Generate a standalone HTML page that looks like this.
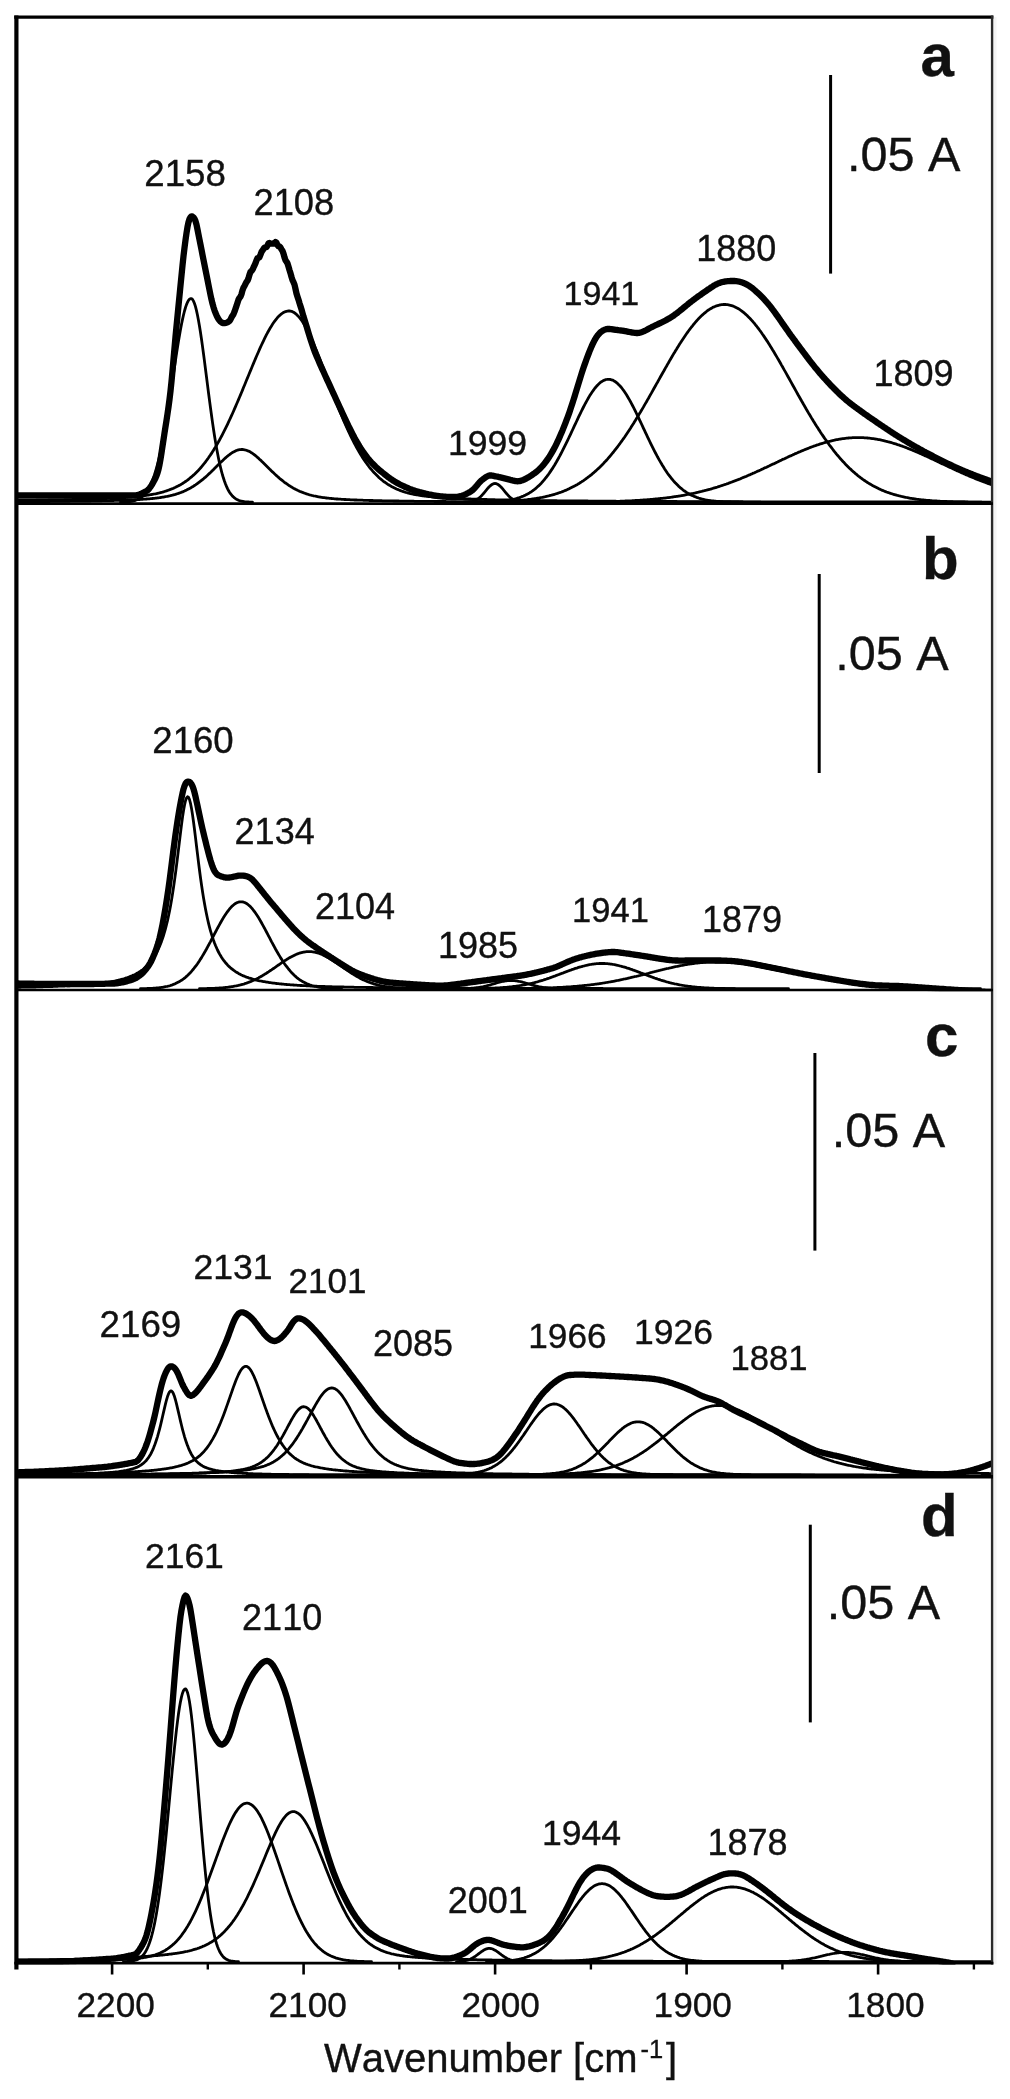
<!DOCTYPE html>
<html lang="en"><head><meta charset="utf-8"><title>IR spectra</title>
<style>html,body{margin:0;padding:0;background:#fff}svg{display:block;filter:blur(0.45px)}</style></head>
<body>
<svg width="1010" height="2099" viewBox="0 0 1010 2099" style="display:block">
<rect x="0" y="0" width="1010" height="2099" fill="#fff"/>
<defs><clipPath id="cpa"><rect x="16.5" y="17" width="976" height="487.9"/></clipPath><clipPath id="cpb"><rect x="16.5" y="503.6" width="976" height="487.7"/></clipPath><clipPath id="cpc"><rect x="16.5" y="990.0" width="976" height="488.5"/></clipPath><clipPath id="cpd"><rect x="16.5" y="1476.8" width="976" height="487.7"/></clipPath></defs>
<g clip-path="url(#cpa)" fill="none" stroke="#000" stroke-linejoin="round" stroke-linecap="round">
<path d="M120.5,502.2 L121.5,502.2 L122.5,502.1 L123.5,502.1 L124.5,502.0 L125.5,502.0 L126.5,501.9 L127.5,501.8 L128.5,501.7 L129.5,501.6 L130.5,501.5 L131.5,501.3 L132.5,501.1 L133.5,500.9 L134.5,500.6 L135.5,500.3 L136.5,499.9 L137.5,499.5 L138.5,499.0 L139.5,498.5 L140.5,497.8 L141.5,497.1 L142.5,496.3 L143.5,495.4 L144.5,494.3 L145.5,493.2 L146.5,491.8 L147.5,490.4 L148.5,488.7 L149.5,486.9 L150.5,484.9 L151.5,482.7 L152.5,480.2 L153.5,477.6 L154.5,474.7 L155.5,471.5 L156.5,468.1 L157.5,464.4 L158.5,460.5 L159.5,456.3 L160.5,451.8 L161.5,447.0 L162.5,442.0 L163.5,436.7 L164.5,431.2 L165.5,425.4 L166.5,419.4 L167.5,413.3 L168.5,406.9 L169.5,400.4 L170.5,393.8 L171.5,387.1 L172.5,380.3 L173.5,373.5 L174.5,366.8 L175.5,360.2 L176.5,353.6 L177.5,347.2 L178.5,341.1 L179.5,335.2 L180.5,329.6 L181.5,324.3 L182.5,319.4 L183.5,315.0 L184.5,311.0 L185.5,307.5 L186.5,304.6 L187.5,302.2 L188.5,300.4 L189.5,299.2 L190.5,298.6 L191.5,298.6 L192.5,299.4 L193.5,301.1 L194.5,303.5 L195.5,306.7 L196.5,310.6 L197.5,315.2 L198.5,320.4 L199.5,326.2 L200.5,332.5 L201.5,339.3 L202.5,346.4 L203.5,353.8 L204.5,361.4 L205.5,369.2 L206.5,377.0 L207.5,384.9 L208.5,392.7 L209.5,400.4 L210.5,407.9 L211.5,415.3 L212.5,422.4 L213.5,429.2 L214.5,435.7 L215.5,441.9 L216.5,447.7 L217.5,453.1 L218.5,458.2 L219.5,463.0 L220.5,467.3 L221.5,471.3 L222.5,475.0 L223.5,478.3 L224.5,481.3 L225.5,484.0 L226.5,486.4 L227.5,488.6 L228.5,490.5 L229.5,492.2 L230.5,493.7 L231.5,494.9 L232.5,496.1 L233.5,497.0 L234.5,497.9 L235.5,498.6 L236.5,499.2 L237.5,499.7 L238.5,500.2 L239.5,500.6 L240.5,500.9 L241.5,501.1 L242.5,501.4 L243.5,501.5 L244.5,501.7 L245.5,501.8 L246.5,501.9 L247.5,502.0 L248.5,502.0 L249.5,502.1 L250.5,502.1 L251.5,502.2 L252.5,502.2" stroke-width="2.8"/>
<path d="M16.5,501.7 L17.5,501.7 L18.5,501.7 L19.5,501.7 L20.5,501.7 L21.5,501.7 L22.5,501.6 L23.5,501.6 L24.5,501.6 L25.5,501.6 L26.5,501.6 L27.5,501.6 L28.5,501.6 L29.5,501.6 L30.5,501.6 L31.5,501.6 L32.5,501.6 L33.5,501.6 L34.5,501.6 L35.5,501.6 L36.5,501.6 L37.5,501.5 L38.5,501.5 L39.5,501.5 L40.5,501.5 L41.5,501.5 L42.5,501.5 L43.5,501.5 L44.5,501.5 L45.5,501.5 L46.5,501.5 L47.5,501.5 L48.5,501.5 L49.5,501.5 L50.5,501.4 L51.5,501.4 L52.5,501.4 L53.5,501.4 L54.5,501.4 L55.5,501.4 L56.5,501.4 L57.5,501.4 L58.5,501.4 L59.5,501.4 L60.5,501.4 L61.5,501.3 L62.5,501.3 L63.5,501.3 L64.5,501.3 L65.5,501.3 L66.5,501.3 L67.5,501.3 L68.5,501.3 L69.5,501.3 L70.5,501.2 L71.5,501.2 L72.5,501.2 L73.5,501.2 L74.5,501.2 L75.5,501.2 L76.5,501.2 L77.5,501.2 L78.5,501.1 L79.5,501.1 L80.5,501.1 L81.5,501.1 L82.5,501.1 L83.5,501.1 L84.5,501.1 L85.5,501.0 L86.5,501.0 L87.5,501.0 L88.5,501.0 L89.5,501.0 L90.5,501.0 L91.5,500.9 L92.5,500.9 L93.5,500.9 L94.5,500.9 L95.5,500.9 L96.5,500.9 L97.5,500.8 L98.5,500.8 L99.5,500.8 L100.5,500.8 L101.5,500.8 L102.5,500.7 L103.5,500.7 L104.5,500.7 L105.5,500.7 L106.5,500.6 L107.5,500.6 L108.5,500.6 L109.5,500.6 L110.5,500.5 L111.5,500.5 L112.5,500.5 L113.5,500.5 L114.5,500.4 L115.5,500.4 L116.5,500.4 L117.5,500.4 L118.5,500.3 L119.5,500.3 L120.5,500.3 L121.5,500.2 L122.5,500.2 L123.5,500.2 L124.5,500.1 L125.5,500.1 L126.5,500.1 L127.5,500.0 L128.5,500.0 L129.5,499.9 L130.5,499.9 L131.5,499.9 L132.5,499.8 L133.5,499.8 L134.5,499.7 L135.5,499.7 L136.5,499.6 L137.5,499.6 L138.5,499.5 L139.5,499.5 L140.5,499.4 L141.5,499.3 L142.5,499.3 L143.5,499.2 L144.5,499.2 L145.5,499.1 L146.5,499.0 L147.5,498.9 L148.5,498.9 L149.5,498.8 L150.5,498.7 L151.5,498.6 L152.5,498.5 L153.5,498.4 L154.5,498.3 L155.5,498.2 L156.5,498.1 L157.5,497.9 L158.5,497.8 L159.5,497.7 L160.5,497.5 L161.5,497.4 L162.5,497.2 L163.5,497.1 L164.5,496.9 L165.5,496.7 L166.5,496.5 L167.5,496.3 L168.5,496.1 L169.5,495.9 L170.5,495.7 L171.5,495.4 L172.5,495.2 L173.5,494.9 L174.5,494.6 L175.5,494.4 L176.5,494.0 L177.5,493.7 L178.5,493.4 L179.5,493.0 L180.5,492.7 L181.5,492.3 L182.5,491.9 L183.5,491.4 L184.5,491.0 L185.5,490.5 L186.5,490.1 L187.5,489.6 L188.5,489.1 L189.5,488.5 L190.5,488.0 L191.5,487.4 L192.5,486.8 L193.5,486.2 L194.5,485.5 L195.5,484.9 L196.5,484.2 L197.5,483.5 L198.5,482.7 L199.5,482.0 L200.5,481.2 L201.5,480.4 L202.5,479.6 L203.5,478.8 L204.5,477.9 L205.5,477.1 L206.5,476.2 L207.5,475.3 L208.5,474.3 L209.5,473.4 L210.5,472.5 L211.5,471.5 L212.5,470.5 L213.5,469.6 L214.5,468.6 L215.5,467.6 L216.5,466.6 L217.5,465.6 L218.5,464.6 L219.5,463.6 L220.5,462.6 L221.5,461.6 L222.5,460.7 L223.5,459.7 L224.5,458.8 L225.5,457.9 L226.5,457.0 L227.5,456.2 L228.5,455.3 L229.5,454.6 L230.5,453.8 L231.5,453.1 L232.5,452.5 L233.5,451.9 L234.5,451.4 L235.5,450.9 L236.5,450.5 L237.5,450.2 L238.5,449.9 L239.5,449.7 L240.5,449.6 L241.5,449.5 L242.5,449.5 L243.5,449.6 L244.5,449.8 L245.5,450.0 L246.5,450.3 L247.5,450.7 L248.5,451.1 L249.5,451.6 L250.5,452.1 L251.5,452.8 L252.5,453.4 L253.5,454.1 L254.5,454.9 L255.5,455.7 L256.5,456.5 L257.5,457.4 L258.5,458.2 L259.5,459.2 L260.5,460.1 L261.5,461.1 L262.5,462.0 L263.5,463.0 L264.5,464.0 L265.5,465.0 L266.5,466.0 L267.5,467.0 L268.5,468.0 L269.5,469.0 L270.5,469.9 L271.5,470.9 L272.5,471.9 L273.5,472.8 L274.5,473.8 L275.5,474.7 L276.5,475.6 L277.5,476.5 L278.5,477.4 L279.5,478.3 L280.5,479.1 L281.5,479.9 L282.5,480.7 L283.5,481.5 L284.5,482.3 L285.5,483.0 L286.5,483.7 L287.5,484.4 L288.5,485.1 L289.5,485.8 L290.5,486.4 L291.5,487.0 L292.5,487.6 L293.5,488.2 L294.5,488.7 L295.5,489.3 L296.5,489.8 L297.5,490.3 L298.5,490.7 L299.5,491.2 L300.5,491.6 L301.5,492.0 L302.5,492.4 L303.5,492.8 L304.5,493.2 L305.5,493.5 L306.5,493.9 L307.5,494.2 L308.5,494.5 L309.5,494.8 L310.5,495.0 L311.5,495.3 L312.5,495.5 L313.5,495.8 L314.5,496.0 L315.5,496.2 L316.5,496.4 L317.5,496.6 L318.5,496.8 L319.5,497.0 L320.5,497.1 L321.5,497.3 L322.5,497.5 L323.5,497.6 L324.5,497.7 L325.5,497.9 L326.5,498.0 L327.5,498.1 L328.5,498.2 L329.5,498.3 L330.5,498.4 L331.5,498.5 L332.5,498.6 L333.5,498.7 L334.5,498.8 L335.5,498.9 L336.5,499.0 L337.5,499.0 L338.5,499.1 L339.5,499.2 L340.5,499.2 L341.5,499.3 L342.5,499.4 L343.5,499.4 L344.5,499.5 L345.5,499.5 L346.5,499.6 L347.5,499.6 L348.5,499.7 L349.5,499.7 L350.5,499.8 L351.5,499.8 L352.5,499.9 L353.5,499.9 L354.5,500.0 L355.5,500.0 L356.5,500.0 L357.5,500.1 L358.5,500.1 L359.5,500.1 L360.5,500.2 L361.5,500.2 L362.5,500.2 L363.5,500.3 L364.5,500.3 L365.5,500.3 L366.5,500.4 L367.5,500.4 L368.5,500.4 L369.5,500.5 L370.5,500.5 L371.5,500.5 L372.5,500.5 L373.5,500.6 L374.5,500.6 L375.5,500.6 L376.5,500.6 L377.5,500.7 L378.5,500.7 L379.5,500.7 L380.5,500.7 L381.5,500.7 L382.5,500.8 L383.5,500.8 L384.5,500.8 L385.5,500.8 L386.5,500.8 L387.5,500.9 L388.5,500.9 L389.5,500.9 L390.5,500.9 L391.5,500.9 L392.5,500.9 L393.5,501.0 L394.5,501.0 L395.5,501.0 L396.5,501.0 L397.5,501.0 L398.5,501.0 L399.5,501.1 L400.5,501.1 L401.5,501.1 L402.5,501.1 L403.5,501.1 L404.5,501.1 L405.5,501.1 L406.5,501.2 L407.5,501.2 L408.5,501.2 L409.5,501.2 L410.5,501.2 L411.5,501.2 L412.5,501.2 L413.5,501.2 L414.5,501.3 L415.5,501.3 L416.5,501.3 L417.5,501.3 L418.5,501.3 L419.5,501.3 L420.5,501.3 L421.5,501.3 L422.5,501.3 L423.5,501.4 L424.5,501.4 L425.5,501.4 L426.5,501.4 L427.5,501.4 L428.5,501.4 L429.5,501.4 L430.5,501.4 L431.5,501.4 L432.5,501.4 L433.5,501.4 L434.5,501.5 L435.5,501.5 L436.5,501.5 L437.5,501.5 L438.5,501.5 L439.5,501.5 L440.5,501.5 L441.5,501.5 L442.5,501.5 L443.5,501.5 L444.5,501.5 L445.5,501.5 L446.5,501.6 L447.5,501.6 L448.5,501.6 L449.5,501.6 L450.5,501.6 L451.5,501.6 L452.5,501.6 L453.5,501.6 L454.5,501.6 L455.5,501.6 L456.5,501.6 L457.5,501.6 L458.5,501.6 L459.5,501.6 L460.5,501.6 L461.5,501.6 L462.5,501.7 L463.5,501.7 L464.5,501.7 L465.5,501.7 L466.5,501.7 L467.5,501.7 L468.5,501.7 L469.5,501.7 L470.5,501.7 L471.5,501.7 L472.5,501.7 L473.5,501.7 L474.5,501.7 L475.5,501.7 L476.5,501.7 L477.5,501.7 L478.5,501.7 L479.5,501.7 L480.5,501.7 L481.5,501.7 L482.5,501.8 L483.5,501.8 L484.5,501.8 L485.5,501.8 L486.5,501.8 L487.5,501.8 L488.5,501.8 L489.5,501.8 L490.5,501.8 L491.5,501.8 L492.5,501.8 L493.5,501.8 L494.5,501.8 L495.5,501.8 L496.5,501.8 L497.5,501.8 L498.5,501.8 L499.5,501.8 L500.5,501.8 L501.5,501.8 L502.5,501.8 L503.5,501.8 L504.5,501.8 L505.5,501.8 L506.5,501.8 L507.5,501.8 L508.5,501.9 L509.5,501.9 L510.5,501.9 L511.5,501.9 L512.5,501.9 L513.5,501.9 L514.5,501.9 L515.5,501.9 L516.5,501.9 L517.5,501.9 L518.5,501.9 L519.5,501.9 L520.5,501.9 L521.5,501.9 L522.5,501.9 L523.5,501.9 L524.5,501.9 L525.5,501.9 L526.5,501.9 L527.5,501.9 L528.5,501.9 L529.5,501.9 L530.5,501.9 L531.5,501.9 L532.5,501.9 L533.5,501.9 L534.5,501.9 L535.5,501.9 L536.5,501.9 L537.5,501.9 L538.5,501.9 L539.5,501.9 L540.5,501.9 L541.5,501.9 L542.5,501.9 L543.5,501.9 L544.5,502.0 L545.5,502.0 L546.5,502.0 L547.5,502.0 L548.5,502.0 L549.5,502.0 L550.5,502.0 L551.5,502.0 L552.5,502.0 L553.5,502.0 L554.5,502.0 L555.5,502.0 L556.5,502.0 L557.5,502.0 L558.5,502.0 L559.5,502.0 L560.5,502.0 L561.5,502.0 L562.5,502.0 L563.5,502.0 L564.5,502.0 L565.5,502.0 L566.5,502.0 L567.5,502.0 L568.5,502.0 L569.5,502.0 L570.5,502.0 L571.5,502.0 L572.5,502.0 L573.5,502.0 L574.5,502.0 L575.5,502.0 L576.5,502.0 L577.5,502.0 L578.5,502.0 L579.5,502.0 L580.5,502.0 L581.5,502.0 L582.5,502.0 L583.5,502.0 L584.5,502.0 L585.5,502.0 L586.5,502.0 L587.5,502.0 L588.5,502.0 L589.5,502.0 L590.5,502.0 L591.5,502.0 L592.5,502.0 L593.5,502.0 L594.5,502.0 L595.5,502.0 L596.5,502.0 L597.5,502.0 L598.5,502.0 L599.5,502.0 L600.5,502.1 L601.5,502.1 L602.5,502.1 L603.5,502.1 L604.5,502.1 L605.5,502.1 L606.5,502.1 L607.5,502.1 L608.5,502.1 L609.5,502.1 L610.5,502.1 L611.5,502.1 L612.5,502.1 L613.5,502.1 L614.5,502.1 L615.5,502.1 L616.5,502.1 L617.5,502.1 L618.5,502.1 L619.5,502.1 L620.5,502.1 L621.5,502.1 L622.5,502.1 L623.5,502.1 L624.5,502.1 L625.5,502.1 L626.5,502.1 L627.5,502.1 L628.5,502.1 L629.5,502.1 L630.5,502.1 L631.5,502.1 L632.5,502.1 L633.5,502.1 L634.5,502.1 L635.5,502.1 L636.5,502.1 L637.5,502.1 L638.5,502.1 L639.5,502.1 L640.5,502.1 L641.5,502.1 L642.5,502.1 L643.5,502.1 L644.5,502.1 L645.5,502.1 L646.5,502.1 L647.5,502.1 L648.5,502.1 L649.5,502.1 L650.5,502.1 L651.5,502.1 L652.5,502.1 L653.5,502.1 L654.5,502.1 L655.5,502.1 L656.5,502.1 L657.5,502.1 L658.5,502.1 L659.5,502.1 L660.5,502.1 L661.5,502.1 L662.5,502.1 L663.5,502.1 L664.5,502.1 L665.5,502.1 L666.5,502.1 L667.5,502.1 L668.5,502.1 L669.5,502.1 L670.5,502.1 L671.5,502.1 L672.5,502.1 L673.5,502.1 L674.5,502.1 L675.5,502.1 L676.5,502.1 L677.5,502.1 L678.5,502.1 L679.5,502.1 L680.5,502.1 L681.5,502.1 L682.5,502.1 L683.5,502.1 L684.5,502.1 L685.5,502.1 L686.5,502.1 L687.5,502.1 L688.5,502.1 L689.5,502.1 L690.5,502.1 L691.5,502.1 L692.5,502.1 L693.5,502.1 L694.5,502.1 L695.5,502.1 L696.5,502.1 L697.5,502.1 L698.5,502.1 L699.5,502.1 L700.5,502.1 L701.5,502.1 L702.5,502.1 L703.5,502.1 L704.5,502.1 L705.5,502.2 L706.5,502.2 L707.5,502.2 L708.5,502.2 L709.5,502.2 L710.5,502.2 L711.5,502.2 L712.5,502.2 L713.5,502.2 L714.5,502.2 L715.5,502.2 L716.5,502.2 L717.5,502.2 L718.5,502.2 L719.5,502.2 L720.5,502.2 L721.5,502.2 L722.5,502.2 L723.5,502.2 L724.5,502.2 L725.5,502.2 L726.5,502.2 L727.5,502.2 L728.5,502.2 L729.5,502.2 L730.5,502.2 L731.5,502.2 L732.5,502.2 L733.5,502.2 L734.5,502.2 L735.5,502.2 L736.5,502.2 L737.5,502.2 L738.5,502.2 L739.5,502.2 L740.5,502.2 L741.5,502.2 L742.5,502.2 L743.5,502.2 L744.5,502.2 L745.5,502.2 L746.5,502.2 L747.5,502.2 L748.5,502.2 L749.5,502.2 L750.5,502.2 L751.5,502.2 L752.5,502.2 L753.5,502.2 L754.5,502.2 L755.5,502.2 L756.5,502.2 L757.5,502.2 L758.5,502.2 L759.5,502.2 L760.5,502.2" stroke-width="2.8"/>
<path d="M16.5,500.5 L17.5,500.5 L18.5,500.5 L19.5,500.5 L20.5,500.5 L21.5,500.5 L22.5,500.4 L23.5,500.4 L24.5,500.4 L25.5,500.4 L26.5,500.4 L27.5,500.4 L28.5,500.4 L29.5,500.4 L30.5,500.3 L31.5,500.3 L32.5,500.3 L33.5,500.3 L34.5,500.3 L35.5,500.3 L36.5,500.2 L37.5,500.2 L38.5,500.2 L39.5,500.2 L40.5,500.2 L41.5,500.2 L42.5,500.1 L43.5,500.1 L44.5,500.1 L45.5,500.1 L46.5,500.1 L47.5,500.1 L48.5,500.0 L49.5,500.0 L50.5,500.0 L51.5,500.0 L52.5,500.0 L53.5,500.0 L54.5,499.9 L55.5,499.9 L56.5,499.9 L57.5,499.9 L58.5,499.9 L59.5,499.8 L60.5,499.8 L61.5,499.8 L62.5,499.8 L63.5,499.8 L64.5,499.7 L65.5,499.7 L66.5,499.7 L67.5,499.7 L68.5,499.6 L69.5,499.6 L70.5,499.6 L71.5,499.6 L72.5,499.5 L73.5,499.5 L74.5,499.5 L75.5,499.5 L76.5,499.4 L77.5,499.4 L78.5,499.4 L79.5,499.4 L80.5,499.3 L81.5,499.3 L82.5,499.3 L83.5,499.3 L84.5,499.2 L85.5,499.2 L86.5,499.2 L87.5,499.1 L88.5,499.1 L89.5,499.1 L90.5,499.1 L91.5,499.0 L92.5,499.0 L93.5,499.0 L94.5,498.9 L95.5,498.9 L96.5,498.9 L97.5,498.8 L98.5,498.8 L99.5,498.7 L100.5,498.7 L101.5,498.7 L102.5,498.6 L103.5,498.6 L104.5,498.6 L105.5,498.5 L106.5,498.5 L107.5,498.4 L108.5,498.4 L109.5,498.3 L110.5,498.3 L111.5,498.2 L112.5,498.2 L113.5,498.2 L114.5,498.1 L115.5,498.0 L116.5,498.0 L117.5,497.9 L118.5,497.9 L119.5,497.8 L120.5,497.8 L121.5,497.7 L122.5,497.7 L123.5,497.6 L124.5,497.5 L125.5,497.5 L126.5,497.4 L127.5,497.3 L128.5,497.2 L129.5,497.2 L130.5,497.1 L131.5,497.0 L132.5,496.9 L133.5,496.8 L134.5,496.7 L135.5,496.6 L136.5,496.5 L137.5,496.4 L138.5,496.3 L139.5,496.2 L140.5,496.1 L141.5,496.0 L142.5,495.9 L143.5,495.8 L144.5,495.6 L145.5,495.5 L146.5,495.3 L147.5,495.2 L148.5,495.0 L149.5,494.9 L150.5,494.7 L151.5,494.5 L152.5,494.4 L153.5,494.2 L154.5,494.0 L155.5,493.8 L156.5,493.6 L157.5,493.3 L158.5,493.1 L159.5,492.9 L160.5,492.6 L161.5,492.3 L162.5,492.1 L163.5,491.8 L164.5,491.5 L165.5,491.2 L166.5,490.9 L167.5,490.5 L168.5,490.2 L169.5,489.8 L170.5,489.4 L171.5,489.0 L172.5,488.6 L173.5,488.2 L174.5,487.7 L175.5,487.3 L176.5,486.8 L177.5,486.3 L178.5,485.8 L179.5,485.2 L180.5,484.7 L181.5,484.1 L182.5,483.5 L183.5,482.8 L184.5,482.2 L185.5,481.5 L186.5,480.8 L187.5,480.1 L188.5,479.3 L189.5,478.5 L190.5,477.7 L191.5,476.9 L192.5,476.0 L193.5,475.1 L194.5,474.2 L195.5,473.2 L196.5,472.2 L197.5,471.2 L198.5,470.2 L199.5,469.1 L200.5,468.0 L201.5,466.8 L202.5,465.6 L203.5,464.4 L204.5,463.2 L205.5,461.9 L206.5,460.5 L207.5,459.2 L208.5,457.8 L209.5,456.3 L210.5,454.9 L211.5,453.4 L212.5,451.8 L213.5,450.2 L214.5,448.6 L215.5,447.0 L216.5,445.3 L217.5,443.5 L218.5,441.8 L219.5,440.0 L220.5,438.1 L221.5,436.3 L222.5,434.3 L223.5,432.4 L224.5,430.4 L225.5,428.4 L226.5,426.4 L227.5,424.3 L228.5,422.2 L229.5,420.0 L230.5,417.9 L231.5,415.7 L232.5,413.5 L233.5,411.2 L234.5,408.9 L235.5,406.6 L236.5,404.3 L237.5,402.0 L238.5,399.6 L239.5,397.3 L240.5,394.9 L241.5,392.5 L242.5,390.1 L243.5,387.6 L244.5,385.2 L245.5,382.8 L246.5,380.3 L247.5,377.9 L248.5,375.5 L249.5,373.0 L250.5,370.6 L251.5,368.2 L252.5,365.8 L253.5,363.4 L254.5,361.0 L255.5,358.6 L256.5,356.3 L257.5,354.0 L258.5,351.7 L259.5,349.4 L260.5,347.2 L261.5,345.0 L262.5,342.9 L263.5,340.8 L264.5,338.7 L265.5,336.7 L266.5,334.7 L267.5,332.8 L268.5,331.0 L269.5,329.2 L270.5,327.5 L271.5,325.9 L272.5,324.3 L273.5,322.8 L274.5,321.4 L275.5,320.1 L276.5,318.8 L277.5,317.6 L278.5,316.6 L279.5,315.6 L280.5,314.7 L281.5,313.9 L282.5,313.2 L283.5,312.5 L284.5,312.0 L285.5,311.6 L286.5,311.3 L287.5,311.1 L288.5,311.0 L289.5,311.0 L290.5,311.1 L291.5,311.4 L292.5,311.7 L293.5,312.2 L294.5,312.8 L295.5,313.6 L296.5,314.4 L297.5,315.4 L298.5,316.4 L299.5,317.6 L300.5,318.9 L301.5,320.3 L302.5,321.7 L303.5,323.3 L304.5,325.0 L305.5,326.7 L306.5,328.6 L307.5,330.5 L308.5,332.5 L309.5,334.5 L310.5,336.6 L311.5,338.8 L312.5,341.1 L313.5,343.4 L314.5,345.7 L315.5,348.2 L316.5,350.6 L317.5,353.1 L318.5,355.6 L319.5,358.1 L320.5,360.7 L321.5,363.3 L322.5,365.9 L323.5,368.6 L324.5,371.2 L325.5,373.9 L326.5,376.5 L327.5,379.2 L328.5,381.9 L329.5,384.5 L330.5,387.2 L331.5,389.8 L332.5,392.5 L333.5,395.1 L334.5,397.7 L335.5,400.3 L336.5,402.8 L337.5,405.4 L338.5,407.9 L339.5,410.4 L340.5,412.9 L341.5,415.3 L342.5,417.7 L343.5,420.1 L344.5,422.4 L345.5,424.7 L346.5,426.9 L347.5,429.2 L348.5,431.3 L349.5,433.5 L350.5,435.6 L351.5,437.6 L352.5,439.7 L353.5,441.6 L354.5,443.6 L355.5,445.4 L356.5,447.3 L357.5,449.1 L358.5,450.8 L359.5,452.6 L360.5,454.2 L361.5,455.8 L362.5,457.4 L363.5,459.0 L364.5,460.5 L365.5,461.9 L366.5,463.3 L367.5,464.7 L368.5,466.0 L369.5,467.3 L370.5,468.5 L371.5,469.7 L372.5,470.9 L373.5,472.0 L374.5,473.1 L375.5,474.1 L376.5,475.1 L377.5,476.1 L378.5,477.1 L379.5,478.0 L380.5,478.8 L381.5,479.7 L382.5,480.5 L383.5,481.3 L384.5,482.0 L385.5,482.7 L386.5,483.4 L387.5,484.1 L388.5,484.7 L389.5,485.3 L390.5,485.9 L391.5,486.5 L392.5,487.0 L393.5,487.5 L394.5,488.0 L395.5,488.5 L396.5,489.0 L397.5,489.4 L398.5,489.8 L399.5,490.2 L400.5,490.6 L401.5,491.0 L402.5,491.3 L403.5,491.6 L404.5,492.0 L405.5,492.3 L406.5,492.5 L407.5,492.8 L408.5,493.1 L409.5,493.3 L410.5,493.6 L411.5,493.8 L412.5,494.0 L413.5,494.3 L414.5,494.5 L415.5,494.6 L416.5,494.8 L417.5,495.0 L418.5,495.2 L419.5,495.3 L420.5,495.5 L421.5,495.6 L422.5,495.8 L423.5,495.9 L424.5,496.1 L425.5,496.2 L426.5,496.3 L427.5,496.4 L428.5,496.5 L429.5,496.6 L430.5,496.7 L431.5,496.8 L432.5,496.9 L433.5,497.0 L434.5,497.1 L435.5,497.2 L436.5,497.3 L437.5,497.4 L438.5,497.4 L439.5,497.5 L440.5,497.6 L441.5,497.7 L442.5,497.7 L443.5,497.8 L444.5,497.8 L445.5,497.9 L446.5,498.0 L447.5,498.0 L448.5,498.1 L449.5,498.1 L450.5,498.2 L451.5,498.2 L452.5,498.3 L453.5,498.3 L454.5,498.4 L455.5,498.4 L456.5,498.5 L457.5,498.5 L458.5,498.6 L459.5,498.6 L460.5,498.7 L461.5,498.7 L462.5,498.7 L463.5,498.8 L464.5,498.8 L465.5,498.9 L466.5,498.9 L467.5,498.9 L468.5,499.0 L469.5,499.0 L470.5,499.0 L471.5,499.1 L472.5,499.1 L473.5,499.1 L474.5,499.2 L475.5,499.2 L476.5,499.2 L477.5,499.3 L478.5,499.3 L479.5,499.3 L480.5,499.4 L481.5,499.4 L482.5,499.4 L483.5,499.4 L484.5,499.5 L485.5,499.5 L486.5,499.5 L487.5,499.6 L488.5,499.6 L489.5,499.6 L490.5,499.6 L491.5,499.7 L492.5,499.7 L493.5,499.7 L494.5,499.7 L495.5,499.8 L496.5,499.8 L497.5,499.8 L498.5,499.8 L499.5,499.8 L500.5,499.9 L501.5,499.9 L502.5,499.9 L503.5,499.9 L504.5,499.9 L505.5,500.0 L506.5,500.0 L507.5,500.0 L508.5,500.0 L509.5,500.0 L510.5,500.1 L511.5,500.1 L512.5,500.1 L513.5,500.1 L514.5,500.1 L515.5,500.2 L516.5,500.2 L517.5,500.2 L518.5,500.2 L519.5,500.2 L520.5,500.2 L521.5,500.3 L522.5,500.3 L523.5,500.3 L524.5,500.3 L525.5,500.3 L526.5,500.3 L527.5,500.4 L528.5,500.4 L529.5,500.4 L530.5,500.4 L531.5,500.4 L532.5,500.4 L533.5,500.5 L534.5,500.5 L535.5,500.5 L536.5,500.5 L537.5,500.5 L538.5,500.5 L539.5,500.5 L540.5,500.6 L541.5,500.6 L542.5,500.6 L543.5,500.6 L544.5,500.6 L545.5,500.6 L546.5,500.6 L547.5,500.6 L548.5,500.7 L549.5,500.7 L550.5,500.7 L551.5,500.7 L552.5,500.7 L553.5,500.7 L554.5,500.7 L555.5,500.7 L556.5,500.7 L557.5,500.8 L558.5,500.8 L559.5,500.8 L560.5,500.8 L561.5,500.8 L562.5,500.8 L563.5,500.8 L564.5,500.8 L565.5,500.8 L566.5,500.9 L567.5,500.9 L568.5,500.9 L569.5,500.9 L570.5,500.9 L571.5,500.9 L572.5,500.9 L573.5,500.9 L574.5,500.9 L575.5,500.9 L576.5,500.9 L577.5,501.0 L578.5,501.0 L579.5,501.0 L580.5,501.0 L581.5,501.0 L582.5,501.0 L583.5,501.0 L584.5,501.0 L585.5,501.0 L586.5,501.0 L587.5,501.0 L588.5,501.1 L589.5,501.1 L590.5,501.1 L591.5,501.1 L592.5,501.1 L593.5,501.1 L594.5,501.1 L595.5,501.1 L596.5,501.1 L597.5,501.1 L598.5,501.1 L599.5,501.1 L600.5,501.1 L601.5,501.2 L602.5,501.2 L603.5,501.2 L604.5,501.2 L605.5,501.2 L606.5,501.2 L607.5,501.2 L608.5,501.2 L609.5,501.2 L610.5,501.2 L611.5,501.2 L612.5,501.2 L613.5,501.2 L614.5,501.2 L615.5,501.2 L616.5,501.3 L617.5,501.3 L618.5,501.3 L619.5,501.3 L620.5,501.3 L621.5,501.3 L622.5,501.3 L623.5,501.3 L624.5,501.3 L625.5,501.3 L626.5,501.3 L627.5,501.3 L628.5,501.3 L629.5,501.3 L630.5,501.3 L631.5,501.3 L632.5,501.3 L633.5,501.4 L634.5,501.4 L635.5,501.4 L636.5,501.4 L637.5,501.4 L638.5,501.4 L639.5,501.4 L640.5,501.4 L641.5,501.4 L642.5,501.4 L643.5,501.4 L644.5,501.4 L645.5,501.4 L646.5,501.4 L647.5,501.4 L648.5,501.4 L649.5,501.4 L650.5,501.4 L651.5,501.4 L652.5,501.4 L653.5,501.5 L654.5,501.5 L655.5,501.5 L656.5,501.5 L657.5,501.5 L658.5,501.5 L659.5,501.5 L660.5,501.5 L661.5,501.5 L662.5,501.5 L663.5,501.5 L664.5,501.5 L665.5,501.5 L666.5,501.5 L667.5,501.5 L668.5,501.5 L669.5,501.5 L670.5,501.5 L671.5,501.5 L672.5,501.5 L673.5,501.5 L674.5,501.5 L675.5,501.5 L676.5,501.5 L677.5,501.6 L678.5,501.6 L679.5,501.6 L680.5,501.6 L681.5,501.6 L682.5,501.6 L683.5,501.6 L684.5,501.6 L685.5,501.6 L686.5,501.6 L687.5,501.6 L688.5,501.6 L689.5,501.6 L690.5,501.6 L691.5,501.6 L692.5,501.6 L693.5,501.6 L694.5,501.6 L695.5,501.6 L696.5,501.6 L697.5,501.6 L698.5,501.6 L699.5,501.6 L700.5,501.6 L701.5,501.6 L702.5,501.6 L703.5,501.6 L704.5,501.6 L705.5,501.6 L706.5,501.7 L707.5,501.7 L708.5,501.7 L709.5,501.7 L710.5,501.7 L711.5,501.7 L712.5,501.7 L713.5,501.7 L714.5,501.7 L715.5,501.7 L716.5,501.7 L717.5,501.7 L718.5,501.7 L719.5,501.7 L720.5,501.7 L721.5,501.7 L722.5,501.7 L723.5,501.7 L724.5,501.7 L725.5,501.7 L726.5,501.7 L727.5,501.7 L728.5,501.7 L729.5,501.7 L730.5,501.7 L731.5,501.7 L732.5,501.7 L733.5,501.7 L734.5,501.7 L735.5,501.7 L736.5,501.7 L737.5,501.7 L738.5,501.7 L739.5,501.7 L740.5,501.7 L741.5,501.7 L742.5,501.7 L743.5,501.8 L744.5,501.8 L745.5,501.8 L746.5,501.8 L747.5,501.8 L748.5,501.8 L749.5,501.8 L750.5,501.8 L751.5,501.8 L752.5,501.8 L753.5,501.8 L754.5,501.8 L755.5,501.8 L756.5,501.8 L757.5,501.8 L758.5,501.8 L759.5,501.8 L760.5,501.8 L761.5,501.8 L762.5,501.8 L763.5,501.8 L764.5,501.8 L765.5,501.8 L766.5,501.8 L767.5,501.8 L768.5,501.8 L769.5,501.8 L770.5,501.8 L771.5,501.8 L772.5,501.8 L773.5,501.8 L774.5,501.8 L775.5,501.8 L776.5,501.8 L777.5,501.8 L778.5,501.8 L779.5,501.8 L780.5,501.8 L781.5,501.8 L782.5,501.8 L783.5,501.8 L784.5,501.8 L785.5,501.8 L786.5,501.8 L787.5,501.8 L788.5,501.8 L789.5,501.8 L790.5,501.8 L791.5,501.8 L792.5,501.9 L793.5,501.9 L794.5,501.9 L795.5,501.9 L796.5,501.9 L797.5,501.9 L798.5,501.9 L799.5,501.9 L800.5,501.9 L801.5,501.9 L802.5,501.9 L803.5,501.9 L804.5,501.9 L805.5,501.9 L806.5,501.9 L807.5,501.9 L808.5,501.9 L809.5,501.9 L810.5,501.9 L811.5,501.9 L812.5,501.9 L813.5,501.9 L814.5,501.9 L815.5,501.9 L816.5,501.9 L817.5,501.9 L818.5,501.9 L819.5,501.9 L820.5,501.9 L821.5,501.9 L822.5,501.9 L823.5,501.9 L824.5,501.9 L825.5,501.9 L826.5,501.9 L827.5,501.9 L828.5,501.9 L829.5,501.9 L830.5,501.9 L831.5,501.9 L832.5,501.9 L833.5,501.9 L834.5,501.9 L835.5,501.9 L836.5,501.9 L837.5,501.9 L838.5,501.9 L839.5,501.9 L840.5,501.9 L841.5,501.9 L842.5,501.9 L843.5,501.9 L844.5,501.9 L845.5,501.9 L846.5,501.9 L847.5,501.9 L848.5,501.9 L849.5,501.9 L850.5,501.9 L851.5,501.9 L852.5,501.9 L853.5,501.9 L854.5,501.9 L855.5,501.9 L856.5,501.9 L857.5,501.9 L858.5,501.9 L859.5,501.9 L860.5,502.0 L861.5,502.0 L862.5,502.0 L863.5,502.0 L864.5,502.0 L865.5,502.0 L866.5,502.0 L867.5,502.0 L868.5,502.0 L869.5,502.0 L870.5,502.0 L871.5,502.0 L872.5,502.0 L873.5,502.0 L874.5,502.0 L875.5,502.0 L876.5,502.0 L877.5,502.0 L878.5,502.0 L879.5,502.0 L880.5,502.0 L881.5,502.0 L882.5,502.0 L883.5,502.0 L884.5,502.0 L885.5,502.0 L886.5,502.0 L887.5,502.0 L888.5,502.0 L889.5,502.0 L890.5,502.0 L891.5,502.0 L892.5,502.0 L893.5,502.0 L894.5,502.0 L895.5,502.0 L896.5,502.0 L897.5,502.0 L898.5,502.0 L899.5,502.0 L900.5,502.0 L901.5,502.0 L902.5,502.0 L903.5,502.0 L904.5,502.0 L905.5,502.0 L906.5,502.0 L907.5,502.0 L908.5,502.0 L909.5,502.0 L910.5,502.0 L911.5,502.0 L912.5,502.0 L913.5,502.0 L914.5,502.0 L915.5,502.0 L916.5,502.0 L917.5,502.0 L918.5,502.0 L919.5,502.0 L920.5,502.0 L921.5,502.0 L922.5,502.0 L923.5,502.0 L924.5,502.0 L925.5,502.0 L926.5,502.0 L927.5,502.0 L928.5,502.0 L929.5,502.0 L930.5,502.0 L931.5,502.0 L932.5,502.0 L933.5,502.0 L934.5,502.0 L935.5,502.0 L936.5,502.0 L937.5,502.0 L938.5,502.0 L939.5,502.0 L940.5,502.0 L941.5,502.0 L942.5,502.0 L943.5,502.0 L944.5,502.0 L945.5,502.0 L946.5,502.0 L947.5,502.0 L948.5,502.0 L949.5,502.0 L950.5,502.0 L951.5,502.0 L952.5,502.0 L953.5,502.0 L954.5,502.0 L955.5,502.0 L956.5,502.0 L957.5,502.0 L958.5,502.0 L959.5,502.0 L960.5,502.0 L961.5,502.0 L962.5,502.0 L963.5,502.0 L964.5,502.0 L965.5,502.1 L966.5,502.1 L967.5,502.1 L968.5,502.1 L969.5,502.1 L970.5,502.1 L971.5,502.1 L972.5,502.1 L973.5,502.1 L974.5,502.1 L975.5,502.1 L976.5,502.1 L977.5,502.1 L978.5,502.1 L979.5,502.1 L980.5,502.1 L981.5,502.1 L982.5,502.1 L983.5,502.1 L984.5,502.1 L985.5,502.1 L986.5,502.1 L987.5,502.1 L988.5,502.1 L989.5,502.1 L990.5,502.1 L991.5,502.1 L992.5,502.1" stroke-width="2.8"/>
<path d="M464.5,502.2 L465.5,502.2 L466.5,502.1 L467.5,502.1 L468.5,502.0 L469.5,501.8 L470.5,501.7 L471.5,501.5 L472.5,501.3 L473.5,501.0 L474.5,500.6 L475.5,500.2 L476.5,499.7 L477.5,499.0 L478.5,498.3 L479.5,497.6 L480.5,496.7 L481.5,495.7 L482.5,494.6 L483.5,493.5 L484.5,492.3 L485.5,491.1 L486.5,489.9 L487.5,488.7 L488.5,487.5 L489.5,486.5 L490.5,485.6 L491.5,484.8 L492.5,484.2 L493.5,483.7 L494.5,483.5 L495.5,483.5 L496.5,483.7 L497.5,484.2 L498.5,484.8 L499.5,485.6 L500.5,486.5 L501.5,487.5 L502.5,488.7 L503.5,489.9 L504.5,491.1 L505.5,492.3 L506.5,493.5 L507.5,494.6 L508.5,495.7 L509.5,496.7 L510.5,497.6 L511.5,498.3 L512.5,499.0 L513.5,499.7 L514.5,500.2 L515.5,500.6 L516.5,501.0 L517.5,501.3 L518.5,501.5 L519.5,501.7 L520.5,501.8 L521.5,502.0 L522.5,502.1 L523.5,502.1 L524.5,502.2 L525.5,502.2" stroke-width="2.8"/>
<path d="M478.5,502.2 L479.5,502.2 L480.5,502.2 L481.5,502.1 L482.5,502.1 L483.5,502.1 L484.5,502.1 L485.5,502.1 L486.5,502.0 L487.5,502.0 L488.5,502.0 L489.5,501.9 L490.5,501.9 L491.5,501.9 L492.5,501.8 L493.5,501.8 L494.5,501.7 L495.5,501.7 L496.5,501.6 L497.5,501.5 L498.5,501.5 L499.5,501.4 L500.5,501.3 L501.5,501.2 L502.5,501.1 L503.5,501.0 L504.5,500.9 L505.5,500.7 L506.5,500.6 L507.5,500.5 L508.5,500.3 L509.5,500.1 L510.5,499.9 L511.5,499.7 L512.5,499.5 L513.5,499.3 L514.5,499.1 L515.5,498.8 L516.5,498.5 L517.5,498.2 L518.5,497.9 L519.5,497.6 L520.5,497.2 L521.5,496.8 L522.5,496.4 L523.5,496.0 L524.5,495.5 L525.5,495.1 L526.5,494.6 L527.5,494.0 L528.5,493.5 L529.5,492.9 L530.5,492.2 L531.5,491.6 L532.5,490.9 L533.5,490.1 L534.5,489.4 L535.5,488.6 L536.5,487.7 L537.5,486.8 L538.5,485.9 L539.5,484.9 L540.5,483.9 L541.5,482.9 L542.5,481.8 L543.5,480.6 L544.5,479.5 L545.5,478.2 L546.5,477.0 L547.5,475.6 L548.5,474.3 L549.5,472.9 L550.5,471.4 L551.5,469.9 L552.5,468.4 L553.5,466.8 L554.5,465.2 L555.5,463.5 L556.5,461.8 L557.5,460.0 L558.5,458.2 L559.5,456.4 L560.5,454.5 L561.5,452.6 L562.5,450.7 L563.5,448.7 L564.5,446.7 L565.5,444.7 L566.5,442.7 L567.5,440.6 L568.5,438.5 L569.5,436.4 L570.5,434.3 L571.5,432.1 L572.5,430.0 L573.5,427.9 L574.5,425.7 L575.5,423.6 L576.5,421.5 L577.5,419.3 L578.5,417.2 L579.5,415.1 L580.5,413.1 L581.5,411.0 L582.5,409.0 L583.5,407.0 L584.5,405.1 L585.5,403.2 L586.5,401.4 L587.5,399.6 L588.5,397.8 L589.5,396.1 L590.5,394.5 L591.5,393.0 L592.5,391.5 L593.5,390.1 L594.5,388.7 L595.5,387.5 L596.5,386.3 L597.5,385.2 L598.5,384.2 L599.5,383.3 L600.5,382.4 L601.5,381.7 L602.5,381.1 L603.5,380.5 L604.5,380.1 L605.5,379.7 L606.5,379.5 L607.5,379.3 L608.5,379.3 L609.5,379.4 L610.5,379.5 L611.5,379.8 L612.5,380.1 L613.5,380.6 L614.5,381.2 L615.5,381.8 L616.5,382.6 L617.5,383.4 L618.5,384.4 L619.5,385.4 L620.5,386.5 L621.5,387.7 L622.5,389.0 L623.5,390.3 L624.5,391.8 L625.5,393.3 L626.5,394.8 L627.5,396.5 L628.5,398.2 L629.5,399.9 L630.5,401.7 L631.5,403.6 L632.5,405.5 L633.5,407.4 L634.5,409.4 L635.5,411.4 L636.5,413.5 L637.5,415.6 L638.5,417.6 L639.5,419.8 L640.5,421.9 L641.5,424.0 L642.5,426.1 L643.5,428.3 L644.5,430.4 L645.5,432.6 L646.5,434.7 L647.5,436.8 L648.5,438.9 L649.5,441.0 L650.5,443.1 L651.5,445.1 L652.5,447.1 L653.5,449.1 L654.5,451.1 L655.5,453.0 L656.5,454.9 L657.5,456.8 L658.5,458.6 L659.5,460.4 L660.5,462.1 L661.5,463.8 L662.5,465.5 L663.5,467.1 L664.5,468.7 L665.5,470.2 L666.5,471.7 L667.5,473.2 L668.5,474.6 L669.5,475.9 L670.5,477.2 L671.5,478.5 L672.5,479.7 L673.5,480.9 L674.5,482.0 L675.5,483.1 L676.5,484.1 L677.5,485.1 L678.5,486.1 L679.5,487.0 L680.5,487.9 L681.5,488.7 L682.5,489.5 L683.5,490.3 L684.5,491.0 L685.5,491.7 L686.5,492.4 L687.5,493.0 L688.5,493.6 L689.5,494.1 L690.5,494.7 L691.5,495.2 L692.5,495.6 L693.5,496.1 L694.5,496.5 L695.5,496.9 L696.5,497.3 L697.5,497.6 L698.5,498.0 L699.5,498.3 L700.5,498.6 L701.5,498.9 L702.5,499.1 L703.5,499.3 L704.5,499.6 L705.5,499.8 L706.5,500.0 L707.5,500.2 L708.5,500.3 L709.5,500.5 L710.5,500.6 L711.5,500.8 L712.5,500.9 L713.5,501.0 L714.5,501.1 L715.5,501.2 L716.5,501.3 L717.5,501.4 L718.5,501.5 L719.5,501.5 L720.5,501.6 L721.5,501.7 L722.5,501.7 L723.5,501.8 L724.5,501.8 L725.5,501.9 L726.5,501.9 L727.5,501.9 L728.5,502.0 L729.5,502.0 L730.5,502.0 L731.5,502.1 L732.5,502.1 L733.5,502.1 L734.5,502.1 L735.5,502.1 L736.5,502.2 L737.5,502.2 L738.5,502.2" stroke-width="2.8"/>
<path d="M465.5,502.2 L466.5,502.2 L467.5,502.2 L468.5,502.2 L469.5,502.2 L470.5,502.1 L471.5,502.1 L472.5,502.1 L473.5,502.1 L474.5,502.1 L475.5,502.1 L476.5,502.1 L477.5,502.1 L478.5,502.1 L479.5,502.0 L480.5,502.0 L481.5,502.0 L482.5,502.0 L483.5,502.0 L484.5,502.0 L485.5,502.0 L486.5,501.9 L487.5,501.9 L488.5,501.9 L489.5,501.9 L490.5,501.8 L491.5,501.8 L492.5,501.8 L493.5,501.8 L494.5,501.7 L495.5,501.7 L496.5,501.7 L497.5,501.7 L498.5,501.6 L499.5,501.6 L500.5,501.5 L501.5,501.5 L502.5,501.5 L503.5,501.4 L504.5,501.4 L505.5,501.3 L506.5,501.3 L507.5,501.2 L508.5,501.2 L509.5,501.1 L510.5,501.1 L511.5,501.0 L512.5,501.0 L513.5,500.9 L514.5,500.8 L515.5,500.8 L516.5,500.7 L517.5,500.6 L518.5,500.5 L519.5,500.4 L520.5,500.4 L521.5,500.3 L522.5,500.2 L523.5,500.1 L524.5,500.0 L525.5,499.9 L526.5,499.8 L527.5,499.6 L528.5,499.5 L529.5,499.4 L530.5,499.3 L531.5,499.1 L532.5,499.0 L533.5,498.9 L534.5,498.7 L535.5,498.6 L536.5,498.4 L537.5,498.2 L538.5,498.1 L539.5,497.9 L540.5,497.7 L541.5,497.5 L542.5,497.3 L543.5,497.1 L544.5,496.9 L545.5,496.7 L546.5,496.4 L547.5,496.2 L548.5,496.0 L549.5,495.7 L550.5,495.4 L551.5,495.2 L552.5,494.9 L553.5,494.6 L554.5,494.3 L555.5,494.0 L556.5,493.7 L557.5,493.4 L558.5,493.0 L559.5,492.7 L560.5,492.3 L561.5,492.0 L562.5,491.6 L563.5,491.2 L564.5,490.8 L565.5,490.4 L566.5,489.9 L567.5,489.5 L568.5,489.0 L569.5,488.6 L570.5,488.1 L571.5,487.6 L572.5,487.1 L573.5,486.6 L574.5,486.0 L575.5,485.5 L576.5,484.9 L577.5,484.4 L578.5,483.8 L579.5,483.2 L580.5,482.5 L581.5,481.9 L582.5,481.2 L583.5,480.6 L584.5,479.9 L585.5,479.2 L586.5,478.4 L587.5,477.7 L588.5,476.9 L589.5,476.2 L590.5,475.4 L591.5,474.6 L592.5,473.7 L593.5,472.9 L594.5,472.0 L595.5,471.1 L596.5,470.2 L597.5,469.3 L598.5,468.4 L599.5,467.4 L600.5,466.4 L601.5,465.4 L602.5,464.4 L603.5,463.4 L604.5,462.3 L605.5,461.3 L606.5,460.2 L607.5,459.1 L608.5,457.9 L609.5,456.8 L610.5,455.6 L611.5,454.4 L612.5,453.2 L613.5,452.0 L614.5,450.7 L615.5,449.4 L616.5,448.1 L617.5,446.8 L618.5,445.5 L619.5,444.2 L620.5,442.8 L621.5,441.4 L622.5,440.0 L623.5,438.6 L624.5,437.2 L625.5,435.7 L626.5,434.2 L627.5,432.7 L628.5,431.2 L629.5,429.7 L630.5,428.2 L631.5,426.6 L632.5,425.0 L633.5,423.5 L634.5,421.8 L635.5,420.2 L636.5,418.6 L637.5,417.0 L638.5,415.3 L639.5,413.6 L640.5,412.0 L641.5,410.3 L642.5,408.6 L643.5,406.9 L644.5,405.1 L645.5,403.4 L646.5,401.7 L647.5,399.9 L648.5,398.2 L649.5,396.4 L650.5,394.6 L651.5,392.9 L652.5,391.1 L653.5,389.3 L654.5,387.5 L655.5,385.7 L656.5,383.9 L657.5,382.2 L658.5,380.4 L659.5,378.6 L660.5,376.8 L661.5,375.0 L662.5,373.2 L663.5,371.5 L664.5,369.7 L665.5,367.9 L666.5,366.2 L667.5,364.4 L668.5,362.7 L669.5,360.9 L670.5,359.2 L671.5,357.5 L672.5,355.8 L673.5,354.1 L674.5,352.5 L675.5,350.8 L676.5,349.2 L677.5,347.5 L678.5,345.9 L679.5,344.3 L680.5,342.8 L681.5,341.2 L682.5,339.7 L683.5,338.2 L684.5,336.7 L685.5,335.2 L686.5,333.8 L687.5,332.4 L688.5,331.0 L689.5,329.7 L690.5,328.3 L691.5,327.0 L692.5,325.8 L693.5,324.5 L694.5,323.3 L695.5,322.1 L696.5,321.0 L697.5,319.9 L698.5,318.8 L699.5,317.8 L700.5,316.8 L701.5,315.8 L702.5,314.9 L703.5,314.0 L704.5,313.1 L705.5,312.3 L706.5,311.5 L707.5,310.7 L708.5,310.0 L709.5,309.4 L710.5,308.8 L711.5,308.2 L712.5,307.6 L713.5,307.1 L714.5,306.7 L715.5,306.3 L716.5,305.9 L717.5,305.6 L718.5,305.3 L719.5,305.0 L720.5,304.9 L721.5,304.7 L722.5,304.6 L723.5,304.5 L724.5,304.5 L725.5,304.5 L726.5,304.6 L727.5,304.7 L728.5,304.9 L729.5,305.1 L730.5,305.3 L731.5,305.6 L732.5,305.9 L733.5,306.3 L734.5,306.7 L735.5,307.2 L736.5,307.7 L737.5,308.2 L738.5,308.8 L739.5,309.4 L740.5,310.1 L741.5,310.8 L742.5,311.6 L743.5,312.4 L744.5,313.2 L745.5,314.1 L746.5,315.0 L747.5,315.9 L748.5,316.9 L749.5,317.9 L750.5,319.0 L751.5,320.1 L752.5,321.2 L753.5,322.4 L754.5,323.5 L755.5,324.8 L756.5,326.0 L757.5,327.3 L758.5,328.6 L759.5,330.0 L760.5,331.3 L761.5,332.7 L762.5,334.2 L763.5,335.6 L764.5,337.1 L765.5,338.6 L766.5,340.1 L767.5,341.6 L768.5,343.2 L769.5,344.8 L770.5,346.4 L771.5,348.0 L772.5,349.7 L773.5,351.3 L774.5,353.0 L775.5,354.7 L776.5,356.4 L777.5,358.1 L778.5,359.8 L779.5,361.5 L780.5,363.3 L781.5,365.1 L782.5,366.8 L783.5,368.6 L784.5,370.4 L785.5,372.1 L786.5,373.9 L787.5,375.7 L788.5,377.5 L789.5,379.3 L790.5,381.1 L791.5,382.9 L792.5,384.7 L793.5,386.5 L794.5,388.3 L795.5,390.1 L796.5,391.9 L797.5,393.7 L798.5,395.5 L799.5,397.2 L800.5,399.0 L801.5,400.8 L802.5,402.5 L803.5,404.3 L804.5,406.0 L805.5,407.7 L806.5,409.5 L807.5,411.2 L808.5,412.9 L809.5,414.5 L810.5,416.2 L811.5,417.9 L812.5,419.5 L813.5,421.2 L814.5,422.8 L815.5,424.4 L816.5,426.0 L817.5,427.5 L818.5,429.1 L819.5,430.6 L820.5,432.2 L821.5,433.7 L822.5,435.1 L823.5,436.6 L824.5,438.1 L825.5,439.5 L826.5,440.9 L827.5,442.3 L828.5,443.7 L829.5,445.1 L830.5,446.4 L831.5,447.7 L832.5,449.0 L833.5,450.3 L834.5,451.6 L835.5,452.8 L836.5,454.1 L837.5,455.3 L838.5,456.4 L839.5,457.6 L840.5,458.8 L841.5,459.9 L842.5,461.0 L843.5,462.1 L844.5,463.1 L845.5,464.2 L846.5,465.2 L847.5,466.2 L848.5,467.2 L849.5,468.2 L850.5,469.1 L851.5,470.1 L852.5,471.0 L853.5,471.9 L854.5,472.7 L855.5,473.6 L856.5,474.4 L857.5,475.3 L858.5,476.1 L859.5,476.8 L860.5,477.6 L861.5,478.3 L862.5,479.1 L863.5,479.8 L864.5,480.5 L865.5,481.2 L866.5,481.8 L867.5,482.5 L868.5,483.1 L869.5,483.7 L870.5,484.3 L871.5,484.9 L872.5,485.5 L873.5,486.0 L874.5,486.6 L875.5,487.1 L876.5,487.6 L877.5,488.1 L878.5,488.6 L879.5,489.0 L880.5,489.5 L881.5,489.9 L882.5,490.4 L883.5,490.8 L884.5,491.2 L885.5,491.6 L886.5,492.0 L887.5,492.3 L888.5,492.7 L889.5,493.0 L890.5,493.4 L891.5,493.7 L892.5,494.0 L893.5,494.3 L894.5,494.6 L895.5,494.9 L896.5,495.2 L897.5,495.5 L898.5,495.7 L899.5,496.0 L900.5,496.2 L901.5,496.5 L902.5,496.7 L903.5,496.9 L904.5,497.1 L905.5,497.3 L906.5,497.5 L907.5,497.7 L908.5,497.9 L909.5,498.1 L910.5,498.3 L911.5,498.4 L912.5,498.6 L913.5,498.7 L914.5,498.9 L915.5,499.0 L916.5,499.2 L917.5,499.3 L918.5,499.4 L919.5,499.6 L920.5,499.7 L921.5,499.8 L922.5,499.9 L923.5,500.0 L924.5,500.1 L925.5,500.2 L926.5,500.3 L927.5,500.4 L928.5,500.5 L929.5,500.5 L930.5,500.6 L931.5,500.7 L932.5,500.8 L933.5,500.8 L934.5,500.9 L935.5,501.0 L936.5,501.0 L937.5,501.1 L938.5,501.2 L939.5,501.2 L940.5,501.3 L941.5,501.3 L942.5,501.4 L943.5,501.4 L944.5,501.4 L945.5,501.5 L946.5,501.5 L947.5,501.6 L948.5,501.6 L949.5,501.6 L950.5,501.7 L951.5,501.7 L952.5,501.7 L953.5,501.8 L954.5,501.8 L955.5,501.8 L956.5,501.8 L957.5,501.9 L958.5,501.9 L959.5,501.9 L960.5,501.9 L961.5,501.9 L962.5,502.0 L963.5,502.0 L964.5,502.0 L965.5,502.0 L966.5,502.0 L967.5,502.0 L968.5,502.1 L969.5,502.1 L970.5,502.1 L971.5,502.1 L972.5,502.1 L973.5,502.1 L974.5,502.1 L975.5,502.1 L976.5,502.1 L977.5,502.2 L978.5,502.2 L979.5,502.2 L980.5,502.2 L981.5,502.2" stroke-width="2.8"/>
<path d="M563.5,502.2 L564.5,502.2 L565.5,502.2 L566.5,502.2 L567.5,502.2 L568.5,502.2 L569.5,502.2 L570.5,502.1 L571.5,502.1 L572.5,502.1 L573.5,502.1 L574.5,502.1 L575.5,502.1 L576.5,502.1 L577.5,502.1 L578.5,502.1 L579.5,502.1 L580.5,502.1 L581.5,502.1 L582.5,502.0 L583.5,502.0 L584.5,502.0 L585.5,502.0 L586.5,502.0 L587.5,502.0 L588.5,502.0 L589.5,502.0 L590.5,501.9 L591.5,501.9 L592.5,501.9 L593.5,501.9 L594.5,501.9 L595.5,501.9 L596.5,501.9 L597.5,501.8 L598.5,501.8 L599.5,501.8 L600.5,501.8 L601.5,501.8 L602.5,501.7 L603.5,501.7 L604.5,501.7 L605.5,501.7 L606.5,501.7 L607.5,501.6 L608.5,501.6 L609.5,501.6 L610.5,501.6 L611.5,501.5 L612.5,501.5 L613.5,501.5 L614.5,501.4 L615.5,501.4 L616.5,501.4 L617.5,501.3 L618.5,501.3 L619.5,501.3 L620.5,501.2 L621.5,501.2 L622.5,501.2 L623.5,501.1 L624.5,501.1 L625.5,501.0 L626.5,501.0 L627.5,501.0 L628.5,500.9 L629.5,500.9 L630.5,500.8 L631.5,500.8 L632.5,500.7 L633.5,500.7 L634.5,500.6 L635.5,500.5 L636.5,500.5 L637.5,500.4 L638.5,500.4 L639.5,500.3 L640.5,500.2 L641.5,500.2 L642.5,500.1 L643.5,500.0 L644.5,500.0 L645.5,499.9 L646.5,499.8 L647.5,499.7 L648.5,499.7 L649.5,499.6 L650.5,499.5 L651.5,499.4 L652.5,499.3 L653.5,499.2 L654.5,499.1 L655.5,499.0 L656.5,498.9 L657.5,498.8 L658.5,498.7 L659.5,498.6 L660.5,498.5 L661.5,498.4 L662.5,498.3 L663.5,498.2 L664.5,498.1 L665.5,498.0 L666.5,497.8 L667.5,497.7 L668.5,497.6 L669.5,497.5 L670.5,497.3 L671.5,497.2 L672.5,497.0 L673.5,496.9 L674.5,496.7 L675.5,496.6 L676.5,496.4 L677.5,496.3 L678.5,496.1 L679.5,496.0 L680.5,495.8 L681.5,495.6 L682.5,495.5 L683.5,495.3 L684.5,495.1 L685.5,494.9 L686.5,494.7 L687.5,494.5 L688.5,494.3 L689.5,494.1 L690.5,493.9 L691.5,493.7 L692.5,493.5 L693.5,493.3 L694.5,493.1 L695.5,492.9 L696.5,492.6 L697.5,492.4 L698.5,492.2 L699.5,491.9 L700.5,491.7 L701.5,491.5 L702.5,491.2 L703.5,490.9 L704.5,490.7 L705.5,490.4 L706.5,490.2 L707.5,489.9 L708.5,489.6 L709.5,489.3 L710.5,489.1 L711.5,488.8 L712.5,488.5 L713.5,488.2 L714.5,487.9 L715.5,487.6 L716.5,487.3 L717.5,487.0 L718.5,486.6 L719.5,486.3 L720.5,486.0 L721.5,485.7 L722.5,485.3 L723.5,485.0 L724.5,484.7 L725.5,484.3 L726.5,484.0 L727.5,483.6 L728.5,483.3 L729.5,482.9 L730.5,482.5 L731.5,482.2 L732.5,481.8 L733.5,481.4 L734.5,481.0 L735.5,480.6 L736.5,480.2 L737.5,479.9 L738.5,479.5 L739.5,479.1 L740.5,478.7 L741.5,478.2 L742.5,477.8 L743.5,477.4 L744.5,477.0 L745.5,476.6 L746.5,476.2 L747.5,475.7 L748.5,475.3 L749.5,474.9 L750.5,474.4 L751.5,474.0 L752.5,473.6 L753.5,473.1 L754.5,472.7 L755.5,472.2 L756.5,471.8 L757.5,471.3 L758.5,470.9 L759.5,470.4 L760.5,470.0 L761.5,469.5 L762.5,469.0 L763.5,468.6 L764.5,468.1 L765.5,467.6 L766.5,467.2 L767.5,466.7 L768.5,466.2 L769.5,465.8 L770.5,465.3 L771.5,464.8 L772.5,464.3 L773.5,463.9 L774.5,463.4 L775.5,462.9 L776.5,462.4 L777.5,462.0 L778.5,461.5 L779.5,461.0 L780.5,460.5 L781.5,460.1 L782.5,459.6 L783.5,459.1 L784.5,458.7 L785.5,458.2 L786.5,457.7 L787.5,457.3 L788.5,456.8 L789.5,456.3 L790.5,455.9 L791.5,455.4 L792.5,455.0 L793.5,454.5 L794.5,454.1 L795.5,453.6 L796.5,453.2 L797.5,452.8 L798.5,452.3 L799.5,451.9 L800.5,451.5 L801.5,451.0 L802.5,450.6 L803.5,450.2 L804.5,449.8 L805.5,449.4 L806.5,449.0 L807.5,448.6 L808.5,448.2 L809.5,447.8 L810.5,447.4 L811.5,447.0 L812.5,446.7 L813.5,446.3 L814.5,445.9 L815.5,445.6 L816.5,445.2 L817.5,444.9 L818.5,444.6 L819.5,444.2 L820.5,443.9 L821.5,443.6 L822.5,443.3 L823.5,443.0 L824.5,442.7 L825.5,442.4 L826.5,442.1 L827.5,441.8 L828.5,441.6 L829.5,441.3 L830.5,441.1 L831.5,440.8 L832.5,440.6 L833.5,440.4 L834.5,440.2 L835.5,439.9 L836.5,439.7 L837.5,439.6 L838.5,439.4 L839.5,439.2 L840.5,439.0 L841.5,438.9 L842.5,438.7 L843.5,438.6 L844.5,438.5 L845.5,438.3 L846.5,438.2 L847.5,438.1 L848.5,438.0 L849.5,437.9 L850.5,437.9 L851.5,437.8 L852.5,437.7 L853.5,437.7 L854.5,437.7 L855.5,437.6 L856.5,437.6 L857.5,437.6 L858.5,437.6 L859.5,437.6 L860.5,437.6 L861.5,437.7 L862.5,437.7 L863.5,437.7 L864.5,437.8 L865.5,437.9 L866.5,437.9 L867.5,438.0 L868.5,438.1 L869.5,438.2 L870.5,438.3 L871.5,438.5 L872.5,438.6 L873.5,438.7 L874.5,438.9 L875.5,439.0 L876.5,439.2 L877.5,439.4 L878.5,439.6 L879.5,439.7 L880.5,439.9 L881.5,440.2 L882.5,440.4 L883.5,440.6 L884.5,440.8 L885.5,441.1 L886.5,441.3 L887.5,441.6 L888.5,441.8 L889.5,442.1 L890.5,442.4 L891.5,442.7 L892.5,443.0 L893.5,443.3 L894.5,443.6 L895.5,443.9 L896.5,444.2 L897.5,444.6 L898.5,444.9 L899.5,445.2 L900.5,445.6 L901.5,445.9 L902.5,446.3 L903.5,446.7 L904.5,447.0 L905.5,447.4 L906.5,447.8 L907.5,448.2 L908.5,448.6 L909.5,449.0 L910.5,449.4 L911.5,449.8 L912.5,450.2 L913.5,450.6 L914.5,451.0 L915.5,451.5 L916.5,451.9 L917.5,452.3 L918.5,452.8 L919.5,453.2 L920.5,453.6 L921.5,454.1 L922.5,454.5 L923.5,455.0 L924.5,455.4 L925.5,455.9 L926.5,456.3 L927.5,456.8 L928.5,457.3 L929.5,457.7 L930.5,458.2 L931.5,458.7 L932.5,459.1 L933.5,459.6 L934.5,460.1 L935.5,460.5 L936.5,461.0 L937.5,461.5 L938.5,462.0 L939.5,462.4 L940.5,462.9 L941.5,463.4 L942.5,463.9 L943.5,464.3 L944.5,464.8 L945.5,465.3 L946.5,465.8 L947.5,466.2 L948.5,466.7 L949.5,467.2 L950.5,467.6 L951.5,468.1 L952.5,468.6 L953.5,469.0 L954.5,469.5 L955.5,470.0 L956.5,470.4 L957.5,470.9 L958.5,471.3 L959.5,471.8 L960.5,472.2 L961.5,472.7 L962.5,473.1 L963.5,473.6 L964.5,474.0 L965.5,474.4 L966.5,474.9 L967.5,475.3 L968.5,475.7 L969.5,476.2 L970.5,476.6 L971.5,477.0 L972.5,477.4 L973.5,477.8 L974.5,478.2 L975.5,478.7 L976.5,479.1 L977.5,479.5 L978.5,479.9 L979.5,480.2 L980.5,480.6 L981.5,481.0 L982.5,481.4 L983.5,481.8 L984.5,482.2 L985.5,482.5 L986.5,482.9 L987.5,483.3 L988.5,483.6 L989.5,484.0 L990.5,484.3 L991.5,484.7 L992.5,485.0" stroke-width="2.8"/>
<path d="M16.5,495.5 L17.5,495.5 L18.5,495.5 L19.5,495.5 L20.5,495.5 L21.5,495.5 L22.5,495.5 L23.5,495.5 L24.5,495.5 L25.5,495.5 L26.5,495.5 L27.5,495.5 L28.5,495.5 L29.5,495.5 L30.5,495.5 L31.5,495.5 L32.5,495.5 L33.5,495.5 L34.5,495.5 L35.5,495.5 L36.5,495.5 L37.5,495.5 L38.5,495.5 L39.5,495.5 L40.5,495.5 L41.5,495.5 L42.5,495.5 L43.5,495.5 L44.5,495.5 L45.5,495.5 L46.5,495.5 L47.5,495.5 L48.5,495.5 L49.5,495.5 L50.5,495.5 L51.5,495.5 L52.5,495.5 L53.5,495.5 L54.5,495.5 L55.5,495.5 L56.5,495.5 L57.5,495.5 L58.5,495.5 L59.5,495.5 L60.5,495.5 L61.5,495.5 L62.5,495.5 L63.5,495.5 L64.5,495.5 L65.5,495.5 L66.5,495.5 L67.5,495.5 L68.5,495.5 L69.5,495.5 L70.5,495.5 L71.5,495.5 L72.5,495.5 L73.5,495.5 L74.5,495.5 L75.5,495.5 L76.5,495.5 L77.5,495.5 L78.5,495.5 L79.5,495.5 L80.5,495.5 L81.5,495.5 L82.5,495.5 L83.5,495.5 L84.5,495.5 L85.5,495.5 L86.5,495.5 L87.5,495.5 L88.5,495.5 L89.5,495.5 L90.5,495.5 L91.5,495.5 L92.5,495.5 L93.5,495.5 L94.5,495.5 L95.5,495.5 L96.5,495.5 L97.5,495.5 L98.5,495.5 L99.5,495.5 L100.5,495.5 L101.5,495.5 L102.5,495.5 L103.5,495.5 L104.5,495.5 L105.5,495.5 L106.5,495.5 L107.5,495.5 L108.5,495.5 L109.5,495.5 L110.5,495.5 L111.5,495.5 L112.5,495.5 L113.5,495.5 L114.5,495.5 L115.5,495.4 L116.5,495.4 L117.5,495.4 L118.5,495.4 L119.5,495.4 L120.5,495.4 L121.5,495.4 L122.5,495.4 L123.5,495.4 L124.5,495.4 L125.5,495.4 L126.5,495.4 L127.5,495.4 L128.5,495.4 L129.5,495.3 L130.5,495.3 L131.5,495.3 L132.5,495.3 L133.5,495.3 L134.5,495.3 L135.5,495.3 L136.5,495.2 L137.5,495.0 L138.5,494.7 L139.5,494.4 L140.5,494.0 L141.5,493.6 L142.5,493.1 L143.5,492.6 L144.5,492.1 L145.5,491.5 L146.5,491.0 L147.5,490.3 L148.5,489.4 L149.5,488.2 L150.5,486.9 L151.5,485.3 L152.5,483.6 L153.5,481.9 L154.5,480.0 L155.5,478.0 L156.5,475.7 L157.5,472.9 L158.5,469.3 L159.5,464.8 L160.5,459.2 L161.5,452.9 L162.5,446.3 L163.5,439.7 L164.5,433.1 L165.5,426.8 L166.5,420.5 L167.5,413.9 L168.5,407.0 L169.5,399.5 L170.5,391.2 L171.5,381.5 L172.5,370.7 L173.5,359.4 L174.5,347.9 L175.5,336.8 L176.5,326.3 L177.5,316.1 L178.5,305.8 L179.5,295.7 L180.5,285.5 L181.5,275.5 L182.5,265.5 L183.5,256.2 L184.5,247.8 L185.5,240.1 L186.5,233.1 L187.5,226.9 L188.5,222.2 L189.5,219.0 L190.5,217.1 L191.5,216.3 L192.5,216.6 L193.5,217.4 L194.5,218.8 L195.5,221.1 L196.5,224.7 L197.5,229.5 L198.5,234.6 L199.5,239.6 L200.5,244.7 L201.5,249.7 L202.5,254.8 L203.5,259.8 L204.5,264.8 L205.5,269.9 L206.5,274.9 L207.5,279.9 L208.5,285.0 L209.5,290.0 L210.5,295.0 L211.5,299.6 L212.5,303.7 L213.5,307.2 L214.5,310.3 L215.5,313.0 L216.5,315.3 L217.5,317.4 L218.5,319.1 L219.5,320.5 L220.5,321.6 L221.5,322.4 L222.5,322.9 L223.5,323.2 L224.5,323.2 L225.5,323.0 L226.5,322.7 L227.5,322.3 L228.5,321.7 L229.5,321.0 L230.5,319.5 L231.5,317.4 L232.5,315.7 L233.5,314.2 L234.5,311.7 L235.5,308.7 L236.5,305.9 L237.5,302.8 L238.5,299.6 L239.5,297.8 L240.5,296.7 L241.5,294.1 L242.5,290.3 L243.5,287.7 L244.5,286.0 L245.5,283.9 L246.5,282.0 L247.5,280.7 L248.5,278.3 L249.5,274.6 L250.5,271.9 L251.5,271.0 L252.5,269.7 L253.5,267.4 L254.5,265.3 L255.5,263.2 L256.5,260.3 L257.5,258.2 L258.5,257.8 L259.5,257.2 L260.5,254.7 L261.5,252.0 L262.5,250.4 L263.5,248.9 L264.5,247.5 L265.5,247.3 L266.5,247.2 L267.5,245.5 L268.5,243.3 L269.5,243.0 L270.5,243.7 L271.5,243.7 L272.5,243.5 L273.5,243.7 L274.5,243.1 L275.5,242.0 L276.5,242.8 L277.5,245.0 L278.5,246.3 L279.5,246.6 L280.5,247.6 L281.5,249.3 L282.5,250.9 L283.5,253.6 L284.5,257.4 L285.5,260.3 L286.5,261.6 L287.5,263.3 L288.5,266.7 L289.5,270.1 L290.5,273.2 L291.5,276.9 L292.5,280.2 L293.5,282.2 L294.5,284.6 L295.5,289.0 L296.5,293.5 L297.5,296.7 L298.5,299.7 L299.5,303.1 L300.5,306.2 L301.5,309.4 L302.5,313.0 L303.5,316.5 L304.5,319.7 L305.5,322.9 L306.5,326.2 L307.5,329.5 L308.5,332.8 L309.5,336.1 L310.5,339.2 L311.5,342.3 L312.5,345.3 L313.5,348.2 L314.5,351.0 L315.5,353.6 L316.5,356.0 L317.5,358.3 L318.5,360.6 L319.5,362.9 L320.5,365.2 L321.5,367.4 L322.5,369.6 L323.5,371.8 L324.5,374.0 L325.5,376.2 L326.5,378.4 L327.5,380.6 L328.5,382.7 L329.5,384.9 L330.5,387.1 L331.5,389.3 L332.5,391.5 L333.5,393.6 L334.5,395.8 L335.5,398.0 L336.5,400.2 L337.5,402.3 L338.5,404.5 L339.5,406.7 L340.5,408.8 L341.5,411.0 L342.5,413.2 L343.5,415.3 L344.5,417.5 L345.5,419.6 L346.5,421.8 L347.5,423.9 L348.5,426.0 L349.5,428.0 L350.5,430.0 L351.5,432.0 L352.5,433.9 L353.5,435.8 L354.5,437.7 L355.5,439.5 L356.5,441.2 L357.5,443.0 L358.5,444.6 L359.5,446.3 L360.5,447.9 L361.5,449.4 L362.5,450.9 L363.5,452.4 L364.5,453.8 L365.5,455.2 L366.5,456.5 L367.5,457.8 L368.5,459.1 L369.5,460.2 L370.5,461.4 L371.5,462.5 L372.5,463.6 L373.5,464.6 L374.5,465.6 L375.5,466.6 L376.5,467.5 L377.5,468.4 L378.5,469.3 L379.5,470.2 L380.5,471.0 L381.5,471.8 L382.5,472.6 L383.5,473.4 L384.5,474.2 L385.5,475.0 L386.5,475.8 L387.5,476.6 L388.5,477.3 L389.5,478.0 L390.5,478.8 L391.5,479.4 L392.5,480.1 L393.5,480.8 L394.5,481.4 L395.5,482.0 L396.5,482.6 L397.5,483.1 L398.5,483.6 L399.5,484.2 L400.5,484.7 L401.5,485.2 L402.5,485.7 L403.5,486.1 L404.5,486.6 L405.5,487.1 L406.5,487.5 L407.5,487.9 L408.5,488.4 L409.5,488.8 L410.5,489.2 L411.5,489.5 L412.5,489.9 L413.5,490.2 L414.5,490.6 L415.5,490.9 L416.5,491.2 L417.5,491.5 L418.5,491.8 L419.5,492.1 L420.5,492.3 L421.5,492.6 L422.5,492.9 L423.5,493.1 L424.5,493.3 L425.5,493.6 L426.5,493.8 L427.5,494.0 L428.5,494.3 L429.5,494.5 L430.5,494.7 L431.5,494.9 L432.5,495.1 L433.5,495.3 L434.5,495.5 L435.5,495.6 L436.5,495.8 L437.5,495.9 L438.5,496.1 L439.5,496.2 L440.5,496.3 L441.5,496.4 L442.5,496.5 L443.5,496.6 L444.5,496.6 L445.5,496.7 L446.5,496.8 L447.5,496.8 L448.5,496.9 L449.5,496.9 L450.5,496.9 L451.5,497.0 L452.5,497.0 L453.5,497.0 L454.5,497.0 L455.5,497.0 L456.5,496.9 L457.5,496.8 L458.5,496.6 L459.5,496.4 L460.5,496.2 L461.5,495.9 L462.5,495.6 L463.5,495.2 L464.5,494.8 L465.5,494.3 L466.5,493.9 L467.5,493.3 L468.5,492.8 L469.5,492.2 L470.5,491.6 L471.5,490.9 L472.5,490.2 L473.5,489.2 L474.5,488.2 L475.5,487.1 L476.5,485.9 L477.5,484.7 L478.5,483.5 L479.5,482.4 L480.5,481.3 L481.5,480.4 L482.5,479.6 L483.5,478.9 L484.5,478.1 L485.5,477.4 L486.5,476.8 L487.5,476.3 L488.5,475.8 L489.5,475.5 L490.5,475.4 L491.5,475.5 L492.5,475.7 L493.5,475.9 L494.5,476.1 L495.5,476.3 L496.5,476.5 L497.5,476.7 L498.5,476.9 L499.5,477.2 L500.5,477.4 L501.5,477.6 L502.5,477.9 L503.5,478.1 L504.5,478.4 L505.5,478.6 L506.5,478.9 L507.5,479.1 L508.5,479.4 L509.5,479.6 L510.5,479.9 L511.5,480.2 L512.5,480.4 L513.5,480.7 L514.5,480.9 L515.5,481.1 L516.5,481.2 L517.5,481.3 L518.5,481.2 L519.5,481.1 L520.5,480.9 L521.5,480.6 L522.5,480.3 L523.5,479.9 L524.5,479.4 L525.5,478.9 L526.5,478.4 L527.5,477.8 L528.5,477.2 L529.5,476.6 L530.5,476.0 L531.5,475.3 L532.5,474.6 L533.5,473.9 L534.5,473.3 L535.5,472.5 L536.5,471.7 L537.5,470.9 L538.5,470.0 L539.5,469.1 L540.5,468.1 L541.5,467.0 L542.5,465.9 L543.5,464.7 L544.5,463.5 L545.5,462.2 L546.5,460.8 L547.5,459.4 L548.5,457.9 L549.5,456.4 L550.5,454.8 L551.5,453.2 L552.5,451.4 L553.5,449.6 L554.5,447.8 L555.5,445.8 L556.5,443.8 L557.5,441.7 L558.5,439.6 L559.5,437.4 L560.5,435.1 L561.5,432.7 L562.5,430.4 L563.5,427.9 L564.5,425.4 L565.5,422.8 L566.5,420.2 L567.5,417.6 L568.5,414.9 L569.5,412.1 L570.5,409.1 L571.5,406.1 L572.5,403.0 L573.5,399.9 L574.5,396.7 L575.5,393.4 L576.5,390.1 L577.5,386.8 L578.5,383.6 L579.5,380.3 L580.5,377.1 L581.5,373.9 L582.5,370.8 L583.5,367.8 L584.5,364.9 L585.5,362.1 L586.5,359.3 L587.5,356.6 L588.5,354.0 L589.5,351.4 L590.5,349.0 L591.5,346.6 L592.5,344.4 L593.5,342.3 L594.5,340.3 L595.5,338.6 L596.5,337.0 L597.5,335.6 L598.5,334.4 L599.5,333.3 L600.5,332.3 L601.5,331.5 L602.5,330.8 L603.5,330.2 L604.5,329.7 L605.5,329.4 L606.5,329.1 L607.5,329.0 L608.5,328.9 L609.5,329.0 L610.5,329.1 L611.5,329.2 L612.5,329.4 L613.5,329.5 L614.5,329.6 L615.5,329.8 L616.5,329.9 L617.5,330.0 L618.5,330.2 L619.5,330.3 L620.5,330.4 L621.5,330.6 L622.5,330.7 L623.5,330.9 L624.5,331.0 L625.5,331.2 L626.5,331.4 L627.5,331.6 L628.5,331.8 L629.5,332.0 L630.5,332.2 L631.5,332.4 L632.5,332.6 L633.5,332.7 L634.5,332.8 L635.5,332.9 L636.5,333.0 L637.5,333.0 L638.5,332.9 L639.5,332.8 L640.5,332.5 L641.5,332.2 L642.5,331.8 L643.5,331.4 L644.5,331.0 L645.5,330.5 L646.5,330.0 L647.5,329.4 L648.5,328.9 L649.5,328.3 L650.5,327.8 L651.5,327.3 L652.5,326.7 L653.5,326.3 L654.5,325.8 L655.5,325.3 L656.5,324.8 L657.5,324.4 L658.5,323.9 L659.5,323.4 L660.5,323.0 L661.5,322.5 L662.5,322.0 L663.5,321.5 L664.5,321.0 L665.5,320.5 L666.5,319.9 L667.5,319.4 L668.5,318.8 L669.5,318.2 L670.5,317.6 L671.5,317.0 L672.5,316.3 L673.5,315.7 L674.5,314.9 L675.5,314.2 L676.5,313.5 L677.5,312.7 L678.5,311.9 L679.5,311.1 L680.5,310.3 L681.5,309.5 L682.5,308.7 L683.5,307.8 L684.5,307.0 L685.5,306.2 L686.5,305.4 L687.5,304.6 L688.5,303.7 L689.5,302.9 L690.5,302.2 L691.5,301.4 L692.5,300.6 L693.5,299.9 L694.5,299.1 L695.5,298.4 L696.5,297.6 L697.5,296.9 L698.5,296.2 L699.5,295.5 L700.5,294.8 L701.5,294.1 L702.5,293.3 L703.5,292.6 L704.5,292.0 L705.5,291.3 L706.5,290.6 L707.5,289.9 L708.5,289.2 L709.5,288.6 L710.5,287.9 L711.5,287.2 L712.5,286.6 L713.5,285.9 L714.5,285.3 L715.5,284.8 L716.5,284.2 L717.5,283.8 L718.5,283.3 L719.5,283.0 L720.5,282.6 L721.5,282.3 L722.5,282.0 L723.5,281.8 L724.5,281.6 L725.5,281.4 L726.5,281.3 L727.5,281.2 L728.5,281.1 L729.5,281.1 L730.5,281.0 L731.5,281.0 L732.5,281.0 L733.5,281.0 L734.5,281.0 L735.5,281.1 L736.5,281.2 L737.5,281.3 L738.5,281.5 L739.5,281.7 L740.5,282.0 L741.5,282.3 L742.5,282.6 L743.5,283.0 L744.5,283.4 L745.5,283.9 L746.5,284.4 L747.5,284.9 L748.5,285.5 L749.5,286.1 L750.5,286.8 L751.5,287.5 L752.5,288.3 L753.5,289.1 L754.5,290.0 L755.5,290.9 L756.5,291.8 L757.5,292.7 L758.5,293.6 L759.5,294.6 L760.5,295.6 L761.5,296.6 L762.5,297.6 L763.5,298.6 L764.5,299.7 L765.5,300.8 L766.5,301.9 L767.5,303.1 L768.5,304.2 L769.5,305.4 L770.5,306.7 L771.5,308.0 L772.5,309.3 L773.5,310.6 L774.5,312.0 L775.5,313.4 L776.5,314.8 L777.5,316.2 L778.5,317.6 L779.5,319.0 L780.5,320.5 L781.5,321.9 L782.5,323.4 L783.5,324.8 L784.5,326.2 L785.5,327.7 L786.5,329.1 L787.5,330.5 L788.5,331.9 L789.5,333.4 L790.5,334.8 L791.5,336.1 L792.5,337.5 L793.5,338.9 L794.5,340.2 L795.5,341.6 L796.5,343.0 L797.5,344.3 L798.5,345.7 L799.5,347.0 L800.5,348.4 L801.5,349.7 L802.5,351.0 L803.5,352.4 L804.5,353.7 L805.5,355.0 L806.5,356.3 L807.5,357.7 L808.5,359.0 L809.5,360.3 L810.5,361.6 L811.5,362.9 L812.5,364.1 L813.5,365.4 L814.5,366.7 L815.5,367.9 L816.5,369.1 L817.5,370.3 L818.5,371.5 L819.5,372.7 L820.5,373.9 L821.5,375.0 L822.5,376.2 L823.5,377.3 L824.5,378.4 L825.5,379.5 L826.5,380.6 L827.5,381.7 L828.5,382.7 L829.5,383.8 L830.5,384.9 L831.5,385.9 L832.5,386.9 L833.5,388.0 L834.5,389.0 L835.5,390.0 L836.5,391.0 L837.5,392.0 L838.5,392.9 L839.5,393.9 L840.5,394.9 L841.5,395.8 L842.5,396.7 L843.5,397.6 L844.5,398.5 L845.5,399.4 L846.5,400.3 L847.5,401.1 L848.5,401.9 L849.5,402.7 L850.5,403.5 L851.5,404.3 L852.5,405.0 L853.5,405.8 L854.5,406.5 L855.5,407.3 L856.5,408.0 L857.5,408.7 L858.5,409.5 L859.5,410.2 L860.5,410.9 L861.5,411.6 L862.5,412.3 L863.5,413.1 L864.5,413.8 L865.5,414.5 L866.5,415.2 L867.5,415.9 L868.5,416.6 L869.5,417.3 L870.5,418.0 L871.5,418.7 L872.5,419.3 L873.5,420.0 L874.5,420.7 L875.5,421.4 L876.5,422.1 L877.5,422.8 L878.5,423.5 L879.5,424.1 L880.5,424.8 L881.5,425.5 L882.5,426.2 L883.5,426.9 L884.5,427.5 L885.5,428.2 L886.5,428.9 L887.5,429.5 L888.5,430.2 L889.5,430.9 L890.5,431.5 L891.5,432.2 L892.5,432.8 L893.5,433.5 L894.5,434.1 L895.5,434.8 L896.5,435.4 L897.5,436.0 L898.5,436.7 L899.5,437.3 L900.5,437.9 L901.5,438.5 L902.5,439.1 L903.5,439.7 L904.5,440.3 L905.5,440.9 L906.5,441.5 L907.5,442.1 L908.5,442.7 L909.5,443.3 L910.5,443.9 L911.5,444.5 L912.5,445.1 L913.5,445.6 L914.5,446.2 L915.5,446.8 L916.5,447.3 L917.5,447.9 L918.5,448.4 L919.5,449.0 L920.5,449.5 L921.5,450.1 L922.5,450.6 L923.5,451.2 L924.5,451.7 L925.5,452.3 L926.5,452.8 L927.5,453.3 L928.5,453.9 L929.5,454.4 L930.5,454.9 L931.5,455.4 L932.5,455.9 L933.5,456.5 L934.5,457.0 L935.5,457.5 L936.5,458.0 L937.5,458.5 L938.5,459.0 L939.5,459.5 L940.5,460.0 L941.5,460.5 L942.5,461.0 L943.5,461.5 L944.5,462.0 L945.5,462.5 L946.5,463.0 L947.5,463.5 L948.5,464.0 L949.5,464.4 L950.5,464.9 L951.5,465.4 L952.5,465.9 L953.5,466.3 L954.5,466.8 L955.5,467.2 L956.5,467.7 L957.5,468.1 L958.5,468.6 L959.5,469.0 L960.5,469.5 L961.5,469.9 L962.5,470.3 L963.5,470.7 L964.5,471.2 L965.5,471.6 L966.5,472.0 L967.5,472.4 L968.5,472.8 L969.5,473.2 L970.5,473.6 L971.5,474.0 L972.5,474.4 L973.5,474.8 L974.5,475.2 L975.5,475.6 L976.5,476.0 L977.5,476.3 L978.5,476.7 L979.5,477.1 L980.5,477.5 L981.5,477.8 L982.5,478.2 L983.5,478.6 L984.5,478.9 L985.5,479.3 L986.5,479.6 L987.5,480.0 L988.5,480.3 L989.5,480.7 L990.5,481.0 L991.5,481.3" stroke-width="6.3"/>
</g>
<g clip-path="url(#cpb)" fill="none" stroke="#000" stroke-linejoin="round" stroke-linecap="round">
<path d="M16.5,987.3 L17.5,987.3 L18.5,987.3 L19.5,987.3 L20.5,987.3 L21.5,987.2 L22.5,987.2 L23.5,987.2 L24.5,987.2 L25.5,987.2 L26.5,987.2 L27.5,987.1 L28.5,987.1 L29.5,987.1 L30.5,987.1 L31.5,987.0 L32.5,987.0 L33.5,987.0 L34.5,987.0 L35.5,987.0 L36.5,986.9 L37.5,986.9 L38.5,986.9 L39.5,986.9 L40.5,986.8 L41.5,986.8 L42.5,986.8 L43.5,986.7 L44.5,986.7 L45.5,986.7 L46.5,986.7 L47.5,986.6 L48.5,986.6 L49.5,986.6 L50.5,986.5 L51.5,986.5 L52.5,986.5 L53.5,986.4 L54.5,986.4 L55.5,986.4 L56.5,986.3 L57.5,986.3 L58.5,986.2 L59.5,986.2 L60.5,986.2 L61.5,986.1 L62.5,986.1 L63.5,986.0 L64.5,986.0 L65.5,985.9 L66.5,985.9 L67.5,985.9 L68.5,985.8 L69.5,985.8 L70.5,985.7 L71.5,985.7 L72.5,985.6 L73.5,985.5 L74.5,985.5 L75.5,985.4 L76.5,985.4 L77.5,985.3 L78.5,985.2 L79.5,985.2 L80.5,985.1 L81.5,985.0 L82.5,985.0 L83.5,984.9 L84.5,984.8 L85.5,984.8 L86.5,984.7 L87.5,984.6 L88.5,984.5 L89.5,984.4 L90.5,984.3 L91.5,984.2 L92.5,984.1 L93.5,984.1 L94.5,984.0 L95.5,983.8 L96.5,983.7 L97.5,983.6 L98.5,983.5 L99.5,983.4 L100.5,983.3 L101.5,983.2 L102.5,983.0 L103.5,982.9 L104.5,982.8 L105.5,982.6 L106.5,982.5 L107.5,982.3 L108.5,982.2 L109.5,982.0 L110.5,981.8 L111.5,981.6 L112.5,981.5 L113.5,981.3 L114.5,981.1 L115.5,980.9 L116.5,980.6 L117.5,980.4 L118.5,980.2 L119.5,979.9 L120.5,979.7 L121.5,979.4 L122.5,979.1 L123.5,978.9 L124.5,978.6 L125.5,978.2 L126.5,977.9 L127.5,977.6 L128.5,977.2 L129.5,976.8 L130.5,976.4 L131.5,976.0 L132.5,975.6 L133.5,975.1 L134.5,974.7 L135.5,974.2 L136.5,973.6 L137.5,973.1 L138.5,972.5 L139.5,971.8 L140.5,971.2 L141.5,970.5 L142.5,969.8 L143.5,969.0 L144.5,968.1 L145.5,967.3 L146.5,966.3 L147.5,965.3 L148.5,964.3 L149.5,963.2 L150.5,961.9 L151.5,960.7 L152.5,959.3 L153.5,957.8 L154.5,956.3 L155.5,954.6 L156.5,952.8 L157.5,950.8 L158.5,948.7 L159.5,946.5 L160.5,944.0 L161.5,941.4 L162.5,938.6 L163.5,935.5 L164.5,932.2 L165.5,928.6 L166.5,924.7 L167.5,920.6 L168.5,916.0 L169.5,911.1 L170.5,905.9 L171.5,900.2 L172.5,894.1 L173.5,887.5 L174.5,880.6 L175.5,873.2 L176.5,865.5 L177.5,857.5 L178.5,849.3 L179.5,841.0 L180.5,832.8 L181.5,824.8 L182.5,817.4 L183.5,810.8 L184.5,805.2 L185.5,800.8 L186.5,798.0 L187.5,796.8 L188.5,797.3 L189.5,799.5 L190.5,803.3 L191.5,808.4 L192.5,814.6 L193.5,821.8 L194.5,829.5 L195.5,837.7 L196.5,846.0 L197.5,854.2 L198.5,862.4 L199.5,870.2 L200.5,877.7 L201.5,884.8 L202.5,891.5 L203.5,897.8 L204.5,903.6 L205.5,909.1 L206.5,914.1 L207.5,918.8 L208.5,923.1 L209.5,927.1 L210.5,930.8 L211.5,934.2 L212.5,937.4 L213.5,940.3 L214.5,943.0 L215.5,945.5 L216.5,947.8 L217.5,950.0 L218.5,952.0 L219.5,953.9 L220.5,955.6 L221.5,957.2 L222.5,958.7 L223.5,960.1 L224.5,961.4 L225.5,962.7 L226.5,963.8 L227.5,964.9 L228.5,965.9 L229.5,966.9 L230.5,967.8 L231.5,968.6 L232.5,969.4 L233.5,970.2 L234.5,970.9 L235.5,971.6 L236.5,972.2 L237.5,972.8 L238.5,973.4 L239.5,973.9 L240.5,974.5 L241.5,975.0 L242.5,975.4 L243.5,975.9 L244.5,976.3 L245.5,976.7 L246.5,977.1 L247.5,977.4 L248.5,977.8 L249.5,978.1 L250.5,978.4 L251.5,978.7 L252.5,979.0 L253.5,979.3 L254.5,979.6 L255.5,979.8 L256.5,980.1 L257.5,980.3 L258.5,980.6 L259.5,980.8 L260.5,981.0 L261.5,981.2 L262.5,981.4 L263.5,981.6 L264.5,981.7 L265.5,981.9 L266.5,982.1 L267.5,982.2 L268.5,982.4 L269.5,982.6 L270.5,982.7 L271.5,982.8 L272.5,983.0 L273.5,983.1 L274.5,983.2 L275.5,983.4 L276.5,983.5 L277.5,983.6 L278.5,983.7 L279.5,983.8 L280.5,983.9 L281.5,984.0 L282.5,984.1 L283.5,984.2 L284.5,984.3 L285.5,984.4 L286.5,984.5 L287.5,984.6 L288.5,984.6 L289.5,984.7 L290.5,984.8 L291.5,984.9 L292.5,984.9 L293.5,985.0 L294.5,985.1 L295.5,985.2 L296.5,985.2 L297.5,985.3 L298.5,985.3 L299.5,985.4 L300.5,985.5 L301.5,985.5 L302.5,985.6 L303.5,985.6 L304.5,985.7 L305.5,985.7 L306.5,985.8 L307.5,985.8 L308.5,985.9 L309.5,985.9 L310.5,986.0 L311.5,986.0 L312.5,986.1 L313.5,986.1 L314.5,986.2 L315.5,986.2 L316.5,986.2 L317.5,986.3 L318.5,986.3 L319.5,986.3 L320.5,986.4 L321.5,986.4 L322.5,986.5 L323.5,986.5 L324.5,986.5 L325.5,986.6 L326.5,986.6 L327.5,986.6 L328.5,986.6 L329.5,986.7 L330.5,986.7 L331.5,986.7 L332.5,986.8 L333.5,986.8 L334.5,986.8 L335.5,986.8 L336.5,986.9 L337.5,986.9 L338.5,986.9 L339.5,986.9 L340.5,987.0 L341.5,987.0 L342.5,987.0 L343.5,987.0 L344.5,987.1 L345.5,987.1 L346.5,987.1 L347.5,987.1 L348.5,987.1 L349.5,987.2 L350.5,987.2 L351.5,987.2 L352.5,987.2 L353.5,987.2 L354.5,987.3 L355.5,987.3 L356.5,987.3 L357.5,987.3 L358.5,987.3 L359.5,987.3 L360.5,987.4 L361.5,987.4 L362.5,987.4 L363.5,987.4 L364.5,987.4 L365.5,987.4 L366.5,987.5 L367.5,987.5 L368.5,987.5 L369.5,987.5 L370.5,987.5 L371.5,987.5 L372.5,987.5 L373.5,987.6 L374.5,987.6 L375.5,987.6 L376.5,987.6 L377.5,987.6 L378.5,987.6 L379.5,987.6 L380.5,987.6 L381.5,987.7 L382.5,987.7 L383.5,987.7 L384.5,987.7 L385.5,987.7 L386.5,987.7 L387.5,987.7 L388.5,987.7 L389.5,987.7 L390.5,987.8 L391.5,987.8 L392.5,987.8 L393.5,987.8 L394.5,987.8 L395.5,987.8 L396.5,987.8 L397.5,987.8 L398.5,987.8 L399.5,987.8 L400.5,987.9 L401.5,987.9 L402.5,987.9 L403.5,987.9 L404.5,987.9 L405.5,987.9 L406.5,987.9 L407.5,987.9 L408.5,987.9 L409.5,987.9 L410.5,987.9 L411.5,987.9 L412.5,987.9 L413.5,988.0 L414.5,988.0 L415.5,988.0 L416.5,988.0 L417.5,988.0 L418.5,988.0 L419.5,988.0 L420.5,988.0 L421.5,988.0 L422.5,988.0 L423.5,988.0 L424.5,988.0 L425.5,988.0 L426.5,988.0 L427.5,988.1 L428.5,988.1 L429.5,988.1 L430.5,988.1 L431.5,988.1 L432.5,988.1 L433.5,988.1 L434.5,988.1 L435.5,988.1 L436.5,988.1 L437.5,988.1 L438.5,988.1 L439.5,988.1 L440.5,988.1 L441.5,988.1 L442.5,988.1 L443.5,988.1 L444.5,988.1 L445.5,988.2 L446.5,988.2 L447.5,988.2 L448.5,988.2 L449.5,988.2 L450.5,988.2 L451.5,988.2 L452.5,988.2 L453.5,988.2 L454.5,988.2 L455.5,988.2 L456.5,988.2 L457.5,988.2 L458.5,988.2 L459.5,988.2 L460.5,988.2 L461.5,988.2 L462.5,988.2 L463.5,988.2 L464.5,988.2 L465.5,988.2 L466.5,988.2 L467.5,988.2 L468.5,988.3 L469.5,988.3 L470.5,988.3 L471.5,988.3 L472.5,988.3 L473.5,988.3 L474.5,988.3 L475.5,988.3 L476.5,988.3 L477.5,988.3 L478.5,988.3 L479.5,988.3 L480.5,988.3 L481.5,988.3 L482.5,988.3 L483.5,988.3 L484.5,988.3 L485.5,988.3 L486.5,988.3 L487.5,988.3 L488.5,988.3 L489.5,988.3 L490.5,988.3 L491.5,988.3 L492.5,988.3 L493.5,988.3 L494.5,988.3 L495.5,988.3 L496.5,988.3 L497.5,988.4 L498.5,988.4 L499.5,988.4 L500.5,988.4 L501.5,988.4 L502.5,988.4 L503.5,988.4 L504.5,988.4 L505.5,988.4 L506.5,988.4 L507.5,988.4 L508.5,988.4 L509.5,988.4 L510.5,988.4 L511.5,988.4 L512.5,988.4 L513.5,988.4 L514.5,988.4 L515.5,988.4 L516.5,988.4 L517.5,988.4 L518.5,988.4 L519.5,988.4 L520.5,988.4 L521.5,988.4 L522.5,988.4 L523.5,988.4 L524.5,988.4 L525.5,988.4 L526.5,988.4 L527.5,988.4 L528.5,988.4 L529.5,988.4 L530.5,988.4 L531.5,988.4 L532.5,988.4 L533.5,988.4 L534.5,988.4 L535.5,988.4 L536.5,988.4 L537.5,988.4 L538.5,988.4 L539.5,988.5 L540.5,988.5 L541.5,988.5 L542.5,988.5 L543.5,988.5 L544.5,988.5 L545.5,988.5 L546.5,988.5 L547.5,988.5 L548.5,988.5 L549.5,988.5 L550.5,988.5 L551.5,988.5 L552.5,988.5 L553.5,988.5 L554.5,988.5 L555.5,988.5 L556.5,988.5 L557.5,988.5 L558.5,988.5 L559.5,988.5 L560.5,988.5 L561.5,988.5 L562.5,988.5 L563.5,988.5 L564.5,988.5 L565.5,988.5 L566.5,988.5 L567.5,988.5 L568.5,988.5 L569.5,988.5 L570.5,988.5 L571.5,988.5 L572.5,988.5 L573.5,988.5 L574.5,988.5 L575.5,988.5 L576.5,988.5 L577.5,988.5 L578.5,988.5 L579.5,988.5 L580.5,988.5 L581.5,988.5 L582.5,988.5 L583.5,988.5 L584.5,988.5 L585.5,988.5 L586.5,988.5 L587.5,988.5 L588.5,988.5 L589.5,988.5 L590.5,988.5 L591.5,988.5 L592.5,988.5 L593.5,988.5 L594.5,988.5 L595.5,988.5 L596.5,988.5 L597.5,988.5 L598.5,988.5 L599.5,988.5 L600.5,988.5 L601.5,988.5 L602.5,988.5 L603.5,988.6 L604.5,988.6 L605.5,988.6 L606.5,988.6 L607.5,988.6 L608.5,988.6 L609.5,988.6 L610.5,988.6 L611.5,988.6 L612.5,988.6 L613.5,988.6 L614.5,988.6 L615.5,988.6 L616.5,988.6 L617.5,988.6 L618.5,988.6 L619.5,988.6 L620.5,988.6 L621.5,988.6 L622.5,988.6 L623.5,988.6 L624.5,988.6 L625.5,988.6 L626.5,988.6 L627.5,988.6 L628.5,988.6 L629.5,988.6 L630.5,988.6 L631.5,988.6 L632.5,988.6 L633.5,988.6 L634.5,988.6 L635.5,988.6 L636.5,988.6 L637.5,988.6 L638.5,988.6 L639.5,988.6 L640.5,988.6 L641.5,988.6 L642.5,988.6 L643.5,988.6 L644.5,988.6 L645.5,988.6 L646.5,988.6 L647.5,988.6 L648.5,988.6 L649.5,988.6 L650.5,988.6 L651.5,988.6 L652.5,988.6 L653.5,988.6 L654.5,988.6 L655.5,988.6 L656.5,988.6 L657.5,988.6 L658.5,988.6 L659.5,988.6 L660.5,988.6 L661.5,988.6 L662.5,988.6 L663.5,988.6 L664.5,988.6 L665.5,988.6 L666.5,988.6 L667.5,988.6 L668.5,988.6 L669.5,988.6 L670.5,988.6 L671.5,988.6 L672.5,988.6 L673.5,988.6 L674.5,988.6 L675.5,988.6 L676.5,988.6 L677.5,988.6 L678.5,988.6 L679.5,988.6 L680.5,988.6 L681.5,988.6 L682.5,988.6 L683.5,988.6 L684.5,988.6 L685.5,988.6 L686.5,988.6 L687.5,988.6 L688.5,988.6 L689.5,988.6 L690.5,988.6 L691.5,988.6 L692.5,988.6 L693.5,988.6 L694.5,988.6 L695.5,988.6 L696.5,988.6 L697.5,988.6 L698.5,988.6 L699.5,988.6 L700.5,988.6 L701.5,988.6 L702.5,988.6 L703.5,988.6 L704.5,988.6 L705.5,988.6 L706.5,988.6 L707.5,988.6 L708.5,988.6 L709.5,988.6 L710.5,988.6 L711.5,988.6 L712.5,988.6 L713.5,988.6 L714.5,988.6 L715.5,988.6 L716.5,988.6 L717.5,988.6 L718.5,988.6 L719.5,988.6 L720.5,988.6 L721.5,988.6 L722.5,988.6 L723.5,988.6 L724.5,988.7 L725.5,988.7 L726.5,988.7 L727.5,988.7 L728.5,988.7 L729.5,988.7 L730.5,988.7 L731.5,988.7 L732.5,988.7 L733.5,988.7 L734.5,988.7 L735.5,988.7 L736.5,988.7 L737.5,988.7 L738.5,988.7 L739.5,988.7 L740.5,988.7 L741.5,988.7 L742.5,988.7 L743.5,988.7 L744.5,988.7 L745.5,988.7 L746.5,988.7 L747.5,988.7 L748.5,988.7 L749.5,988.7 L750.5,988.7 L751.5,988.7 L752.5,988.7 L753.5,988.7 L754.5,988.7 L755.5,988.7 L756.5,988.7 L757.5,988.7 L758.5,988.7 L759.5,988.7 L760.5,988.7 L761.5,988.7 L762.5,988.7 L763.5,988.7 L764.5,988.7 L765.5,988.7 L766.5,988.7 L767.5,988.7 L768.5,988.7 L769.5,988.7 L770.5,988.7 L771.5,988.7 L772.5,988.7 L773.5,988.7 L774.5,988.7 L775.5,988.7 L776.5,988.7 L777.5,988.7 L778.5,988.7 L779.5,988.7 L780.5,988.7 L781.5,988.7 L782.5,988.7 L783.5,988.7 L784.5,988.7 L785.5,988.7 L786.5,988.7 L787.5,988.7 L788.5,988.7" stroke-width="2.8"/>
<path d="M140.5,988.7 L141.5,988.7 L142.5,988.7 L143.5,988.6 L144.5,988.6 L145.5,988.6 L146.5,988.6 L147.5,988.5 L148.5,988.5 L149.5,988.4 L150.5,988.4 L151.5,988.3 L152.5,988.3 L153.5,988.2 L154.5,988.2 L155.5,988.1 L156.5,988.0 L157.5,987.9 L158.5,987.8 L159.5,987.7 L160.5,987.6 L161.5,987.4 L162.5,987.3 L163.5,987.1 L164.5,986.9 L165.5,986.7 L166.5,986.5 L167.5,986.3 L168.5,986.0 L169.5,985.8 L170.5,985.5 L171.5,985.1 L172.5,984.8 L173.5,984.4 L174.5,984.0 L175.5,983.6 L176.5,983.1 L177.5,982.6 L178.5,982.1 L179.5,981.5 L180.5,980.9 L181.5,980.3 L182.5,979.6 L183.5,978.9 L184.5,978.1 L185.5,977.3 L186.5,976.4 L187.5,975.5 L188.5,974.5 L189.5,973.5 L190.5,972.5 L191.5,971.4 L192.5,970.2 L193.5,969.0 L194.5,967.7 L195.5,966.4 L196.5,965.1 L197.5,963.7 L198.5,962.2 L199.5,960.7 L200.5,959.1 L201.5,957.6 L202.5,955.9 L203.5,954.2 L204.5,952.5 L205.5,950.8 L206.5,949.0 L207.5,947.1 L208.5,945.3 L209.5,943.4 L210.5,941.6 L211.5,939.7 L212.5,937.7 L213.5,935.8 L214.5,933.9 L215.5,932.0 L216.5,930.1 L217.5,928.2 L218.5,926.4 L219.5,924.6 L220.5,922.8 L221.5,921.0 L222.5,919.3 L223.5,917.6 L224.5,916.0 L225.5,914.5 L226.5,913.0 L227.5,911.6 L228.5,910.3 L229.5,909.0 L230.5,907.9 L231.5,906.8 L232.5,905.8 L233.5,905.0 L234.5,904.2 L235.5,903.5 L236.5,902.9 L237.5,902.5 L238.5,902.2 L239.5,901.9 L240.5,901.8 L241.5,901.8 L242.5,901.9 L243.5,902.2 L244.5,902.5 L245.5,902.9 L246.5,903.5 L247.5,904.2 L248.5,905.0 L249.5,905.8 L250.5,906.8 L251.5,907.9 L252.5,909.0 L253.5,910.3 L254.5,911.6 L255.5,913.0 L256.5,914.5 L257.5,916.0 L258.5,917.6 L259.5,919.3 L260.5,921.0 L261.5,922.8 L262.5,924.6 L263.5,926.4 L264.5,928.2 L265.5,930.1 L266.5,932.0 L267.5,933.9 L268.5,935.8 L269.5,937.7 L270.5,939.7 L271.5,941.6 L272.5,943.4 L273.5,945.3 L274.5,947.1 L275.5,949.0 L276.5,950.8 L277.5,952.5 L278.5,954.2 L279.5,955.9 L280.5,957.6 L281.5,959.1 L282.5,960.7 L283.5,962.2 L284.5,963.7 L285.5,965.1 L286.5,966.4 L287.5,967.7 L288.5,969.0 L289.5,970.2 L290.5,971.4 L291.5,972.5 L292.5,973.5 L293.5,974.5 L294.5,975.5 L295.5,976.4 L296.5,977.3 L297.5,978.1 L298.5,978.9 L299.5,979.6 L300.5,980.3 L301.5,980.9 L302.5,981.5 L303.5,982.1 L304.5,982.6 L305.5,983.1 L306.5,983.6 L307.5,984.0 L308.5,984.4 L309.5,984.8 L310.5,985.1 L311.5,985.5 L312.5,985.8 L313.5,986.0 L314.5,986.3 L315.5,986.5 L316.5,986.7 L317.5,986.9 L318.5,987.1 L319.5,987.3 L320.5,987.4 L321.5,987.6 L322.5,987.7 L323.5,987.8 L324.5,987.9 L325.5,988.0 L326.5,988.1 L327.5,988.2 L328.5,988.2 L329.5,988.3 L330.5,988.3 L331.5,988.4 L332.5,988.4 L333.5,988.5 L334.5,988.5 L335.5,988.6 L336.5,988.6 L337.5,988.6 L338.5,988.6 L339.5,988.7 L340.5,988.7 L341.5,988.7" stroke-width="2.8"/>
<path d="M199.5,988.7 L200.5,988.7 L201.5,988.7 L202.5,988.6 L203.5,988.6 L204.5,988.6 L205.5,988.6 L206.5,988.6 L207.5,988.5 L208.5,988.5 L209.5,988.5 L210.5,988.4 L211.5,988.4 L212.5,988.4 L213.5,988.3 L214.5,988.3 L215.5,988.2 L216.5,988.2 L217.5,988.1 L218.5,988.1 L219.5,988.0 L220.5,987.9 L221.5,987.9 L222.5,987.8 L223.5,987.7 L224.5,987.6 L225.5,987.5 L226.5,987.4 L227.5,987.3 L228.5,987.1 L229.5,987.0 L230.5,986.9 L231.5,986.7 L232.5,986.6 L233.5,986.4 L234.5,986.2 L235.5,986.0 L236.5,985.8 L237.5,985.6 L238.5,985.4 L239.5,985.1 L240.5,984.9 L241.5,984.6 L242.5,984.3 L243.5,984.1 L244.5,983.8 L245.5,983.4 L246.5,983.1 L247.5,982.7 L248.5,982.4 L249.5,982.0 L250.5,981.6 L251.5,981.2 L252.5,980.8 L253.5,980.3 L254.5,979.9 L255.5,979.4 L256.5,978.9 L257.5,978.4 L258.5,977.9 L259.5,977.3 L260.5,976.8 L261.5,976.2 L262.5,975.6 L263.5,975.0 L264.5,974.4 L265.5,973.8 L266.5,973.2 L267.5,972.5 L268.5,971.9 L269.5,971.2 L270.5,970.5 L271.5,969.9 L272.5,969.2 L273.5,968.5 L274.5,967.8 L275.5,967.1 L276.5,966.4 L277.5,965.7 L278.5,965.0 L279.5,964.3 L280.5,963.6 L281.5,962.9 L282.5,962.2 L283.5,961.6 L284.5,960.9 L285.5,960.3 L286.5,959.6 L287.5,959.0 L288.5,958.4 L289.5,957.8 L290.5,957.2 L291.5,956.7 L292.5,956.2 L293.5,955.7 L294.5,955.2 L295.5,954.7 L296.5,954.3 L297.5,953.9 L298.5,953.5 L299.5,953.2 L300.5,952.9 L301.5,952.6 L302.5,952.3 L303.5,952.1 L304.5,952.0 L305.5,951.8 L306.5,951.7 L307.5,951.6 L308.5,951.6 L309.5,951.6 L310.5,951.6 L311.5,951.7 L312.5,951.8 L313.5,952.0 L314.5,952.1 L315.5,952.3 L316.5,952.6 L317.5,952.9 L318.5,953.2 L319.5,953.5 L320.5,953.9 L321.5,954.3 L322.5,954.7 L323.5,955.2 L324.5,955.7 L325.5,956.2 L326.5,956.7 L327.5,957.2 L328.5,957.8 L329.5,958.4 L330.5,959.0 L331.5,959.6 L332.5,960.3 L333.5,960.9 L334.5,961.6 L335.5,962.2 L336.5,962.9 L337.5,963.6 L338.5,964.3 L339.5,965.0 L340.5,965.7 L341.5,966.4 L342.5,967.1 L343.5,967.8 L344.5,968.5 L345.5,969.2 L346.5,969.9 L347.5,970.5 L348.5,971.2 L349.5,971.9 L350.5,972.5 L351.5,973.2 L352.5,973.8 L353.5,974.4 L354.5,975.0 L355.5,975.6 L356.5,976.2 L357.5,976.8 L358.5,977.3 L359.5,977.9 L360.5,978.4 L361.5,978.9 L362.5,979.4 L363.5,979.9 L364.5,980.3 L365.5,980.8 L366.5,981.2 L367.5,981.6 L368.5,982.0 L369.5,982.4 L370.5,982.7 L371.5,983.1 L372.5,983.4 L373.5,983.8 L374.5,984.1 L375.5,984.3 L376.5,984.6 L377.5,984.9 L378.5,985.1 L379.5,985.4 L380.5,985.6 L381.5,985.8 L382.5,986.0 L383.5,986.2 L384.5,986.4 L385.5,986.6 L386.5,986.7 L387.5,986.9 L388.5,987.0 L389.5,987.1 L390.5,987.3 L391.5,987.4 L392.5,987.5 L393.5,987.6 L394.5,987.7 L395.5,987.8 L396.5,987.9 L397.5,987.9 L398.5,988.0 L399.5,988.1 L400.5,988.1 L401.5,988.2 L402.5,988.2 L403.5,988.3 L404.5,988.3 L405.5,988.4 L406.5,988.4 L407.5,988.4 L408.5,988.5 L409.5,988.5 L410.5,988.5 L411.5,988.6 L412.5,988.6 L413.5,988.6 L414.5,988.6 L415.5,988.6 L416.5,988.7 L417.5,988.7 L418.5,988.7" stroke-width="2.8"/>
<path d="M461.5,988.7 L462.5,988.7 L463.5,988.6 L464.5,988.6 L465.5,988.6 L466.5,988.5 L467.5,988.5 L468.5,988.4 L469.5,988.4 L470.5,988.3 L471.5,988.2 L472.5,988.2 L473.5,988.1 L474.5,988.0 L475.5,987.9 L476.5,987.7 L477.5,987.6 L478.5,987.5 L479.5,987.3 L480.5,987.1 L481.5,987.0 L482.5,986.8 L483.5,986.6 L484.5,986.3 L485.5,986.1 L486.5,985.9 L487.5,985.6 L488.5,985.3 L489.5,985.1 L490.5,984.8 L491.5,984.5 L492.5,984.2 L493.5,983.9 L494.5,983.6 L495.5,983.3 L496.5,983.0 L497.5,982.7 L498.5,982.5 L499.5,982.2 L500.5,981.9 L501.5,981.7 L502.5,981.5 L503.5,981.3 L504.5,981.1 L505.5,980.9 L506.5,980.8 L507.5,980.7 L508.5,980.6 L509.5,980.5 L510.5,980.5 L511.5,980.5 L512.5,980.5 L513.5,980.6 L514.5,980.7 L515.5,980.8 L516.5,980.9 L517.5,981.1 L518.5,981.3 L519.5,981.5 L520.5,981.7 L521.5,981.9 L522.5,982.2 L523.5,982.5 L524.5,982.7 L525.5,983.0 L526.5,983.3 L527.5,983.6 L528.5,983.9 L529.5,984.2 L530.5,984.5 L531.5,984.8 L532.5,985.1 L533.5,985.3 L534.5,985.6 L535.5,985.9 L536.5,986.1 L537.5,986.3 L538.5,986.6 L539.5,986.8 L540.5,987.0 L541.5,987.1 L542.5,987.3 L543.5,987.5 L544.5,987.6 L545.5,987.7 L546.5,987.9 L547.5,988.0 L548.5,988.1 L549.5,988.2 L550.5,988.2 L551.5,988.3 L552.5,988.4 L553.5,988.4 L554.5,988.5 L555.5,988.5 L556.5,988.6 L557.5,988.6 L558.5,988.6 L559.5,988.7 L560.5,988.7" stroke-width="2.8"/>
<path d="M469.5,988.7 L470.5,988.7 L471.5,988.7 L472.5,988.7 L473.5,988.6 L474.5,988.6 L475.5,988.6 L476.5,988.6 L477.5,988.6 L478.5,988.6 L479.5,988.5 L480.5,988.5 L481.5,988.5 L482.5,988.5 L483.5,988.5 L484.5,988.4 L485.5,988.4 L486.5,988.4 L487.5,988.3 L488.5,988.3 L489.5,988.3 L490.5,988.2 L491.5,988.2 L492.5,988.2 L493.5,988.1 L494.5,988.1 L495.5,988.0 L496.5,988.0 L497.5,987.9 L498.5,987.9 L499.5,987.8 L500.5,987.7 L501.5,987.7 L502.5,987.6 L503.5,987.5 L504.5,987.4 L505.5,987.4 L506.5,987.3 L507.5,987.2 L508.5,987.1 L509.5,987.0 L510.5,986.9 L511.5,986.8 L512.5,986.6 L513.5,986.5 L514.5,986.4 L515.5,986.3 L516.5,986.1 L517.5,986.0 L518.5,985.8 L519.5,985.7 L520.5,985.5 L521.5,985.3 L522.5,985.2 L523.5,985.0 L524.5,984.8 L525.5,984.6 L526.5,984.4 L527.5,984.2 L528.5,984.0 L529.5,983.8 L530.5,983.5 L531.5,983.3 L532.5,983.1 L533.5,982.8 L534.5,982.6 L535.5,982.3 L536.5,982.0 L537.5,981.8 L538.5,981.5 L539.5,981.2 L540.5,980.9 L541.5,980.6 L542.5,980.3 L543.5,980.0 L544.5,979.6 L545.5,979.3 L546.5,979.0 L547.5,978.6 L548.5,978.3 L549.5,978.0 L550.5,977.6 L551.5,977.2 L552.5,976.9 L553.5,976.5 L554.5,976.1 L555.5,975.8 L556.5,975.4 L557.5,975.0 L558.5,974.7 L559.5,974.3 L560.5,973.9 L561.5,973.5 L562.5,973.1 L563.5,972.8 L564.5,972.4 L565.5,972.0 L566.5,971.6 L567.5,971.2 L568.5,970.9 L569.5,970.5 L570.5,970.1 L571.5,969.8 L572.5,969.4 L573.5,969.1 L574.5,968.7 L575.5,968.4 L576.5,968.1 L577.5,967.8 L578.5,967.4 L579.5,967.1 L580.5,966.8 L581.5,966.6 L582.5,966.3 L583.5,966.0 L584.5,965.8 L585.5,965.5 L586.5,965.3 L587.5,965.1 L588.5,964.9 L589.5,964.7 L590.5,964.5 L591.5,964.3 L592.5,964.2 L593.5,964.1 L594.5,963.9 L595.5,963.8 L596.5,963.7 L597.5,963.7 L598.5,963.6 L599.5,963.5 L600.5,963.5 L601.5,963.5 L602.5,963.5 L603.5,963.5 L604.5,963.5 L605.5,963.6 L606.5,963.7 L607.5,963.7 L608.5,963.8 L609.5,963.9 L610.5,964.1 L611.5,964.2 L612.5,964.3 L613.5,964.5 L614.5,964.7 L615.5,964.9 L616.5,965.1 L617.5,965.3 L618.5,965.5 L619.5,965.8 L620.5,966.0 L621.5,966.3 L622.5,966.6 L623.5,966.8 L624.5,967.1 L625.5,967.4 L626.5,967.8 L627.5,968.1 L628.5,968.4 L629.5,968.7 L630.5,969.1 L631.5,969.4 L632.5,969.8 L633.5,970.1 L634.5,970.5 L635.5,970.9 L636.5,971.2 L637.5,971.6 L638.5,972.0 L639.5,972.4 L640.5,972.8 L641.5,973.1 L642.5,973.5 L643.5,973.9 L644.5,974.3 L645.5,974.7 L646.5,975.0 L647.5,975.4 L648.5,975.8 L649.5,976.1 L650.5,976.5 L651.5,976.9 L652.5,977.2 L653.5,977.6 L654.5,978.0 L655.5,978.3 L656.5,978.6 L657.5,979.0 L658.5,979.3 L659.5,979.6 L660.5,980.0 L661.5,980.3 L662.5,980.6 L663.5,980.9 L664.5,981.2 L665.5,981.5 L666.5,981.8 L667.5,982.0 L668.5,982.3 L669.5,982.6 L670.5,982.8 L671.5,983.1 L672.5,983.3 L673.5,983.5 L674.5,983.8 L675.5,984.0 L676.5,984.2 L677.5,984.4 L678.5,984.6 L679.5,984.8 L680.5,985.0 L681.5,985.2 L682.5,985.3 L683.5,985.5 L684.5,985.7 L685.5,985.8 L686.5,986.0 L687.5,986.1 L688.5,986.3 L689.5,986.4 L690.5,986.5 L691.5,986.6 L692.5,986.8 L693.5,986.9 L694.5,987.0 L695.5,987.1 L696.5,987.2 L697.5,987.3 L698.5,987.4 L699.5,987.4 L700.5,987.5 L701.5,987.6 L702.5,987.7 L703.5,987.7 L704.5,987.8 L705.5,987.9 L706.5,987.9 L707.5,988.0 L708.5,988.0 L709.5,988.1 L710.5,988.1 L711.5,988.2 L712.5,988.2 L713.5,988.2 L714.5,988.3 L715.5,988.3 L716.5,988.3 L717.5,988.4 L718.5,988.4 L719.5,988.4 L720.5,988.5 L721.5,988.5 L722.5,988.5 L723.5,988.5 L724.5,988.5 L725.5,988.6 L726.5,988.6 L727.5,988.6 L728.5,988.6 L729.5,988.6 L730.5,988.6 L731.5,988.7 L732.5,988.7 L733.5,988.7 L734.5,988.7" stroke-width="2.8"/>
<path d="M504.5,988.7 L505.5,988.7 L506.5,988.7 L507.5,988.7 L508.5,988.7 L509.5,988.7 L510.5,988.6 L511.5,988.6 L512.5,988.6 L513.5,988.6 L514.5,988.6 L515.5,988.6 L516.5,988.6 L517.5,988.6 L518.5,988.6 L519.5,988.6 L520.5,988.5 L521.5,988.5 L522.5,988.5 L523.5,988.5 L524.5,988.5 L525.5,988.5 L526.5,988.5 L527.5,988.4 L528.5,988.4 L529.5,988.4 L530.5,988.4 L531.5,988.4 L532.5,988.4 L533.5,988.3 L534.5,988.3 L535.5,988.3 L536.5,988.3 L537.5,988.2 L538.5,988.2 L539.5,988.2 L540.5,988.2 L541.5,988.1 L542.5,988.1 L543.5,988.1 L544.5,988.1 L545.5,988.0 L546.5,988.0 L547.5,988.0 L548.5,987.9 L549.5,987.9 L550.5,987.8 L551.5,987.8 L552.5,987.8 L553.5,987.7 L554.5,987.7 L555.5,987.6 L556.5,987.6 L557.5,987.5 L558.5,987.5 L559.5,987.4 L560.5,987.4 L561.5,987.3 L562.5,987.3 L563.5,987.2 L564.5,987.2 L565.5,987.1 L566.5,987.0 L567.5,987.0 L568.5,986.9 L569.5,986.8 L570.5,986.8 L571.5,986.7 L572.5,986.6 L573.5,986.5 L574.5,986.4 L575.5,986.4 L576.5,986.3 L577.5,986.2 L578.5,986.1 L579.5,986.0 L580.5,985.9 L581.5,985.8 L582.5,985.7 L583.5,985.6 L584.5,985.5 L585.5,985.4 L586.5,985.3 L587.5,985.2 L588.5,985.1 L589.5,985.0 L590.5,984.8 L591.5,984.7 L592.5,984.6 L593.5,984.5 L594.5,984.3 L595.5,984.2 L596.5,984.1 L597.5,983.9 L598.5,983.8 L599.5,983.6 L600.5,983.5 L601.5,983.3 L602.5,983.2 L603.5,983.0 L604.5,982.8 L605.5,982.7 L606.5,982.5 L607.5,982.3 L608.5,982.2 L609.5,982.0 L610.5,981.8 L611.5,981.6 L612.5,981.5 L613.5,981.3 L614.5,981.1 L615.5,980.9 L616.5,980.7 L617.5,980.5 L618.5,980.3 L619.5,980.1 L620.5,979.9 L621.5,979.7 L622.5,979.5 L623.5,979.2 L624.5,979.0 L625.5,978.8 L626.5,978.6 L627.5,978.4 L628.5,978.1 L629.5,977.9 L630.5,977.7 L631.5,977.4 L632.5,977.2 L633.5,977.0 L634.5,976.7 L635.5,976.5 L636.5,976.3 L637.5,976.0 L638.5,975.8 L639.5,975.5 L640.5,975.3 L641.5,975.0 L642.5,974.8 L643.5,974.5 L644.5,974.3 L645.5,974.0 L646.5,973.8 L647.5,973.5 L648.5,973.3 L649.5,973.0 L650.5,972.7 L651.5,972.5 L652.5,972.2 L653.5,972.0 L654.5,971.7 L655.5,971.5 L656.5,971.2 L657.5,971.0 L658.5,970.7 L659.5,970.5 L660.5,970.2 L661.5,970.0 L662.5,969.7 L663.5,969.5 L664.5,969.2 L665.5,969.0 L666.5,968.7 L667.5,968.5 L668.5,968.3 L669.5,968.0 L670.5,967.8 L671.5,967.6 L672.5,967.3 L673.5,967.1 L674.5,966.9 L675.5,966.7 L676.5,966.5 L677.5,966.3 L678.5,966.1 L679.5,965.9 L680.5,965.7 L681.5,965.5 L682.5,965.3 L683.5,965.1 L684.5,964.9 L685.5,964.7 L686.5,964.6 L687.5,964.4 L688.5,964.2 L689.5,964.1 L690.5,963.9 L691.5,963.8 L692.5,963.6 L693.5,963.5 L694.5,963.4 L695.5,963.2 L696.5,963.1 L697.5,963.0 L698.5,962.9 L699.5,962.8 L700.5,962.7 L701.5,962.6 L702.5,962.5 L703.5,962.4 L704.5,962.4 L705.5,962.3 L706.5,962.2 L707.5,962.2 L708.5,962.1 L709.5,962.1 L710.5,962.1 L711.5,962.0 L712.5,962.0 L713.5,962.0 L714.5,962.0 L715.5,962.0 L716.5,962.0 L717.5,962.0 L718.5,962.0 L719.5,962.0 L720.5,962.1 L721.5,962.1 L722.5,962.1 L723.5,962.1 L724.5,962.2 L725.5,962.2 L726.5,962.3 L727.5,962.3 L728.5,962.4 L729.5,962.4 L730.5,962.5 L731.5,962.6 L732.5,962.6 L733.5,962.7 L734.5,962.8 L735.5,962.9 L736.5,962.9 L737.5,963.0 L738.5,963.1 L739.5,963.2 L740.5,963.3 L741.5,963.4 L742.5,963.5 L743.5,963.6 L744.5,963.7 L745.5,963.8 L746.5,964.0 L747.5,964.1 L748.5,964.2 L749.5,964.3 L750.5,964.5 L751.5,964.6 L752.5,964.7 L753.5,964.9 L754.5,965.0 L755.5,965.2 L756.5,965.3 L757.5,965.5 L758.5,965.6 L759.5,965.8 L760.5,965.9 L761.5,966.1 L762.5,966.3 L763.5,966.4 L764.5,966.6 L765.5,966.8 L766.5,966.9 L767.5,967.1 L768.5,967.3 L769.5,967.5 L770.5,967.6 L771.5,967.8 L772.5,968.0 L773.5,968.2 L774.5,968.4 L775.5,968.6 L776.5,968.8 L777.5,968.9 L778.5,969.1 L779.5,969.3 L780.5,969.5 L781.5,969.7 L782.5,969.9 L783.5,970.1 L784.5,970.3 L785.5,970.5 L786.5,970.7 L787.5,970.9 L788.5,971.1 L789.5,971.3 L790.5,971.5 L791.5,971.7 L792.5,971.9 L793.5,972.1 L794.5,972.3 L795.5,972.5 L796.5,972.7 L797.5,972.9 L798.5,973.1 L799.5,973.3 L800.5,973.5 L801.5,973.7 L802.5,973.9 L803.5,974.1 L804.5,974.3 L805.5,974.5 L806.5,974.7 L807.5,974.9 L808.5,975.1 L809.5,975.3 L810.5,975.5 L811.5,975.7 L812.5,975.9 L813.5,976.1 L814.5,976.3 L815.5,976.5 L816.5,976.7 L817.5,976.8 L818.5,977.0 L819.5,977.2 L820.5,977.4 L821.5,977.6 L822.5,977.8 L823.5,977.9 L824.5,978.1 L825.5,978.3 L826.5,978.5 L827.5,978.7 L828.5,978.8 L829.5,979.0 L830.5,979.2 L831.5,979.4 L832.5,979.5 L833.5,979.7 L834.5,979.9 L835.5,980.0 L836.5,980.2 L837.5,980.3 L838.5,980.5 L839.5,980.7 L840.5,980.8 L841.5,981.0 L842.5,981.1 L843.5,981.3 L844.5,981.4 L845.5,981.6 L846.5,981.7 L847.5,981.8 L848.5,982.0 L849.5,982.1 L850.5,982.3 L851.5,982.4 L852.5,982.5 L853.5,982.7 L854.5,982.8 L855.5,982.9 L856.5,983.0 L857.5,983.2 L858.5,983.3 L859.5,983.4 L860.5,983.5 L861.5,983.6 L862.5,983.8 L863.5,983.9 L864.5,984.0 L865.5,984.1 L866.5,984.2 L867.5,984.3 L868.5,984.4 L869.5,984.5 L870.5,984.6 L871.5,984.7 L872.5,984.8 L873.5,984.9 L874.5,985.0 L875.5,985.1 L876.5,985.2 L877.5,985.3 L878.5,985.4 L879.5,985.4 L880.5,985.5 L881.5,985.6 L882.5,985.7 L883.5,985.8 L884.5,985.8 L885.5,985.9 L886.5,986.0 L887.5,986.1 L888.5,986.1 L889.5,986.2 L890.5,986.3 L891.5,986.4 L892.5,986.4 L893.5,986.5 L894.5,986.5 L895.5,986.6 L896.5,986.7 L897.5,986.7 L898.5,986.8 L899.5,986.8 L900.5,986.9 L901.5,986.9 L902.5,987.0 L903.5,987.1 L904.5,987.1 L905.5,987.1 L906.5,987.2 L907.5,987.2 L908.5,987.3 L909.5,987.3 L910.5,987.4 L911.5,987.4 L912.5,987.5 L913.5,987.5 L914.5,987.5 L915.5,987.6 L916.5,987.6 L917.5,987.7 L918.5,987.7 L919.5,987.7 L920.5,987.8 L921.5,987.8 L922.5,987.8 L923.5,987.8 L924.5,987.9 L925.5,987.9 L926.5,987.9 L927.5,988.0 L928.5,988.0 L929.5,988.0 L930.5,988.0 L931.5,988.1 L932.5,988.1 L933.5,988.1 L934.5,988.1 L935.5,988.2 L936.5,988.2 L937.5,988.2 L938.5,988.2 L939.5,988.2 L940.5,988.3 L941.5,988.3 L942.5,988.3 L943.5,988.3 L944.5,988.3 L945.5,988.3 L946.5,988.4 L947.5,988.4 L948.5,988.4 L949.5,988.4 L950.5,988.4 L951.5,988.4 L952.5,988.4 L953.5,988.5 L954.5,988.5 L955.5,988.5 L956.5,988.5 L957.5,988.5 L958.5,988.5 L959.5,988.5 L960.5,988.5 L961.5,988.5 L962.5,988.6 L963.5,988.6 L964.5,988.6 L965.5,988.6 L966.5,988.6 L967.5,988.6 L968.5,988.6 L969.5,988.6 L970.5,988.6 L971.5,988.6 L972.5,988.6 L973.5,988.6 L974.5,988.6 L975.5,988.7 L976.5,988.7 L977.5,988.7 L978.5,988.7 L979.5,988.7 L980.5,988.7" stroke-width="2.8"/>
<path d="M16.5,983.5 L17.5,983.5 L18.5,983.5 L19.5,983.6 L20.5,983.6 L21.5,983.6 L22.5,983.6 L23.5,983.6 L24.5,983.6 L25.5,983.6 L26.5,983.7 L27.5,983.7 L28.5,983.7 L29.5,983.7 L30.5,983.7 L31.5,983.7 L32.5,983.7 L33.5,983.7 L34.5,983.8 L35.5,983.8 L36.5,983.8 L37.5,983.8 L38.5,983.8 L39.5,983.8 L40.5,983.8 L41.5,983.8 L42.5,983.8 L43.5,983.8 L44.5,983.8 L45.5,983.8 L46.5,983.9 L47.5,983.9 L48.5,983.9 L49.5,983.9 L50.5,983.9 L51.5,983.9 L52.5,983.9 L53.5,983.9 L54.5,983.9 L55.5,983.9 L56.5,983.9 L57.5,983.9 L58.5,983.9 L59.5,983.9 L60.5,983.9 L61.5,983.9 L62.5,983.9 L63.5,983.9 L64.5,983.9 L65.5,983.9 L66.5,983.9 L67.5,984.0 L68.5,984.0 L69.5,984.0 L70.5,984.0 L71.5,984.0 L72.5,984.0 L73.5,984.0 L74.5,984.0 L75.5,984.0 L76.5,984.0 L77.5,984.0 L78.5,984.0 L79.5,984.0 L80.5,984.0 L81.5,984.0 L82.5,984.0 L83.5,984.0 L84.5,984.0 L85.5,984.0 L86.5,984.0 L87.5,984.0 L88.5,984.0 L89.5,984.0 L90.5,984.0 L91.5,984.0 L92.5,984.0 L93.5,984.0 L94.5,983.9 L95.5,983.9 L96.5,983.9 L97.5,983.9 L98.5,983.9 L99.5,983.9 L100.5,983.8 L101.5,983.8 L102.5,983.8 L103.5,983.8 L104.5,983.8 L105.5,983.7 L106.5,983.7 L107.5,983.7 L108.5,983.7 L109.5,983.6 L110.5,983.6 L111.5,983.6 L112.5,983.5 L113.5,983.5 L114.5,983.5 L115.5,983.4 L116.5,983.3 L117.5,983.1 L118.5,983.0 L119.5,982.8 L120.5,982.6 L121.5,982.4 L122.5,982.3 L123.5,982.1 L124.5,981.9 L125.5,981.6 L126.5,981.4 L127.5,981.1 L128.5,980.8 L129.5,980.5 L130.5,980.2 L131.5,979.9 L132.5,979.5 L133.5,979.1 L134.5,978.8 L135.5,978.3 L136.5,977.7 L137.5,977.0 L138.5,976.4 L139.5,975.6 L140.5,974.9 L141.5,974.1 L142.5,973.2 L143.5,972.1 L144.5,971.0 L145.5,969.8 L146.5,968.5 L147.5,967.2 L148.5,965.8 L149.5,964.3 L150.5,962.5 L151.5,960.5 L152.5,958.4 L153.5,956.1 L154.5,953.7 L155.5,951.0 L156.5,948.2 L157.5,945.3 L158.5,942.0 L159.5,938.3 L160.5,934.1 L161.5,929.5 L162.5,924.5 L163.5,919.2 L164.5,913.6 L165.5,907.7 L166.5,901.4 L167.5,895.0 L168.5,888.2 L169.5,880.8 L170.5,873.1 L171.5,865.3 L172.5,857.3 L173.5,849.5 L174.5,841.8 L175.5,834.5 L176.5,827.6 L177.5,821.1 L178.5,814.8 L179.5,808.9 L180.5,803.3 L181.5,798.1 L182.5,793.3 L183.5,789.1 L184.5,786.0 L185.5,783.7 L186.5,782.3 L187.5,781.6 L188.5,781.6 L189.5,782.0 L190.5,782.8 L191.5,784.1 L192.5,786.1 L193.5,788.8 L194.5,792.4 L195.5,796.6 L196.5,801.1 L197.5,805.7 L198.5,810.5 L199.5,815.2 L200.5,819.9 L201.5,824.5 L202.5,828.9 L203.5,833.1 L204.5,837.2 L205.5,841.3 L206.5,845.4 L207.5,849.3 L208.5,853.2 L209.5,856.9 L210.5,860.4 L211.5,863.6 L212.5,866.5 L213.5,869.0 L214.5,871.0 L215.5,872.6 L216.5,873.8 L217.5,874.7 L218.5,875.3 L219.5,875.7 L220.5,876.1 L221.5,876.5 L222.5,876.8 L223.5,877.1 L224.5,877.3 L225.5,877.5 L226.5,877.6 L227.5,877.6 L228.5,877.6 L229.5,877.5 L230.5,877.3 L231.5,877.2 L232.5,877.0 L233.5,876.7 L234.5,876.5 L235.5,876.3 L236.5,876.1 L237.5,875.9 L238.5,875.7 L239.5,875.6 L240.5,875.6 L241.5,875.6 L242.5,875.7 L243.5,875.7 L244.5,875.9 L245.5,876.0 L246.5,876.3 L247.5,876.6 L248.5,877.0 L249.5,877.5 L250.5,878.1 L251.5,878.8 L252.5,879.7 L253.5,880.8 L254.5,881.9 L255.5,883.1 L256.5,884.3 L257.5,885.5 L258.5,886.8 L259.5,888.0 L260.5,889.3 L261.5,890.5 L262.5,891.8 L263.5,893.0 L264.5,894.3 L265.5,895.6 L266.5,896.8 L267.5,898.0 L268.5,899.3 L269.5,900.5 L270.5,901.7 L271.5,902.9 L272.5,904.1 L273.5,905.2 L274.5,906.4 L275.5,907.6 L276.5,908.8 L277.5,910.0 L278.5,911.2 L279.5,912.3 L280.5,913.5 L281.5,914.7 L282.5,915.9 L283.5,917.0 L284.5,918.2 L285.5,919.4 L286.5,920.5 L287.5,921.7 L288.5,922.8 L289.5,923.9 L290.5,925.1 L291.5,926.2 L292.5,927.3 L293.5,928.4 L294.5,929.4 L295.5,930.5 L296.5,931.5 L297.5,932.5 L298.5,933.5 L299.5,934.4 L300.5,935.4 L301.5,936.3 L302.5,937.2 L303.5,938.1 L304.5,938.9 L305.5,939.8 L306.5,940.6 L307.5,941.4 L308.5,942.2 L309.5,942.9 L310.5,943.6 L311.5,944.4 L312.5,945.1 L313.5,945.7 L314.5,946.4 L315.5,947.1 L316.5,947.8 L317.5,948.5 L318.5,949.2 L319.5,949.8 L320.5,950.5 L321.5,951.2 L322.5,951.8 L323.5,952.5 L324.5,953.2 L325.5,953.8 L326.5,954.5 L327.5,955.1 L328.5,955.8 L329.5,956.4 L330.5,957.1 L331.5,957.7 L332.5,958.4 L333.5,959.0 L334.5,959.7 L335.5,960.3 L336.5,961.0 L337.5,961.6 L338.5,962.2 L339.5,962.9 L340.5,963.5 L341.5,964.1 L342.5,964.8 L343.5,965.4 L344.5,966.0 L345.5,966.6 L346.5,967.3 L347.5,967.9 L348.5,968.5 L349.5,969.1 L350.5,969.6 L351.5,970.2 L352.5,970.7 L353.5,971.3 L354.5,971.7 L355.5,972.2 L356.5,972.7 L357.5,973.1 L358.5,973.6 L359.5,974.0 L360.5,974.4 L361.5,974.8 L362.5,975.1 L363.5,975.5 L364.5,975.9 L365.5,976.2 L366.5,976.6 L367.5,976.9 L368.5,977.2 L369.5,977.6 L370.5,977.9 L371.5,978.2 L372.5,978.5 L373.5,978.9 L374.5,979.2 L375.5,979.5 L376.5,979.8 L377.5,980.1 L378.5,980.3 L379.5,980.6 L380.5,980.9 L381.5,981.1 L382.5,981.3 L383.5,981.5 L384.5,981.7 L385.5,981.9 L386.5,982.1 L387.5,982.2 L388.5,982.4 L389.5,982.5 L390.5,982.6 L391.5,982.6 L392.5,982.7 L393.5,982.8 L394.5,982.9 L395.5,983.0 L396.5,983.1 L397.5,983.1 L398.5,983.2 L399.5,983.3 L400.5,983.4 L401.5,983.4 L402.5,983.5 L403.5,983.6 L404.5,983.7 L405.5,983.7 L406.5,983.8 L407.5,983.9 L408.5,984.0 L409.5,984.0 L410.5,984.1 L411.5,984.2 L412.5,984.2 L413.5,984.3 L414.5,984.4 L415.5,984.4 L416.5,984.5 L417.5,984.6 L418.5,984.6 L419.5,984.7 L420.5,984.7 L421.5,984.8 L422.5,984.9 L423.5,984.9 L424.5,985.0 L425.5,985.1 L426.5,985.1 L427.5,985.2 L428.5,985.2 L429.5,985.3 L430.5,985.3 L431.5,985.4 L432.5,985.4 L433.5,985.5 L434.5,985.5 L435.5,985.6 L436.5,985.6 L437.5,985.6 L438.5,985.6 L439.5,985.7 L440.5,985.7 L441.5,985.6 L442.5,985.6 L443.5,985.6 L444.5,985.5 L445.5,985.5 L446.5,985.4 L447.5,985.3 L448.5,985.2 L449.5,985.1 L450.5,985.0 L451.5,984.9 L452.5,984.7 L453.5,984.6 L454.5,984.5 L455.5,984.3 L456.5,984.2 L457.5,984.1 L458.5,983.9 L459.5,983.8 L460.5,983.7 L461.5,983.5 L462.5,983.4 L463.5,983.3 L464.5,983.1 L465.5,983.0 L466.5,982.9 L467.5,982.7 L468.5,982.6 L469.5,982.4 L470.5,982.3 L471.5,982.2 L472.5,982.0 L473.5,981.9 L474.5,981.8 L475.5,981.6 L476.5,981.5 L477.5,981.4 L478.5,981.2 L479.5,981.1 L480.5,981.0 L481.5,980.8 L482.5,980.7 L483.5,980.6 L484.5,980.4 L485.5,980.3 L486.5,980.2 L487.5,980.0 L488.5,979.9 L489.5,979.8 L490.5,979.6 L491.5,979.5 L492.5,979.4 L493.5,979.2 L494.5,979.1 L495.5,979.0 L496.5,978.8 L497.5,978.7 L498.5,978.6 L499.5,978.4 L500.5,978.3 L501.5,978.2 L502.5,978.0 L503.5,977.9 L504.5,977.8 L505.5,977.6 L506.5,977.5 L507.5,977.4 L508.5,977.2 L509.5,977.1 L510.5,977.0 L511.5,976.8 L512.5,976.7 L513.5,976.6 L514.5,976.4 L515.5,976.3 L516.5,976.2 L517.5,976.0 L518.5,975.9 L519.5,975.8 L520.5,975.6 L521.5,975.5 L522.5,975.3 L523.5,975.1 L524.5,975.0 L525.5,974.8 L526.5,974.6 L527.5,974.4 L528.5,974.2 L529.5,974.0 L530.5,973.8 L531.5,973.6 L532.5,973.4 L533.5,973.2 L534.5,972.9 L535.5,972.7 L536.5,972.5 L537.5,972.2 L538.5,972.0 L539.5,971.7 L540.5,971.5 L541.5,971.2 L542.5,971.0 L543.5,970.7 L544.5,970.4 L545.5,970.2 L546.5,969.9 L547.5,969.6 L548.5,969.3 L549.5,969.1 L550.5,968.8 L551.5,968.5 L552.5,968.2 L553.5,967.9 L554.5,967.5 L555.5,967.2 L556.5,966.8 L557.5,966.4 L558.5,966.0 L559.5,965.5 L560.5,965.1 L561.5,964.6 L562.5,964.2 L563.5,963.7 L564.5,963.3 L565.5,962.8 L566.5,962.4 L567.5,961.9 L568.5,961.5 L569.5,961.1 L570.5,960.7 L571.5,960.3 L572.5,959.9 L573.5,959.5 L574.5,959.2 L575.5,958.8 L576.5,958.5 L577.5,958.2 L578.5,957.9 L579.5,957.6 L580.5,957.3 L581.5,957.1 L582.5,956.8 L583.5,956.5 L584.5,956.3 L585.5,956.0 L586.5,955.8 L587.5,955.5 L588.5,955.3 L589.5,955.1 L590.5,954.9 L591.5,954.7 L592.5,954.5 L593.5,954.3 L594.5,954.1 L595.5,953.9 L596.5,953.7 L597.5,953.6 L598.5,953.4 L599.5,953.3 L600.5,953.1 L601.5,953.0 L602.5,952.9 L603.5,952.7 L604.5,952.6 L605.5,952.5 L606.5,952.4 L607.5,952.3 L608.5,952.2 L609.5,952.1 L610.5,952.1 L611.5,952.0 L612.5,952.0 L613.5,952.0 L614.5,952.0 L615.5,952.1 L616.5,952.2 L617.5,952.2 L618.5,952.3 L619.5,952.5 L620.5,952.6 L621.5,952.8 L622.5,952.9 L623.5,953.0 L624.5,953.2 L625.5,953.3 L626.5,953.5 L627.5,953.6 L628.5,953.7 L629.5,953.9 L630.5,954.0 L631.5,954.2 L632.5,954.3 L633.5,954.5 L634.5,954.6 L635.5,954.8 L636.5,954.9 L637.5,955.1 L638.5,955.2 L639.5,955.4 L640.5,955.5 L641.5,955.7 L642.5,955.8 L643.5,956.0 L644.5,956.1 L645.5,956.3 L646.5,956.4 L647.5,956.6 L648.5,956.8 L649.5,956.9 L650.5,957.1 L651.5,957.3 L652.5,957.5 L653.5,957.6 L654.5,957.8 L655.5,958.0 L656.5,958.1 L657.5,958.3 L658.5,958.5 L659.5,958.6 L660.5,958.8 L661.5,958.9 L662.5,959.1 L663.5,959.2 L664.5,959.4 L665.5,959.5 L666.5,959.6 L667.5,959.8 L668.5,959.9 L669.5,960.0 L670.5,960.1 L671.5,960.2 L672.5,960.3 L673.5,960.4 L674.5,960.4 L675.5,960.5 L676.5,960.5 L677.5,960.5 L678.5,960.6 L679.5,960.6 L680.5,960.6 L681.5,960.6 L682.5,960.6 L683.5,960.6 L684.5,960.6 L685.5,960.5 L686.5,960.5 L687.5,960.5 L688.5,960.5 L689.5,960.5 L690.5,960.4 L691.5,960.4 L692.5,960.4 L693.5,960.4 L694.5,960.3 L695.5,960.3 L696.5,960.3 L697.5,960.3 L698.5,960.3 L699.5,960.3 L700.5,960.3 L701.5,960.3 L702.5,960.3 L703.5,960.3 L704.5,960.3 L705.5,960.3 L706.5,960.4 L707.5,960.4 L708.5,960.4 L709.5,960.4 L710.5,960.4 L711.5,960.4 L712.5,960.4 L713.5,960.4 L714.5,960.4 L715.5,960.5 L716.5,960.5 L717.5,960.5 L718.5,960.5 L719.5,960.5 L720.5,960.5 L721.5,960.6 L722.5,960.6 L723.5,960.6 L724.5,960.6 L725.5,960.7 L726.5,960.7 L727.5,960.8 L728.5,960.8 L729.5,960.9 L730.5,960.9 L731.5,961.0 L732.5,961.1 L733.5,961.1 L734.5,961.2 L735.5,961.3 L736.5,961.4 L737.5,961.5 L738.5,961.6 L739.5,961.8 L740.5,961.9 L741.5,962.0 L742.5,962.2 L743.5,962.3 L744.5,962.5 L745.5,962.6 L746.5,962.8 L747.5,962.9 L748.5,963.1 L749.5,963.3 L750.5,963.5 L751.5,963.6 L752.5,963.8 L753.5,964.0 L754.5,964.2 L755.5,964.4 L756.5,964.6 L757.5,964.8 L758.5,965.0 L759.5,965.2 L760.5,965.4 L761.5,965.6 L762.5,965.8 L763.5,966.0 L764.5,966.2 L765.5,966.4 L766.5,966.6 L767.5,966.8 L768.5,967.0 L769.5,967.2 L770.5,967.4 L771.5,967.6 L772.5,967.8 L773.5,968.0 L774.5,968.2 L775.5,968.4 L776.5,968.6 L777.5,968.8 L778.5,969.0 L779.5,969.2 L780.5,969.4 L781.5,969.6 L782.5,969.8 L783.5,970.0 L784.5,970.2 L785.5,970.4 L786.5,970.6 L787.5,970.9 L788.5,971.1 L789.5,971.3 L790.5,971.5 L791.5,971.7 L792.5,971.9 L793.5,972.1 L794.5,972.3 L795.5,972.5 L796.5,972.7 L797.5,972.9 L798.5,973.1 L799.5,973.3 L800.5,973.5 L801.5,973.7 L802.5,973.9 L803.5,974.1 L804.5,974.3 L805.5,974.5 L806.5,974.6 L807.5,974.8 L808.5,975.0 L809.5,975.2 L810.5,975.4 L811.5,975.6 L812.5,975.8 L813.5,975.9 L814.5,976.1 L815.5,976.3 L816.5,976.5 L817.5,976.7 L818.5,976.9 L819.5,977.0 L820.5,977.2 L821.5,977.4 L822.5,977.6 L823.5,977.7 L824.5,977.9 L825.5,978.1 L826.5,978.3 L827.5,978.4 L828.5,978.6 L829.5,978.8 L830.5,978.9 L831.5,979.1 L832.5,979.3 L833.5,979.5 L834.5,979.6 L835.5,979.8 L836.5,980.0 L837.5,980.1 L838.5,980.3 L839.5,980.5 L840.5,980.7 L841.5,980.8 L842.5,981.0 L843.5,981.2 L844.5,981.3 L845.5,981.5 L846.5,981.7 L847.5,981.8 L848.5,982.0 L849.5,982.1 L850.5,982.3 L851.5,982.5 L852.5,982.6 L853.5,982.8 L854.5,982.9 L855.5,983.1 L856.5,983.2 L857.5,983.3 L858.5,983.5 L859.5,983.6 L860.5,983.8 L861.5,983.9 L862.5,984.0 L863.5,984.1 L864.5,984.2 L865.5,984.4 L866.5,984.5 L867.5,984.6 L868.5,984.7 L869.5,984.8 L870.5,984.9 L871.5,985.0 L872.5,985.0 L873.5,985.1 L874.5,985.2 L875.5,985.3 L876.5,985.3 L877.5,985.4 L878.5,985.4 L879.5,985.5 L880.5,985.5 L881.5,985.5 L882.5,985.6 L883.5,985.6 L884.5,985.6 L885.5,985.7 L886.5,985.7 L887.5,985.7 L888.5,985.7 L889.5,985.8 L890.5,985.8 L891.5,985.8 L892.5,985.8 L893.5,985.9 L894.5,985.9 L895.5,985.9 L896.5,986.0 L897.5,986.0 L898.5,986.0 L899.5,986.1 L900.5,986.1 L901.5,986.2 L902.5,986.2 L903.5,986.3 L904.5,986.3 L905.5,986.4 L906.5,986.5 L907.5,986.5 L908.5,986.6 L909.5,986.7 L910.5,986.7 L911.5,986.8 L912.5,986.9 L913.5,986.9 L914.5,987.0 L915.5,987.1 L916.5,987.2 L917.5,987.2 L918.5,987.3 L919.5,987.4 L920.5,987.4 L921.5,987.5 L922.5,987.6 L923.5,987.6 L924.5,987.7 L925.5,987.8 L926.5,987.9 L927.5,987.9 L928.5,988.0 L929.5,988.1 L930.5,988.1 L931.5,988.2 L932.5,988.3 L933.5,988.3 L934.5,988.4 L935.5,988.5 L936.5,988.6 L937.5,988.6 L938.5,988.7 L939.5,988.8 L940.5,988.8 L941.5,988.9 L942.5,989.0 L943.5,989.0 L944.5,989.1 L945.5,989.2 L946.5,989.3 L947.5,989.3 L948.5,989.4 L949.5,989.5 L950.5,989.5 L951.5,989.6 L952.5,989.7 L953.5,989.7 L954.5,989.8 L955.5,989.9 L956.5,990.0 L957.5,990.0 L958.5,990.1 L959.5,990.2 L960.5,990.2 L961.5,990.3 L962.5,990.4 L963.5,990.5 L964.5,990.5 L965.5,990.6 L966.5,990.7 L967.5,990.7 L968.5,990.8 L969.5,990.9 L970.5,991.0 L971.5,991.0 L972.5,991.1 L973.5,991.2 L974.5,991.2 L975.5,991.3 L976.5,991.4 L977.5,991.4 L978.5,991.5 L979.5,991.5 L980.5,991.6 L981.5,991.6 L982.5,991.7 L983.5,991.7 L984.5,991.7 L985.5,991.8 L986.5,991.8 L987.5,991.8 L988.5,991.9 L989.5,991.9 L990.5,991.9 L991.5,992.0 L992.5,992.0" stroke-width="6.3"/>
</g>
<g clip-path="url(#cpc)" fill="none" stroke="#000" stroke-linejoin="round" stroke-linecap="round">
<path d="M16.5,1474.9 L17.5,1474.9 L18.5,1474.8 L19.5,1474.8 L20.5,1474.8 L21.5,1474.8 L22.5,1474.8 L23.5,1474.8 L24.5,1474.8 L25.5,1474.8 L26.5,1474.8 L27.5,1474.8 L28.5,1474.8 L29.5,1474.8 L30.5,1474.8 L31.5,1474.8 L32.5,1474.8 L33.5,1474.7 L34.5,1474.7 L35.5,1474.7 L36.5,1474.7 L37.5,1474.7 L38.5,1474.7 L39.5,1474.7 L40.5,1474.7 L41.5,1474.7 L42.5,1474.7 L43.5,1474.7 L44.5,1474.6 L45.5,1474.6 L46.5,1474.6 L47.5,1474.6 L48.5,1474.6 L49.5,1474.6 L50.5,1474.6 L51.5,1474.6 L52.5,1474.6 L53.5,1474.5 L54.5,1474.5 L55.5,1474.5 L56.5,1474.5 L57.5,1474.5 L58.5,1474.5 L59.5,1474.5 L60.5,1474.4 L61.5,1474.4 L62.5,1474.4 L63.5,1474.4 L64.5,1474.4 L65.5,1474.4 L66.5,1474.3 L67.5,1474.3 L68.5,1474.3 L69.5,1474.3 L70.5,1474.3 L71.5,1474.2 L72.5,1474.2 L73.5,1474.2 L74.5,1474.2 L75.5,1474.2 L76.5,1474.1 L77.5,1474.1 L78.5,1474.1 L79.5,1474.1 L80.5,1474.0 L81.5,1474.0 L82.5,1474.0 L83.5,1473.9 L84.5,1473.9 L85.5,1473.9 L86.5,1473.9 L87.5,1473.8 L88.5,1473.8 L89.5,1473.7 L90.5,1473.7 L91.5,1473.7 L92.5,1473.6 L93.5,1473.6 L94.5,1473.5 L95.5,1473.5 L96.5,1473.4 L97.5,1473.4 L98.5,1473.3 L99.5,1473.3 L100.5,1473.2 L101.5,1473.2 L102.5,1473.1 L103.5,1473.1 L104.5,1473.0 L105.5,1472.9 L106.5,1472.9 L107.5,1472.8 L108.5,1472.7 L109.5,1472.6 L110.5,1472.5 L111.5,1472.4 L112.5,1472.3 L113.5,1472.2 L114.5,1472.1 L115.5,1472.0 L116.5,1471.9 L117.5,1471.8 L118.5,1471.7 L119.5,1471.5 L120.5,1471.4 L121.5,1471.2 L122.5,1471.1 L123.5,1470.9 L124.5,1470.7 L125.5,1470.6 L126.5,1470.4 L127.5,1470.1 L128.5,1469.9 L129.5,1469.7 L130.5,1469.4 L131.5,1469.1 L132.5,1468.8 L133.5,1468.5 L134.5,1468.2 L135.5,1467.8 L136.5,1467.4 L137.5,1466.9 L138.5,1466.4 L139.5,1465.9 L140.5,1465.3 L141.5,1464.7 L142.5,1463.9 L143.5,1463.1 L144.5,1462.2 L145.5,1461.3 L146.5,1460.2 L147.5,1458.9 L148.5,1457.6 L149.5,1456.0 L150.5,1454.4 L151.5,1452.5 L152.5,1450.4 L153.5,1448.1 L154.5,1445.6 L155.5,1442.8 L156.5,1439.8 L157.5,1436.6 L158.5,1433.0 L159.5,1429.3 L160.5,1425.3 L161.5,1421.1 L162.5,1416.8 L163.5,1412.4 L164.5,1408.1 L165.5,1403.9 L166.5,1400.0 L167.5,1396.6 L168.5,1393.9 L169.5,1391.9 L170.5,1390.9 L171.5,1390.9 L172.5,1391.9 L173.5,1393.9 L174.5,1396.6 L175.5,1400.0 L176.5,1403.9 L177.5,1408.1 L178.5,1412.4 L179.5,1416.8 L180.5,1421.1 L181.5,1425.3 L182.5,1429.3 L183.5,1433.0 L184.5,1436.6 L185.5,1439.8 L186.5,1442.8 L187.5,1445.6 L188.5,1448.1 L189.5,1450.4 L190.5,1452.5 L191.5,1454.4 L192.5,1456.0 L193.5,1457.6 L194.5,1458.9 L195.5,1460.2 L196.5,1461.3 L197.5,1462.2 L198.5,1463.1 L199.5,1463.9 L200.5,1464.7 L201.5,1465.3 L202.5,1465.9 L203.5,1466.4 L204.5,1466.9 L205.5,1467.4 L206.5,1467.8 L207.5,1468.2 L208.5,1468.5 L209.5,1468.8 L210.5,1469.1 L211.5,1469.4 L212.5,1469.7 L213.5,1469.9 L214.5,1470.1 L215.5,1470.4 L216.5,1470.6 L217.5,1470.7 L218.5,1470.9 L219.5,1471.1 L220.5,1471.2 L221.5,1471.4 L222.5,1471.5 L223.5,1471.7 L224.5,1471.8 L225.5,1471.9 L226.5,1472.0 L227.5,1472.1 L228.5,1472.2 L229.5,1472.3 L230.5,1472.4 L231.5,1472.5 L232.5,1472.6 L233.5,1472.7 L234.5,1472.8 L235.5,1472.9 L236.5,1472.9 L237.5,1473.0 L238.5,1473.1 L239.5,1473.1 L240.5,1473.2 L241.5,1473.2 L242.5,1473.3 L243.5,1473.3 L244.5,1473.4 L245.5,1473.4 L246.5,1473.5 L247.5,1473.5 L248.5,1473.6 L249.5,1473.6 L250.5,1473.7 L251.5,1473.7 L252.5,1473.7 L253.5,1473.8 L254.5,1473.8 L255.5,1473.9 L256.5,1473.9 L257.5,1473.9 L258.5,1473.9 L259.5,1474.0 L260.5,1474.0 L261.5,1474.0 L262.5,1474.1 L263.5,1474.1 L264.5,1474.1 L265.5,1474.1 L266.5,1474.2 L267.5,1474.2 L268.5,1474.2 L269.5,1474.2 L270.5,1474.2 L271.5,1474.3 L272.5,1474.3 L273.5,1474.3 L274.5,1474.3 L275.5,1474.3 L276.5,1474.4 L277.5,1474.4 L278.5,1474.4 L279.5,1474.4 L280.5,1474.4 L281.5,1474.4 L282.5,1474.5 L283.5,1474.5 L284.5,1474.5 L285.5,1474.5 L286.5,1474.5 L287.5,1474.5 L288.5,1474.5 L289.5,1474.6 L290.5,1474.6 L291.5,1474.6 L292.5,1474.6 L293.5,1474.6 L294.5,1474.6 L295.5,1474.6 L296.5,1474.6 L297.5,1474.6 L298.5,1474.7 L299.5,1474.7 L300.5,1474.7 L301.5,1474.7 L302.5,1474.7 L303.5,1474.7 L304.5,1474.7 L305.5,1474.7 L306.5,1474.7 L307.5,1474.7 L308.5,1474.7 L309.5,1474.8 L310.5,1474.8 L311.5,1474.8 L312.5,1474.8 L313.5,1474.8 L314.5,1474.8 L315.5,1474.8 L316.5,1474.8 L317.5,1474.8 L318.5,1474.8 L319.5,1474.8 L320.5,1474.8 L321.5,1474.8 L322.5,1474.8 L323.5,1474.8 L324.5,1474.9 L325.5,1474.9 L326.5,1474.9 L327.5,1474.9 L328.5,1474.9 L329.5,1474.9 L330.5,1474.9 L331.5,1474.9 L332.5,1474.9 L333.5,1474.9 L334.5,1474.9 L335.5,1474.9 L336.5,1474.9 L337.5,1474.9 L338.5,1474.9 L339.5,1474.9 L340.5,1474.9 L341.5,1474.9 L342.5,1474.9 L343.5,1474.9 L344.5,1475.0 L345.5,1475.0 L346.5,1475.0 L347.5,1475.0 L348.5,1475.0 L349.5,1475.0 L350.5,1475.0 L351.5,1475.0 L352.5,1475.0 L353.5,1475.0 L354.5,1475.0 L355.5,1475.0 L356.5,1475.0 L357.5,1475.0 L358.5,1475.0 L359.5,1475.0 L360.5,1475.0 L361.5,1475.0 L362.5,1475.0 L363.5,1475.0 L364.5,1475.0 L365.5,1475.0 L366.5,1475.0 L367.5,1475.0 L368.5,1475.0 L369.5,1475.0 L370.5,1475.0 L371.5,1475.0 L372.5,1475.0 L373.5,1475.0 L374.5,1475.0 L375.5,1475.0 L376.5,1475.1 L377.5,1475.1 L378.5,1475.1 L379.5,1475.1 L380.5,1475.1 L381.5,1475.1 L382.5,1475.1 L383.5,1475.1 L384.5,1475.1 L385.5,1475.1 L386.5,1475.1 L387.5,1475.1 L388.5,1475.1 L389.5,1475.1 L390.5,1475.1 L391.5,1475.1 L392.5,1475.1 L393.5,1475.1 L394.5,1475.1 L395.5,1475.1 L396.5,1475.1 L397.5,1475.1 L398.5,1475.1 L399.5,1475.1 L400.5,1475.1 L401.5,1475.1 L402.5,1475.1 L403.5,1475.1 L404.5,1475.1 L405.5,1475.1 L406.5,1475.1 L407.5,1475.1 L408.5,1475.1 L409.5,1475.1 L410.5,1475.1 L411.5,1475.1 L412.5,1475.1 L413.5,1475.1 L414.5,1475.1 L415.5,1475.1 L416.5,1475.1 L417.5,1475.1 L418.5,1475.1 L419.5,1475.1 L420.5,1475.1 L421.5,1475.1 L422.5,1475.1 L423.5,1475.1 L424.5,1475.1 L425.5,1475.1 L426.5,1475.1 L427.5,1475.1 L428.5,1475.1 L429.5,1475.1 L430.5,1475.1 L431.5,1475.1 L432.5,1475.1 L433.5,1475.1 L434.5,1475.1 L435.5,1475.1 L436.5,1475.2 L437.5,1475.2 L438.5,1475.2 L439.5,1475.2 L440.5,1475.2 L441.5,1475.2 L442.5,1475.2 L443.5,1475.2 L444.5,1475.2 L445.5,1475.2 L446.5,1475.2 L447.5,1475.2 L448.5,1475.2 L449.5,1475.2 L450.5,1475.2 L451.5,1475.2 L452.5,1475.2 L453.5,1475.2 L454.5,1475.2 L455.5,1475.2 L456.5,1475.2 L457.5,1475.2 L458.5,1475.2 L459.5,1475.2 L460.5,1475.2 L461.5,1475.2 L462.5,1475.2 L463.5,1475.2 L464.5,1475.2 L465.5,1475.2 L466.5,1475.2 L467.5,1475.2" stroke-width="2.8"/>
<path d="M16.5,1474.4 L17.5,1474.4 L18.5,1474.4 L19.5,1474.4 L20.5,1474.4 L21.5,1474.4 L22.5,1474.4 L23.5,1474.4 L24.5,1474.4 L25.5,1474.4 L26.5,1474.4 L27.5,1474.4 L28.5,1474.3 L29.5,1474.3 L30.5,1474.3 L31.5,1474.3 L32.5,1474.3 L33.5,1474.3 L34.5,1474.3 L35.5,1474.3 L36.5,1474.3 L37.5,1474.3 L38.5,1474.2 L39.5,1474.2 L40.5,1474.2 L41.5,1474.2 L42.5,1474.2 L43.5,1474.2 L44.5,1474.2 L45.5,1474.2 L46.5,1474.2 L47.5,1474.2 L48.5,1474.1 L49.5,1474.1 L50.5,1474.1 L51.5,1474.1 L52.5,1474.1 L53.5,1474.1 L54.5,1474.1 L55.5,1474.1 L56.5,1474.0 L57.5,1474.0 L58.5,1474.0 L59.5,1474.0 L60.5,1474.0 L61.5,1474.0 L62.5,1474.0 L63.5,1473.9 L64.5,1473.9 L65.5,1473.9 L66.5,1473.9 L67.5,1473.9 L68.5,1473.9 L69.5,1473.9 L70.5,1473.8 L71.5,1473.8 L72.5,1473.8 L73.5,1473.8 L74.5,1473.8 L75.5,1473.8 L76.5,1473.7 L77.5,1473.7 L78.5,1473.7 L79.5,1473.7 L80.5,1473.7 L81.5,1473.6 L82.5,1473.6 L83.5,1473.6 L84.5,1473.6 L85.5,1473.6 L86.5,1473.5 L87.5,1473.5 L88.5,1473.5 L89.5,1473.5 L90.5,1473.4 L91.5,1473.4 L92.5,1473.4 L93.5,1473.4 L94.5,1473.4 L95.5,1473.3 L96.5,1473.3 L97.5,1473.3 L98.5,1473.2 L99.5,1473.2 L100.5,1473.2 L101.5,1473.2 L102.5,1473.1 L103.5,1473.1 L104.5,1473.1 L105.5,1473.0 L106.5,1473.0 L107.5,1473.0 L108.5,1472.9 L109.5,1472.9 L110.5,1472.9 L111.5,1472.8 L112.5,1472.8 L113.5,1472.8 L114.5,1472.7 L115.5,1472.7 L116.5,1472.7 L117.5,1472.6 L118.5,1472.6 L119.5,1472.5 L120.5,1472.5 L121.5,1472.4 L122.5,1472.4 L123.5,1472.4 L124.5,1472.3 L125.5,1472.3 L126.5,1472.2 L127.5,1472.2 L128.5,1472.1 L129.5,1472.1 L130.5,1472.0 L131.5,1471.9 L132.5,1471.9 L133.5,1471.8 L134.5,1471.8 L135.5,1471.7 L136.5,1471.6 L137.5,1471.6 L138.5,1471.5 L139.5,1471.5 L140.5,1471.4 L141.5,1471.3 L142.5,1471.2 L143.5,1471.2 L144.5,1471.1 L145.5,1471.0 L146.5,1470.9 L147.5,1470.8 L148.5,1470.8 L149.5,1470.7 L150.5,1470.6 L151.5,1470.5 L152.5,1470.4 L153.5,1470.3 L154.5,1470.2 L155.5,1470.1 L156.5,1470.0 L157.5,1469.8 L158.5,1469.7 L159.5,1469.6 L160.5,1469.5 L161.5,1469.3 L162.5,1469.2 L163.5,1469.1 L164.5,1468.9 L165.5,1468.8 L166.5,1468.6 L167.5,1468.5 L168.5,1468.3 L169.5,1468.1 L170.5,1467.9 L171.5,1467.8 L172.5,1467.6 L173.5,1467.4 L174.5,1467.2 L175.5,1466.9 L176.5,1466.7 L177.5,1466.5 L178.5,1466.2 L179.5,1465.9 L180.5,1465.6 L181.5,1465.4 L182.5,1465.0 L183.5,1464.7 L184.5,1464.4 L185.5,1464.0 L186.5,1463.6 L187.5,1463.2 L188.5,1462.8 L189.5,1462.3 L190.5,1461.8 L191.5,1461.3 L192.5,1460.8 L193.5,1460.2 L194.5,1459.6 L195.5,1458.9 L196.5,1458.2 L197.5,1457.5 L198.5,1456.7 L199.5,1455.9 L200.5,1455.0 L201.5,1454.0 L202.5,1453.0 L203.5,1452.0 L204.5,1450.9 L205.5,1449.7 L206.5,1448.5 L207.5,1447.1 L208.5,1445.7 L209.5,1444.3 L210.5,1442.7 L211.5,1441.1 L212.5,1439.4 L213.5,1437.6 L214.5,1435.8 L215.5,1433.8 L216.5,1431.8 L217.5,1429.6 L218.5,1427.4 L219.5,1425.1 L220.5,1422.8 L221.5,1420.3 L222.5,1417.8 L223.5,1415.2 L224.5,1412.5 L225.5,1409.7 L226.5,1406.9 L227.5,1404.1 L228.5,1401.2 L229.5,1398.4 L230.5,1395.5 L231.5,1392.6 L232.5,1389.7 L233.5,1386.9 L234.5,1384.2 L235.5,1381.5 L236.5,1379.0 L237.5,1376.7 L238.5,1374.5 L239.5,1372.5 L240.5,1370.8 L241.5,1369.3 L242.5,1368.1 L243.5,1367.2 L244.5,1366.6 L245.5,1366.3 L246.5,1366.4 L247.5,1366.8 L248.5,1367.5 L249.5,1368.5 L250.5,1369.8 L251.5,1371.4 L252.5,1373.3 L253.5,1375.3 L254.5,1377.6 L255.5,1380.0 L256.5,1382.6 L257.5,1385.3 L258.5,1388.0 L259.5,1390.8 L260.5,1393.7 L261.5,1396.6 L262.5,1399.5 L263.5,1402.4 L264.5,1405.3 L265.5,1408.1 L266.5,1410.8 L267.5,1413.6 L268.5,1416.2 L269.5,1418.8 L270.5,1421.3 L271.5,1423.7 L272.5,1426.1 L273.5,1428.3 L274.5,1430.5 L275.5,1432.6 L276.5,1434.6 L277.5,1436.5 L278.5,1438.4 L279.5,1440.1 L280.5,1441.8 L281.5,1443.4 L282.5,1444.9 L283.5,1446.3 L284.5,1447.7 L285.5,1449.0 L286.5,1450.2 L287.5,1451.3 L288.5,1452.4 L289.5,1453.4 L290.5,1454.4 L291.5,1455.3 L292.5,1456.2 L293.5,1457.0 L294.5,1457.8 L295.5,1458.5 L296.5,1459.2 L297.5,1459.8 L298.5,1460.4 L299.5,1461.0 L300.5,1461.5 L301.5,1462.0 L302.5,1462.5 L303.5,1462.9 L304.5,1463.4 L305.5,1463.8 L306.5,1464.1 L307.5,1464.5 L308.5,1464.8 L309.5,1465.2 L310.5,1465.5 L311.5,1465.8 L312.5,1466.0 L313.5,1466.3 L314.5,1466.6 L315.5,1466.8 L316.5,1467.0 L317.5,1467.2 L318.5,1467.4 L319.5,1467.6 L320.5,1467.8 L321.5,1468.0 L322.5,1468.2 L323.5,1468.4 L324.5,1468.5 L325.5,1468.7 L326.5,1468.8 L327.5,1469.0 L328.5,1469.1 L329.5,1469.3 L330.5,1469.4 L331.5,1469.5 L332.5,1469.7 L333.5,1469.8 L334.5,1469.9 L335.5,1470.0 L336.5,1470.1 L337.5,1470.2 L338.5,1470.3 L339.5,1470.4 L340.5,1470.5 L341.5,1470.6 L342.5,1470.7 L343.5,1470.8 L344.5,1470.9 L345.5,1471.0 L346.5,1471.0 L347.5,1471.1 L348.5,1471.2 L349.5,1471.3 L350.5,1471.3 L351.5,1471.4 L352.5,1471.5 L353.5,1471.5 L354.5,1471.6 L355.5,1471.7 L356.5,1471.7 L357.5,1471.8 L358.5,1471.9 L359.5,1471.9 L360.5,1472.0 L361.5,1472.0 L362.5,1472.1 L363.5,1472.1 L364.5,1472.2 L365.5,1472.2 L366.5,1472.3 L367.5,1472.3 L368.5,1472.4 L369.5,1472.4 L370.5,1472.5 L371.5,1472.5 L372.5,1472.5 L373.5,1472.6 L374.5,1472.6 L375.5,1472.7 L376.5,1472.7 L377.5,1472.7 L378.5,1472.8 L379.5,1472.8 L380.5,1472.9 L381.5,1472.9 L382.5,1472.9 L383.5,1473.0 L384.5,1473.0 L385.5,1473.0 L386.5,1473.1 L387.5,1473.1 L388.5,1473.1 L389.5,1473.1 L390.5,1473.2 L391.5,1473.2 L392.5,1473.2 L393.5,1473.3 L394.5,1473.3 L395.5,1473.3 L396.5,1473.3 L397.5,1473.4 L398.5,1473.4 L399.5,1473.4 L400.5,1473.4 L401.5,1473.5 L402.5,1473.5 L403.5,1473.5 L404.5,1473.5 L405.5,1473.5 L406.5,1473.6 L407.5,1473.6 L408.5,1473.6 L409.5,1473.6 L410.5,1473.6 L411.5,1473.7 L412.5,1473.7 L413.5,1473.7 L414.5,1473.7 L415.5,1473.7 L416.5,1473.8 L417.5,1473.8 L418.5,1473.8 L419.5,1473.8 L420.5,1473.8 L421.5,1473.8 L422.5,1473.9 L423.5,1473.9 L424.5,1473.9 L425.5,1473.9 L426.5,1473.9 L427.5,1473.9 L428.5,1474.0 L429.5,1474.0 L430.5,1474.0 L431.5,1474.0 L432.5,1474.0 L433.5,1474.0 L434.5,1474.0 L435.5,1474.0 L436.5,1474.1 L437.5,1474.1 L438.5,1474.1 L439.5,1474.1 L440.5,1474.1 L441.5,1474.1 L442.5,1474.1 L443.5,1474.1 L444.5,1474.2 L445.5,1474.2 L446.5,1474.2 L447.5,1474.2 L448.5,1474.2 L449.5,1474.2 L450.5,1474.2 L451.5,1474.2 L452.5,1474.2 L453.5,1474.3 L454.5,1474.3 L455.5,1474.3 L456.5,1474.3 L457.5,1474.3 L458.5,1474.3 L459.5,1474.3 L460.5,1474.3 L461.5,1474.3 L462.5,1474.3 L463.5,1474.3 L464.5,1474.4 L465.5,1474.4 L466.5,1474.4 L467.5,1474.4 L468.5,1474.4 L469.5,1474.4 L470.5,1474.4 L471.5,1474.4 L472.5,1474.4 L473.5,1474.4 L474.5,1474.4 L475.5,1474.4 L476.5,1474.4 L477.5,1474.5 L478.5,1474.5 L479.5,1474.5 L480.5,1474.5 L481.5,1474.5 L482.5,1474.5 L483.5,1474.5 L484.5,1474.5 L485.5,1474.5 L486.5,1474.5 L487.5,1474.5 L488.5,1474.5 L489.5,1474.5 L490.5,1474.5 L491.5,1474.5 L492.5,1474.6 L493.5,1474.6 L494.5,1474.6 L495.5,1474.6 L496.5,1474.6 L497.5,1474.6 L498.5,1474.6 L499.5,1474.6 L500.5,1474.6 L501.5,1474.6 L502.5,1474.6 L503.5,1474.6 L504.5,1474.6 L505.5,1474.6 L506.5,1474.6 L507.5,1474.6 L508.5,1474.6 L509.5,1474.6 L510.5,1474.7 L511.5,1474.7 L512.5,1474.7 L513.5,1474.7 L514.5,1474.7 L515.5,1474.7 L516.5,1474.7 L517.5,1474.7 L518.5,1474.7 L519.5,1474.7 L520.5,1474.7 L521.5,1474.7 L522.5,1474.7 L523.5,1474.7 L524.5,1474.7 L525.5,1474.7 L526.5,1474.7 L527.5,1474.7 L528.5,1474.7 L529.5,1474.7 L530.5,1474.7 L531.5,1474.7 L532.5,1474.7 L533.5,1474.8 L534.5,1474.8 L535.5,1474.8 L536.5,1474.8 L537.5,1474.8 L538.5,1474.8 L539.5,1474.8 L540.5,1474.8 L541.5,1474.8 L542.5,1474.8 L543.5,1474.8 L544.5,1474.8 L545.5,1474.8 L546.5,1474.8 L547.5,1474.8 L548.5,1474.8 L549.5,1474.8 L550.5,1474.8 L551.5,1474.8 L552.5,1474.8 L553.5,1474.8 L554.5,1474.8 L555.5,1474.8 L556.5,1474.8 L557.5,1474.8 L558.5,1474.8 L559.5,1474.8 L560.5,1474.8 L561.5,1474.8 L562.5,1474.8 L563.5,1474.8 L564.5,1474.9 L565.5,1474.9 L566.5,1474.9 L567.5,1474.9 L568.5,1474.9 L569.5,1474.9 L570.5,1474.9 L571.5,1474.9 L572.5,1474.9 L573.5,1474.9 L574.5,1474.9 L575.5,1474.9 L576.5,1474.9 L577.5,1474.9 L578.5,1474.9 L579.5,1474.9 L580.5,1474.9 L581.5,1474.9 L582.5,1474.9 L583.5,1474.9 L584.5,1474.9 L585.5,1474.9 L586.5,1474.9 L587.5,1474.9 L588.5,1474.9 L589.5,1474.9 L590.5,1474.9 L591.5,1474.9 L592.5,1474.9 L593.5,1474.9 L594.5,1474.9 L595.5,1474.9 L596.5,1474.9 L597.5,1474.9 L598.5,1474.9 L599.5,1474.9 L600.5,1474.9 L601.5,1474.9 L602.5,1474.9 L603.5,1474.9 L604.5,1474.9 L605.5,1474.9 L606.5,1474.9 L607.5,1475.0 L608.5,1475.0 L609.5,1475.0 L610.5,1475.0 L611.5,1475.0 L612.5,1475.0 L613.5,1475.0 L614.5,1475.0 L615.5,1475.0 L616.5,1475.0 L617.5,1475.0 L618.5,1475.0 L619.5,1475.0 L620.5,1475.0 L621.5,1475.0 L622.5,1475.0 L623.5,1475.0 L624.5,1475.0 L625.5,1475.0 L626.5,1475.0 L627.5,1475.0 L628.5,1475.0 L629.5,1475.0 L630.5,1475.0 L631.5,1475.0 L632.5,1475.0 L633.5,1475.0 L634.5,1475.0 L635.5,1475.0 L636.5,1475.0 L637.5,1475.0 L638.5,1475.0 L639.5,1475.0 L640.5,1475.0 L641.5,1475.0 L642.5,1475.0 L643.5,1475.0 L644.5,1475.0 L645.5,1475.0 L646.5,1475.0 L647.5,1475.0 L648.5,1475.0 L649.5,1475.0 L650.5,1475.0 L651.5,1475.0 L652.5,1475.0 L653.5,1475.0 L654.5,1475.0 L655.5,1475.0 L656.5,1475.0 L657.5,1475.0 L658.5,1475.0 L659.5,1475.0 L660.5,1475.0 L661.5,1475.0 L662.5,1475.0 L663.5,1475.0 L664.5,1475.0 L665.5,1475.0 L666.5,1475.0 L667.5,1475.0 L668.5,1475.0 L669.5,1475.0 L670.5,1475.0 L671.5,1475.0 L672.5,1475.0 L673.5,1475.1 L674.5,1475.1 L675.5,1475.1 L676.5,1475.1 L677.5,1475.1 L678.5,1475.1 L679.5,1475.1 L680.5,1475.1 L681.5,1475.1 L682.5,1475.1 L683.5,1475.1 L684.5,1475.1 L685.5,1475.1 L686.5,1475.1 L687.5,1475.1 L688.5,1475.1 L689.5,1475.1 L690.5,1475.1 L691.5,1475.1 L692.5,1475.1 L693.5,1475.1 L694.5,1475.1 L695.5,1475.1 L696.5,1475.1 L697.5,1475.1 L698.5,1475.1 L699.5,1475.1 L700.5,1475.1 L701.5,1475.1 L702.5,1475.1 L703.5,1475.1 L704.5,1475.1 L705.5,1475.1 L706.5,1475.1 L707.5,1475.1 L708.5,1475.1 L709.5,1475.1 L710.5,1475.1 L711.5,1475.1 L712.5,1475.1 L713.5,1475.1 L714.5,1475.1 L715.5,1475.1 L716.5,1475.1 L717.5,1475.1 L718.5,1475.1 L719.5,1475.1 L720.5,1475.1 L721.5,1475.1 L722.5,1475.1 L723.5,1475.1 L724.5,1475.1 L725.5,1475.1 L726.5,1475.1 L727.5,1475.1 L728.5,1475.1 L729.5,1475.1 L730.5,1475.1 L731.5,1475.1 L732.5,1475.1 L733.5,1475.1 L734.5,1475.1 L735.5,1475.1 L736.5,1475.1 L737.5,1475.1 L738.5,1475.1 L739.5,1475.1 L740.5,1475.1 L741.5,1475.1 L742.5,1475.1 L743.5,1475.1 L744.5,1475.1 L745.5,1475.1 L746.5,1475.1 L747.5,1475.1 L748.5,1475.1 L749.5,1475.1 L750.5,1475.1 L751.5,1475.1 L752.5,1475.1 L753.5,1475.1 L754.5,1475.1 L755.5,1475.1 L756.5,1475.1 L757.5,1475.1 L758.5,1475.1 L759.5,1475.1 L760.5,1475.1 L761.5,1475.1 L762.5,1475.1 L763.5,1475.1 L764.5,1475.1 L765.5,1475.1 L766.5,1475.1 L767.5,1475.1 L768.5,1475.1 L769.5,1475.1 L770.5,1475.1 L771.5,1475.1 L772.5,1475.1 L773.5,1475.1 L774.5,1475.1 L775.5,1475.1 L776.5,1475.1 L777.5,1475.1 L778.5,1475.1 L779.5,1475.1 L780.5,1475.1 L781.5,1475.1 L782.5,1475.1 L783.5,1475.1 L784.5,1475.1 L785.5,1475.1 L786.5,1475.1 L787.5,1475.1 L788.5,1475.1 L789.5,1475.1 L790.5,1475.1 L791.5,1475.1 L792.5,1475.1 L793.5,1475.1 L794.5,1475.1 L795.5,1475.1 L796.5,1475.1 L797.5,1475.1 L798.5,1475.2 L799.5,1475.2 L800.5,1475.2 L801.5,1475.2 L802.5,1475.2 L803.5,1475.2 L804.5,1475.2 L805.5,1475.2 L806.5,1475.2 L807.5,1475.2 L808.5,1475.2 L809.5,1475.2 L810.5,1475.2 L811.5,1475.2 L812.5,1475.2 L813.5,1475.2 L814.5,1475.2 L815.5,1475.2 L816.5,1475.2 L817.5,1475.2 L818.5,1475.2 L819.5,1475.2 L820.5,1475.2 L821.5,1475.2 L822.5,1475.2 L823.5,1475.2 L824.5,1475.2 L825.5,1475.2 L826.5,1475.2 L827.5,1475.2 L828.5,1475.2 L829.5,1475.2 L830.5,1475.2 L831.5,1475.2 L832.5,1475.2 L833.5,1475.2 L834.5,1475.2 L835.5,1475.2 L836.5,1475.2 L837.5,1475.2 L838.5,1475.2 L839.5,1475.2 L840.5,1475.2 L841.5,1475.2 L842.5,1475.2 L843.5,1475.2 L844.5,1475.2 L845.5,1475.2 L846.5,1475.2 L847.5,1475.2 L848.5,1475.2 L849.5,1475.2 L850.5,1475.2 L851.5,1475.2 L852.5,1475.2 L853.5,1475.2 L854.5,1475.2 L855.5,1475.2 L856.5,1475.2 L857.5,1475.2 L858.5,1475.2 L859.5,1475.2 L860.5,1475.2 L861.5,1475.2 L862.5,1475.2 L863.5,1475.2" stroke-width="2.8"/>
<path d="M16.5,1475.0 L17.5,1475.0 L18.5,1475.0 L19.5,1475.0 L20.5,1475.0 L21.5,1475.0 L22.5,1475.0 L23.5,1475.0 L24.5,1475.0 L25.5,1475.0 L26.5,1475.0 L27.5,1475.0 L28.5,1475.0 L29.5,1475.0 L30.5,1475.0 L31.5,1475.0 L32.5,1475.0 L33.5,1475.0 L34.5,1475.0 L35.5,1475.0 L36.5,1475.0 L37.5,1475.0 L38.5,1475.0 L39.5,1475.0 L40.5,1475.0 L41.5,1475.0 L42.5,1475.0 L43.5,1475.0 L44.5,1475.0 L45.5,1474.9 L46.5,1474.9 L47.5,1474.9 L48.5,1474.9 L49.5,1474.9 L50.5,1474.9 L51.5,1474.9 L52.5,1474.9 L53.5,1474.9 L54.5,1474.9 L55.5,1474.9 L56.5,1474.9 L57.5,1474.9 L58.5,1474.9 L59.5,1474.9 L60.5,1474.9 L61.5,1474.9 L62.5,1474.9 L63.5,1474.9 L64.5,1474.9 L65.5,1474.9 L66.5,1474.9 L67.5,1474.9 L68.5,1474.9 L69.5,1474.9 L70.5,1474.9 L71.5,1474.9 L72.5,1474.9 L73.5,1474.9 L74.5,1474.9 L75.5,1474.9 L76.5,1474.8 L77.5,1474.8 L78.5,1474.8 L79.5,1474.8 L80.5,1474.8 L81.5,1474.8 L82.5,1474.8 L83.5,1474.8 L84.5,1474.8 L85.5,1474.8 L86.5,1474.8 L87.5,1474.8 L88.5,1474.8 L89.5,1474.8 L90.5,1474.8 L91.5,1474.8 L92.5,1474.8 L93.5,1474.8 L94.5,1474.8 L95.5,1474.8 L96.5,1474.8 L97.5,1474.8 L98.5,1474.7 L99.5,1474.7 L100.5,1474.7 L101.5,1474.7 L102.5,1474.7 L103.5,1474.7 L104.5,1474.7 L105.5,1474.7 L106.5,1474.7 L107.5,1474.7 L108.5,1474.7 L109.5,1474.7 L110.5,1474.7 L111.5,1474.7 L112.5,1474.7 L113.5,1474.7 L114.5,1474.6 L115.5,1474.6 L116.5,1474.6 L117.5,1474.6 L118.5,1474.6 L119.5,1474.6 L120.5,1474.6 L121.5,1474.6 L122.5,1474.6 L123.5,1474.6 L124.5,1474.6 L125.5,1474.6 L126.5,1474.6 L127.5,1474.6 L128.5,1474.5 L129.5,1474.5 L130.5,1474.5 L131.5,1474.5 L132.5,1474.5 L133.5,1474.5 L134.5,1474.5 L135.5,1474.5 L136.5,1474.5 L137.5,1474.5 L138.5,1474.5 L139.5,1474.4 L140.5,1474.4 L141.5,1474.4 L142.5,1474.4 L143.5,1474.4 L144.5,1474.4 L145.5,1474.4 L146.5,1474.4 L147.5,1474.4 L148.5,1474.3 L149.5,1474.3 L150.5,1474.3 L151.5,1474.3 L152.5,1474.3 L153.5,1474.3 L154.5,1474.3 L155.5,1474.2 L156.5,1474.2 L157.5,1474.2 L158.5,1474.2 L159.5,1474.2 L160.5,1474.2 L161.5,1474.2 L162.5,1474.1 L163.5,1474.1 L164.5,1474.1 L165.5,1474.1 L166.5,1474.1 L167.5,1474.1 L168.5,1474.0 L169.5,1474.0 L170.5,1474.0 L171.5,1474.0 L172.5,1474.0 L173.5,1473.9 L174.5,1473.9 L175.5,1473.9 L176.5,1473.9 L177.5,1473.9 L178.5,1473.8 L179.5,1473.8 L180.5,1473.8 L181.5,1473.8 L182.5,1473.7 L183.5,1473.7 L184.5,1473.7 L185.5,1473.7 L186.5,1473.6 L187.5,1473.6 L188.5,1473.6 L189.5,1473.6 L190.5,1473.5 L191.5,1473.5 L192.5,1473.5 L193.5,1473.4 L194.5,1473.4 L195.5,1473.4 L196.5,1473.3 L197.5,1473.3 L198.5,1473.3 L199.5,1473.2 L200.5,1473.2 L201.5,1473.2 L202.5,1473.1 L203.5,1473.1 L204.5,1473.0 L205.5,1473.0 L206.5,1472.9 L207.5,1472.9 L208.5,1472.8 L209.5,1472.8 L210.5,1472.7 L211.5,1472.7 L212.5,1472.6 L213.5,1472.6 L214.5,1472.5 L215.5,1472.5 L216.5,1472.4 L217.5,1472.3 L218.5,1472.3 L219.5,1472.2 L220.5,1472.1 L221.5,1472.1 L222.5,1472.0 L223.5,1471.9 L224.5,1471.8 L225.5,1471.7 L226.5,1471.7 L227.5,1471.6 L228.5,1471.5 L229.5,1471.4 L230.5,1471.3 L231.5,1471.2 L232.5,1471.1 L233.5,1470.9 L234.5,1470.8 L235.5,1470.7 L236.5,1470.5 L237.5,1470.4 L238.5,1470.2 L239.5,1470.1 L240.5,1469.9 L241.5,1469.7 L242.5,1469.5 L243.5,1469.3 L244.5,1469.1 L245.5,1468.9 L246.5,1468.6 L247.5,1468.4 L248.5,1468.1 L249.5,1467.8 L250.5,1467.5 L251.5,1467.1 L252.5,1466.8 L253.5,1466.4 L254.5,1465.9 L255.5,1465.5 L256.5,1465.0 L257.5,1464.5 L258.5,1464.0 L259.5,1463.4 L260.5,1462.8 L261.5,1462.1 L262.5,1461.4 L263.5,1460.6 L264.5,1459.8 L265.5,1459.0 L266.5,1458.1 L267.5,1457.2 L268.5,1456.2 L269.5,1455.1 L270.5,1454.0 L271.5,1452.8 L272.5,1451.6 L273.5,1450.3 L274.5,1449.0 L275.5,1447.6 L276.5,1446.2 L277.5,1444.7 L278.5,1443.1 L279.5,1441.5 L280.5,1439.8 L281.5,1438.1 L282.5,1436.4 L283.5,1434.6 L284.5,1432.8 L285.5,1430.9 L286.5,1429.1 L287.5,1427.2 L288.5,1425.3 L289.5,1423.5 L290.5,1421.6 L291.5,1419.8 L292.5,1418.1 L293.5,1416.4 L294.5,1414.8 L295.5,1413.3 L296.5,1411.9 L297.5,1410.6 L298.5,1409.5 L299.5,1408.6 L300.5,1407.8 L301.5,1407.2 L302.5,1406.9 L303.5,1406.7 L304.5,1406.8 L305.5,1407.0 L306.5,1407.5 L307.5,1408.1 L308.5,1408.9 L309.5,1409.9 L310.5,1411.1 L311.5,1412.4 L312.5,1413.9 L313.5,1415.4 L314.5,1417.1 L315.5,1418.8 L316.5,1420.5 L317.5,1422.4 L318.5,1424.2 L319.5,1426.1 L320.5,1428.0 L321.5,1429.8 L322.5,1431.7 L323.5,1433.5 L324.5,1435.3 L325.5,1437.1 L326.5,1438.8 L327.5,1440.5 L328.5,1442.1 L329.5,1443.7 L330.5,1445.3 L331.5,1446.8 L332.5,1448.2 L333.5,1449.5 L334.5,1450.9 L335.5,1452.1 L336.5,1453.3 L337.5,1454.5 L338.5,1455.5 L339.5,1456.6 L340.5,1457.5 L341.5,1458.5 L342.5,1459.3 L343.5,1460.2 L344.5,1460.9 L345.5,1461.7 L346.5,1462.4 L347.5,1463.0 L348.5,1463.6 L349.5,1464.2 L350.5,1464.7 L351.5,1465.2 L352.5,1465.7 L353.5,1466.1 L354.5,1466.5 L355.5,1466.9 L356.5,1467.3 L357.5,1467.6 L358.5,1467.9 L359.5,1468.2 L360.5,1468.5 L361.5,1468.7 L362.5,1469.0 L363.5,1469.2 L364.5,1469.4 L365.5,1469.6 L366.5,1469.8 L367.5,1470.0 L368.5,1470.1 L369.5,1470.3 L370.5,1470.5 L371.5,1470.6 L372.5,1470.7 L373.5,1470.9 L374.5,1471.0 L375.5,1471.1 L376.5,1471.2 L377.5,1471.3 L378.5,1471.4 L379.5,1471.5 L380.5,1471.6 L381.5,1471.7 L382.5,1471.8 L383.5,1471.9 L384.5,1471.9 L385.5,1472.0 L386.5,1472.1 L387.5,1472.2 L388.5,1472.2 L389.5,1472.3 L390.5,1472.4 L391.5,1472.4 L392.5,1472.5 L393.5,1472.5 L394.5,1472.6 L395.5,1472.7 L396.5,1472.7 L397.5,1472.8 L398.5,1472.8 L399.5,1472.9 L400.5,1472.9 L401.5,1473.0 L402.5,1473.0 L403.5,1473.0 L404.5,1473.1 L405.5,1473.1 L406.5,1473.2 L407.5,1473.2 L408.5,1473.2 L409.5,1473.3 L410.5,1473.3 L411.5,1473.4 L412.5,1473.4 L413.5,1473.4 L414.5,1473.5 L415.5,1473.5 L416.5,1473.5 L417.5,1473.5 L418.5,1473.6 L419.5,1473.6 L420.5,1473.6 L421.5,1473.7 L422.5,1473.7 L423.5,1473.7 L424.5,1473.7 L425.5,1473.8 L426.5,1473.8 L427.5,1473.8 L428.5,1473.8 L429.5,1473.9 L430.5,1473.9 L431.5,1473.9 L432.5,1473.9 L433.5,1473.9 L434.5,1474.0 L435.5,1474.0 L436.5,1474.0 L437.5,1474.0 L438.5,1474.0 L439.5,1474.1 L440.5,1474.1 L441.5,1474.1 L442.5,1474.1 L443.5,1474.1 L444.5,1474.1 L445.5,1474.2 L446.5,1474.2 L447.5,1474.2 L448.5,1474.2 L449.5,1474.2 L450.5,1474.2 L451.5,1474.2 L452.5,1474.3 L453.5,1474.3 L454.5,1474.3 L455.5,1474.3 L456.5,1474.3 L457.5,1474.3 L458.5,1474.3 L459.5,1474.3 L460.5,1474.4 L461.5,1474.4 L462.5,1474.4 L463.5,1474.4 L464.5,1474.4 L465.5,1474.4 L466.5,1474.4 L467.5,1474.4 L468.5,1474.4 L469.5,1474.5 L470.5,1474.5 L471.5,1474.5 L472.5,1474.5 L473.5,1474.5 L474.5,1474.5 L475.5,1474.5 L476.5,1474.5 L477.5,1474.5 L478.5,1474.5 L479.5,1474.5 L480.5,1474.6 L481.5,1474.6 L482.5,1474.6 L483.5,1474.6 L484.5,1474.6 L485.5,1474.6 L486.5,1474.6 L487.5,1474.6 L488.5,1474.6 L489.5,1474.6 L490.5,1474.6 L491.5,1474.6 L492.5,1474.6 L493.5,1474.7 L494.5,1474.7 L495.5,1474.7 L496.5,1474.7 L497.5,1474.7 L498.5,1474.7 L499.5,1474.7 L500.5,1474.7 L501.5,1474.7 L502.5,1474.7 L503.5,1474.7 L504.5,1474.7 L505.5,1474.7 L506.5,1474.7 L507.5,1474.7 L508.5,1474.7 L509.5,1474.7 L510.5,1474.8 L511.5,1474.8 L512.5,1474.8 L513.5,1474.8 L514.5,1474.8 L515.5,1474.8 L516.5,1474.8 L517.5,1474.8 L518.5,1474.8 L519.5,1474.8 L520.5,1474.8 L521.5,1474.8 L522.5,1474.8 L523.5,1474.8 L524.5,1474.8 L525.5,1474.8 L526.5,1474.8 L527.5,1474.8 L528.5,1474.8 L529.5,1474.8 L530.5,1474.8 L531.5,1474.8 L532.5,1474.9 L533.5,1474.9 L534.5,1474.9 L535.5,1474.9 L536.5,1474.9 L537.5,1474.9 L538.5,1474.9 L539.5,1474.9 L540.5,1474.9 L541.5,1474.9 L542.5,1474.9 L543.5,1474.9 L544.5,1474.9 L545.5,1474.9 L546.5,1474.9 L547.5,1474.9 L548.5,1474.9 L549.5,1474.9 L550.5,1474.9 L551.5,1474.9 L552.5,1474.9 L553.5,1474.9 L554.5,1474.9 L555.5,1474.9 L556.5,1474.9 L557.5,1474.9 L558.5,1474.9 L559.5,1474.9 L560.5,1474.9 L561.5,1474.9 L562.5,1474.9 L563.5,1475.0 L564.5,1475.0 L565.5,1475.0 L566.5,1475.0 L567.5,1475.0 L568.5,1475.0 L569.5,1475.0 L570.5,1475.0 L571.5,1475.0 L572.5,1475.0 L573.5,1475.0 L574.5,1475.0 L575.5,1475.0 L576.5,1475.0 L577.5,1475.0 L578.5,1475.0 L579.5,1475.0 L580.5,1475.0 L581.5,1475.0 L582.5,1475.0 L583.5,1475.0 L584.5,1475.0 L585.5,1475.0 L586.5,1475.0 L587.5,1475.0 L588.5,1475.0 L589.5,1475.0 L590.5,1475.0 L591.5,1475.0 L592.5,1475.0 L593.5,1475.0 L594.5,1475.0 L595.5,1475.0 L596.5,1475.0 L597.5,1475.0 L598.5,1475.0 L599.5,1475.0 L600.5,1475.0 L601.5,1475.0 L602.5,1475.0 L603.5,1475.0 L604.5,1475.0 L605.5,1475.0 L606.5,1475.0 L607.5,1475.0 L608.5,1475.0 L609.5,1475.0 L610.5,1475.0 L611.5,1475.1 L612.5,1475.1 L613.5,1475.1 L614.5,1475.1 L615.5,1475.1 L616.5,1475.1 L617.5,1475.1 L618.5,1475.1 L619.5,1475.1 L620.5,1475.1 L621.5,1475.1 L622.5,1475.1 L623.5,1475.1 L624.5,1475.1 L625.5,1475.1 L626.5,1475.1 L627.5,1475.1 L628.5,1475.1 L629.5,1475.1 L630.5,1475.1 L631.5,1475.1 L632.5,1475.1 L633.5,1475.1 L634.5,1475.1 L635.5,1475.1 L636.5,1475.1 L637.5,1475.1 L638.5,1475.1 L639.5,1475.1 L640.5,1475.1 L641.5,1475.1 L642.5,1475.1 L643.5,1475.1 L644.5,1475.1 L645.5,1475.1 L646.5,1475.1 L647.5,1475.1 L648.5,1475.1 L649.5,1475.1 L650.5,1475.1 L651.5,1475.1 L652.5,1475.1 L653.5,1475.1 L654.5,1475.1 L655.5,1475.1 L656.5,1475.1 L657.5,1475.1 L658.5,1475.1 L659.5,1475.1 L660.5,1475.1 L661.5,1475.1 L662.5,1475.1 L663.5,1475.1 L664.5,1475.1 L665.5,1475.1 L666.5,1475.1 L667.5,1475.1 L668.5,1475.1 L669.5,1475.1 L670.5,1475.1 L671.5,1475.1 L672.5,1475.1 L673.5,1475.1 L674.5,1475.1 L675.5,1475.1 L676.5,1475.1 L677.5,1475.1 L678.5,1475.1 L679.5,1475.1 L680.5,1475.1 L681.5,1475.1 L682.5,1475.1 L683.5,1475.1 L684.5,1475.1 L685.5,1475.1 L686.5,1475.1 L687.5,1475.1 L688.5,1475.1 L689.5,1475.1 L690.5,1475.1 L691.5,1475.1 L692.5,1475.1 L693.5,1475.1 L694.5,1475.1 L695.5,1475.1 L696.5,1475.1 L697.5,1475.1 L698.5,1475.1 L699.5,1475.1 L700.5,1475.1 L701.5,1475.2 L702.5,1475.2 L703.5,1475.2 L704.5,1475.2 L705.5,1475.2 L706.5,1475.2 L707.5,1475.2 L708.5,1475.2 L709.5,1475.2 L710.5,1475.2 L711.5,1475.2 L712.5,1475.2 L713.5,1475.2 L714.5,1475.2 L715.5,1475.2 L716.5,1475.2 L717.5,1475.2 L718.5,1475.2 L719.5,1475.2 L720.5,1475.2 L721.5,1475.2 L722.5,1475.2 L723.5,1475.2 L724.5,1475.2 L725.5,1475.2 L726.5,1475.2 L727.5,1475.2 L728.5,1475.2 L729.5,1475.2 L730.5,1475.2 L731.5,1475.2 L732.5,1475.2 L733.5,1475.2 L734.5,1475.2 L735.5,1475.2 L736.5,1475.2 L737.5,1475.2 L738.5,1475.2 L739.5,1475.2 L740.5,1475.2 L741.5,1475.2 L742.5,1475.2 L743.5,1475.2 L744.5,1475.2 L745.5,1475.2 L746.5,1475.2 L747.5,1475.2 L748.5,1475.2" stroke-width="2.8"/>
<path d="M16.5,1474.9 L17.5,1474.9 L18.5,1474.9 L19.5,1474.9 L20.5,1474.9 L21.5,1474.9 L22.5,1474.9 L23.5,1474.9 L24.5,1474.9 L25.5,1474.9 L26.5,1474.9 L27.5,1474.9 L28.5,1474.8 L29.5,1474.8 L30.5,1474.8 L31.5,1474.8 L32.5,1474.8 L33.5,1474.8 L34.5,1474.8 L35.5,1474.8 L36.5,1474.8 L37.5,1474.8 L38.5,1474.8 L39.5,1474.8 L40.5,1474.8 L41.5,1474.8 L42.5,1474.8 L43.5,1474.8 L44.5,1474.8 L45.5,1474.8 L46.5,1474.8 L47.5,1474.8 L48.5,1474.8 L49.5,1474.8 L50.5,1474.8 L51.5,1474.8 L52.5,1474.8 L53.5,1474.8 L54.5,1474.8 L55.5,1474.8 L56.5,1474.8 L57.5,1474.7 L58.5,1474.7 L59.5,1474.7 L60.5,1474.7 L61.5,1474.7 L62.5,1474.7 L63.5,1474.7 L64.5,1474.7 L65.5,1474.7 L66.5,1474.7 L67.5,1474.7 L68.5,1474.7 L69.5,1474.7 L70.5,1474.7 L71.5,1474.7 L72.5,1474.7 L73.5,1474.7 L74.5,1474.7 L75.5,1474.7 L76.5,1474.7 L77.5,1474.7 L78.5,1474.7 L79.5,1474.7 L80.5,1474.6 L81.5,1474.6 L82.5,1474.6 L83.5,1474.6 L84.5,1474.6 L85.5,1474.6 L86.5,1474.6 L87.5,1474.6 L88.5,1474.6 L89.5,1474.6 L90.5,1474.6 L91.5,1474.6 L92.5,1474.6 L93.5,1474.6 L94.5,1474.6 L95.5,1474.6 L96.5,1474.6 L97.5,1474.5 L98.5,1474.5 L99.5,1474.5 L100.5,1474.5 L101.5,1474.5 L102.5,1474.5 L103.5,1474.5 L104.5,1474.5 L105.5,1474.5 L106.5,1474.5 L107.5,1474.5 L108.5,1474.5 L109.5,1474.5 L110.5,1474.5 L111.5,1474.5 L112.5,1474.4 L113.5,1474.4 L114.5,1474.4 L115.5,1474.4 L116.5,1474.4 L117.5,1474.4 L118.5,1474.4 L119.5,1474.4 L120.5,1474.4 L121.5,1474.4 L122.5,1474.4 L123.5,1474.4 L124.5,1474.3 L125.5,1474.3 L126.5,1474.3 L127.5,1474.3 L128.5,1474.3 L129.5,1474.3 L130.5,1474.3 L131.5,1474.3 L132.5,1474.3 L133.5,1474.3 L134.5,1474.2 L135.5,1474.2 L136.5,1474.2 L137.5,1474.2 L138.5,1474.2 L139.5,1474.2 L140.5,1474.2 L141.5,1474.2 L142.5,1474.2 L143.5,1474.1 L144.5,1474.1 L145.5,1474.1 L146.5,1474.1 L147.5,1474.1 L148.5,1474.1 L149.5,1474.1 L150.5,1474.1 L151.5,1474.0 L152.5,1474.0 L153.5,1474.0 L154.5,1474.0 L155.5,1474.0 L156.5,1474.0 L157.5,1474.0 L158.5,1473.9 L159.5,1473.9 L160.5,1473.9 L161.5,1473.9 L162.5,1473.9 L163.5,1473.9 L164.5,1473.8 L165.5,1473.8 L166.5,1473.8 L167.5,1473.8 L168.5,1473.8 L169.5,1473.8 L170.5,1473.7 L171.5,1473.7 L172.5,1473.7 L173.5,1473.7 L174.5,1473.7 L175.5,1473.6 L176.5,1473.6 L177.5,1473.6 L178.5,1473.6 L179.5,1473.6 L180.5,1473.5 L181.5,1473.5 L182.5,1473.5 L183.5,1473.5 L184.5,1473.4 L185.5,1473.4 L186.5,1473.4 L187.5,1473.4 L188.5,1473.3 L189.5,1473.3 L190.5,1473.3 L191.5,1473.3 L192.5,1473.2 L193.5,1473.2 L194.5,1473.2 L195.5,1473.2 L196.5,1473.1 L197.5,1473.1 L198.5,1473.1 L199.5,1473.0 L200.5,1473.0 L201.5,1473.0 L202.5,1472.9 L203.5,1472.9 L204.5,1472.9 L205.5,1472.8 L206.5,1472.8 L207.5,1472.7 L208.5,1472.7 L209.5,1472.7 L210.5,1472.6 L211.5,1472.6 L212.5,1472.5 L213.5,1472.5 L214.5,1472.4 L215.5,1472.4 L216.5,1472.3 L217.5,1472.3 L218.5,1472.3 L219.5,1472.2 L220.5,1472.1 L221.5,1472.1 L222.5,1472.0 L223.5,1472.0 L224.5,1471.9 L225.5,1471.9 L226.5,1471.8 L227.5,1471.7 L228.5,1471.7 L229.5,1471.6 L230.5,1471.5 L231.5,1471.5 L232.5,1471.4 L233.5,1471.3 L234.5,1471.2 L235.5,1471.1 L236.5,1471.1 L237.5,1471.0 L238.5,1470.9 L239.5,1470.8 L240.5,1470.7 L241.5,1470.6 L242.5,1470.5 L243.5,1470.3 L244.5,1470.2 L245.5,1470.1 L246.5,1470.0 L247.5,1469.8 L248.5,1469.7 L249.5,1469.5 L250.5,1469.4 L251.5,1469.2 L252.5,1469.0 L253.5,1468.8 L254.5,1468.6 L255.5,1468.4 L256.5,1468.2 L257.5,1468.0 L258.5,1467.7 L259.5,1467.5 L260.5,1467.2 L261.5,1466.9 L262.5,1466.6 L263.5,1466.3 L264.5,1466.0 L265.5,1465.6 L266.5,1465.2 L267.5,1464.8 L268.5,1464.4 L269.5,1463.9 L270.5,1463.5 L271.5,1463.0 L272.5,1462.4 L273.5,1461.9 L274.5,1461.3 L275.5,1460.6 L276.5,1460.0 L277.5,1459.3 L278.5,1458.6 L279.5,1457.8 L280.5,1457.0 L281.5,1456.2 L282.5,1455.3 L283.5,1454.4 L284.5,1453.4 L285.5,1452.4 L286.5,1451.3 L287.5,1450.2 L288.5,1449.1 L289.5,1447.9 L290.5,1446.7 L291.5,1445.4 L292.5,1444.1 L293.5,1442.7 L294.5,1441.3 L295.5,1439.9 L296.5,1438.4 L297.5,1436.8 L298.5,1435.3 L299.5,1433.6 L300.5,1432.0 L301.5,1430.3 L302.5,1428.6 L303.5,1426.8 L304.5,1425.0 L305.5,1423.2 L306.5,1421.4 L307.5,1419.6 L308.5,1417.7 L309.5,1415.9 L310.5,1414.0 L311.5,1412.1 L312.5,1410.3 L313.5,1408.5 L314.5,1406.7 L315.5,1404.9 L316.5,1403.2 L317.5,1401.5 L318.5,1399.9 L319.5,1398.3 L320.5,1396.8 L321.5,1395.4 L322.5,1394.1 L323.5,1392.9 L324.5,1391.8 L325.5,1390.9 L326.5,1390.0 L327.5,1389.3 L328.5,1388.8 L329.5,1388.4 L330.5,1388.1 L331.5,1388.0 L332.5,1388.0 L333.5,1388.2 L334.5,1388.6 L335.5,1389.1 L336.5,1389.7 L337.5,1390.5 L338.5,1391.4 L339.5,1392.5 L340.5,1393.6 L341.5,1394.9 L342.5,1396.2 L343.5,1397.7 L344.5,1399.2 L345.5,1400.8 L346.5,1402.5 L347.5,1404.2 L348.5,1405.9 L349.5,1407.7 L350.5,1409.6 L351.5,1411.4 L352.5,1413.3 L353.5,1415.1 L354.5,1417.0 L355.5,1418.8 L356.5,1420.7 L357.5,1422.5 L358.5,1424.3 L359.5,1426.1 L360.5,1427.9 L361.5,1429.6 L362.5,1431.3 L363.5,1433.0 L364.5,1434.6 L365.5,1436.2 L366.5,1437.8 L367.5,1439.3 L368.5,1440.7 L369.5,1442.2 L370.5,1443.6 L371.5,1444.9 L372.5,1446.2 L373.5,1447.4 L374.5,1448.6 L375.5,1449.8 L376.5,1450.9 L377.5,1452.0 L378.5,1453.0 L379.5,1454.0 L380.5,1454.9 L381.5,1455.8 L382.5,1456.7 L383.5,1457.5 L384.5,1458.3 L385.5,1459.0 L386.5,1459.7 L387.5,1460.4 L388.5,1461.0 L389.5,1461.6 L390.5,1462.2 L391.5,1462.7 L392.5,1463.3 L393.5,1463.7 L394.5,1464.2 L395.5,1464.6 L396.5,1465.1 L397.5,1465.4 L398.5,1465.8 L399.5,1466.2 L400.5,1466.5 L401.5,1466.8 L402.5,1467.1 L403.5,1467.4 L404.5,1467.6 L405.5,1467.9 L406.5,1468.1 L407.5,1468.4 L408.5,1468.6 L409.5,1468.8 L410.5,1469.0 L411.5,1469.1 L412.5,1469.3 L413.5,1469.5 L414.5,1469.6 L415.5,1469.8 L416.5,1469.9 L417.5,1470.0 L418.5,1470.2 L419.5,1470.3 L420.5,1470.4 L421.5,1470.5 L422.5,1470.6 L423.5,1470.7 L424.5,1470.8 L425.5,1470.9 L426.5,1471.0 L427.5,1471.1 L428.5,1471.2 L429.5,1471.3 L430.5,1471.3 L431.5,1471.4 L432.5,1471.5 L433.5,1471.6 L434.5,1471.6 L435.5,1471.7 L436.5,1471.8 L437.5,1471.8 L438.5,1471.9 L439.5,1472.0 L440.5,1472.0 L441.5,1472.1 L442.5,1472.1 L443.5,1472.2 L444.5,1472.2 L445.5,1472.3 L446.5,1472.3 L447.5,1472.4 L448.5,1472.4 L449.5,1472.5 L450.5,1472.5 L451.5,1472.6 L452.5,1472.6 L453.5,1472.6 L454.5,1472.7 L455.5,1472.7 L456.5,1472.8 L457.5,1472.8 L458.5,1472.8 L459.5,1472.9 L460.5,1472.9 L461.5,1472.9 L462.5,1473.0 L463.5,1473.0 L464.5,1473.0 L465.5,1473.1 L466.5,1473.1 L467.5,1473.1 L468.5,1473.2 L469.5,1473.2 L470.5,1473.2 L471.5,1473.3 L472.5,1473.3 L473.5,1473.3 L474.5,1473.3 L475.5,1473.4 L476.5,1473.4 L477.5,1473.4 L478.5,1473.4 L479.5,1473.5 L480.5,1473.5 L481.5,1473.5 L482.5,1473.5 L483.5,1473.6 L484.5,1473.6 L485.5,1473.6 L486.5,1473.6 L487.5,1473.6 L488.5,1473.7 L489.5,1473.7 L490.5,1473.7 L491.5,1473.7 L492.5,1473.7 L493.5,1473.8 L494.5,1473.8 L495.5,1473.8 L496.5,1473.8 L497.5,1473.8 L498.5,1473.8 L499.5,1473.9 L500.5,1473.9 L501.5,1473.9 L502.5,1473.9 L503.5,1473.9 L504.5,1473.9 L505.5,1474.0 L506.5,1474.0 L507.5,1474.0 L508.5,1474.0 L509.5,1474.0 L510.5,1474.0 L511.5,1474.0 L512.5,1474.1 L513.5,1474.1 L514.5,1474.1 L515.5,1474.1 L516.5,1474.1 L517.5,1474.1 L518.5,1474.1 L519.5,1474.1 L520.5,1474.2 L521.5,1474.2 L522.5,1474.2 L523.5,1474.2 L524.5,1474.2 L525.5,1474.2 L526.5,1474.2 L527.5,1474.2 L528.5,1474.2 L529.5,1474.3 L530.5,1474.3 L531.5,1474.3 L532.5,1474.3 L533.5,1474.3 L534.5,1474.3 L535.5,1474.3 L536.5,1474.3 L537.5,1474.3 L538.5,1474.3 L539.5,1474.3 L540.5,1474.4 L541.5,1474.4 L542.5,1474.4 L543.5,1474.4 L544.5,1474.4 L545.5,1474.4 L546.5,1474.4 L547.5,1474.4 L548.5,1474.4 L549.5,1474.4 L550.5,1474.4 L551.5,1474.4 L552.5,1474.5 L553.5,1474.5 L554.5,1474.5 L555.5,1474.5 L556.5,1474.5 L557.5,1474.5 L558.5,1474.5 L559.5,1474.5 L560.5,1474.5 L561.5,1474.5 L562.5,1474.5 L563.5,1474.5 L564.5,1474.5 L565.5,1474.5 L566.5,1474.6 L567.5,1474.6 L568.5,1474.6 L569.5,1474.6 L570.5,1474.6 L571.5,1474.6 L572.5,1474.6 L573.5,1474.6 L574.5,1474.6 L575.5,1474.6 L576.5,1474.6 L577.5,1474.6 L578.5,1474.6 L579.5,1474.6 L580.5,1474.6 L581.5,1474.6 L582.5,1474.6 L583.5,1474.6 L584.5,1474.7 L585.5,1474.7 L586.5,1474.7 L587.5,1474.7 L588.5,1474.7 L589.5,1474.7 L590.5,1474.7 L591.5,1474.7 L592.5,1474.7 L593.5,1474.7 L594.5,1474.7 L595.5,1474.7 L596.5,1474.7 L597.5,1474.7 L598.5,1474.7 L599.5,1474.7 L600.5,1474.7 L601.5,1474.7 L602.5,1474.7 L603.5,1474.7 L604.5,1474.7 L605.5,1474.7 L606.5,1474.8 L607.5,1474.8 L608.5,1474.8 L609.5,1474.8 L610.5,1474.8 L611.5,1474.8 L612.5,1474.8 L613.5,1474.8 L614.5,1474.8 L615.5,1474.8 L616.5,1474.8 L617.5,1474.8 L618.5,1474.8 L619.5,1474.8 L620.5,1474.8 L621.5,1474.8 L622.5,1474.8 L623.5,1474.8 L624.5,1474.8 L625.5,1474.8 L626.5,1474.8 L627.5,1474.8 L628.5,1474.8 L629.5,1474.8 L630.5,1474.8 L631.5,1474.8 L632.5,1474.8 L633.5,1474.8 L634.5,1474.8 L635.5,1474.9 L636.5,1474.9 L637.5,1474.9 L638.5,1474.9 L639.5,1474.9 L640.5,1474.9 L641.5,1474.9 L642.5,1474.9 L643.5,1474.9 L644.5,1474.9 L645.5,1474.9 L646.5,1474.9 L647.5,1474.9 L648.5,1474.9 L649.5,1474.9 L650.5,1474.9 L651.5,1474.9 L652.5,1474.9 L653.5,1474.9 L654.5,1474.9 L655.5,1474.9 L656.5,1474.9 L657.5,1474.9 L658.5,1474.9 L659.5,1474.9 L660.5,1474.9 L661.5,1474.9 L662.5,1474.9 L663.5,1474.9 L664.5,1474.9 L665.5,1474.9 L666.5,1474.9 L667.5,1474.9 L668.5,1474.9 L669.5,1474.9 L670.5,1474.9 L671.5,1474.9 L672.5,1474.9 L673.5,1474.9 L674.5,1474.9 L675.5,1474.9 L676.5,1474.9 L677.5,1475.0 L678.5,1475.0 L679.5,1475.0 L680.5,1475.0 L681.5,1475.0 L682.5,1475.0 L683.5,1475.0 L684.5,1475.0 L685.5,1475.0 L686.5,1475.0 L687.5,1475.0 L688.5,1475.0 L689.5,1475.0 L690.5,1475.0 L691.5,1475.0 L692.5,1475.0 L693.5,1475.0 L694.5,1475.0 L695.5,1475.0 L696.5,1475.0 L697.5,1475.0 L698.5,1475.0 L699.5,1475.0 L700.5,1475.0 L701.5,1475.0 L702.5,1475.0 L703.5,1475.0 L704.5,1475.0 L705.5,1475.0 L706.5,1475.0 L707.5,1475.0 L708.5,1475.0 L709.5,1475.0 L710.5,1475.0 L711.5,1475.0 L712.5,1475.0 L713.5,1475.0 L714.5,1475.0 L715.5,1475.0 L716.5,1475.0 L717.5,1475.0 L718.5,1475.0 L719.5,1475.0 L720.5,1475.0 L721.5,1475.0 L722.5,1475.0 L723.5,1475.0 L724.5,1475.0 L725.5,1475.0 L726.5,1475.0 L727.5,1475.0 L728.5,1475.0 L729.5,1475.0 L730.5,1475.0 L731.5,1475.0 L732.5,1475.0 L733.5,1475.0 L734.5,1475.0 L735.5,1475.0 L736.5,1475.0 L737.5,1475.0 L738.5,1475.0 L739.5,1475.0 L740.5,1475.1 L741.5,1475.1 L742.5,1475.1 L743.5,1475.1 L744.5,1475.1 L745.5,1475.1 L746.5,1475.1 L747.5,1475.1 L748.5,1475.1 L749.5,1475.1 L750.5,1475.1 L751.5,1475.1 L752.5,1475.1 L753.5,1475.1 L754.5,1475.1 L755.5,1475.1 L756.5,1475.1 L757.5,1475.1 L758.5,1475.1 L759.5,1475.1 L760.5,1475.1 L761.5,1475.1 L762.5,1475.1 L763.5,1475.1 L764.5,1475.1 L765.5,1475.1 L766.5,1475.1 L767.5,1475.1 L768.5,1475.1 L769.5,1475.1 L770.5,1475.1 L771.5,1475.1 L772.5,1475.1 L773.5,1475.1 L774.5,1475.1 L775.5,1475.1 L776.5,1475.1 L777.5,1475.1 L778.5,1475.1 L779.5,1475.1 L780.5,1475.1 L781.5,1475.1 L782.5,1475.1 L783.5,1475.1 L784.5,1475.1 L785.5,1475.1 L786.5,1475.1 L787.5,1475.1 L788.5,1475.1 L789.5,1475.1 L790.5,1475.1 L791.5,1475.1 L792.5,1475.1 L793.5,1475.1 L794.5,1475.1 L795.5,1475.1 L796.5,1475.1 L797.5,1475.1 L798.5,1475.1 L799.5,1475.1 L800.5,1475.1 L801.5,1475.1 L802.5,1475.1 L803.5,1475.1 L804.5,1475.1 L805.5,1475.1 L806.5,1475.1 L807.5,1475.1 L808.5,1475.1 L809.5,1475.1 L810.5,1475.1 L811.5,1475.1 L812.5,1475.1 L813.5,1475.1 L814.5,1475.1 L815.5,1475.1 L816.5,1475.1 L817.5,1475.1 L818.5,1475.1 L819.5,1475.1 L820.5,1475.1 L821.5,1475.1 L822.5,1475.1 L823.5,1475.1 L824.5,1475.1 L825.5,1475.1 L826.5,1475.1 L827.5,1475.1 L828.5,1475.1 L829.5,1475.1 L830.5,1475.1 L831.5,1475.1 L832.5,1475.1 L833.5,1475.1 L834.5,1475.1 L835.5,1475.1 L836.5,1475.1 L837.5,1475.1 L838.5,1475.1 L839.5,1475.1 L840.5,1475.1 L841.5,1475.1 L842.5,1475.1 L843.5,1475.1 L844.5,1475.1 L845.5,1475.1 L846.5,1475.1 L847.5,1475.1 L848.5,1475.1 L849.5,1475.1 L850.5,1475.1 L851.5,1475.1 L852.5,1475.1 L853.5,1475.1 L854.5,1475.1 L855.5,1475.1 L856.5,1475.1 L857.5,1475.1 L858.5,1475.1 L859.5,1475.1 L860.5,1475.2 L861.5,1475.2 L862.5,1475.2 L863.5,1475.2 L864.5,1475.2 L865.5,1475.2 L866.5,1475.2 L867.5,1475.2 L868.5,1475.2 L869.5,1475.2 L870.5,1475.2 L871.5,1475.2 L872.5,1475.2 L873.5,1475.2 L874.5,1475.2 L875.5,1475.2 L876.5,1475.2 L877.5,1475.2 L878.5,1475.2 L879.5,1475.2 L880.5,1475.2 L881.5,1475.2 L882.5,1475.2 L883.5,1475.2 L884.5,1475.2 L885.5,1475.2 L886.5,1475.2 L887.5,1475.2 L888.5,1475.2 L889.5,1475.2 L890.5,1475.2 L891.5,1475.2 L892.5,1475.2 L893.5,1475.2 L894.5,1475.2 L895.5,1475.2 L896.5,1475.2 L897.5,1475.2 L898.5,1475.2 L899.5,1475.2 L900.5,1475.2 L901.5,1475.2 L902.5,1475.2 L903.5,1475.2 L904.5,1475.2 L905.5,1475.2 L906.5,1475.2 L907.5,1475.2 L908.5,1475.2 L909.5,1475.2 L910.5,1475.2 L911.5,1475.2 L912.5,1475.2 L913.5,1475.2 L914.5,1475.2 L915.5,1475.2 L916.5,1475.2 L917.5,1475.2 L918.5,1475.2 L919.5,1475.2 L920.5,1475.2 L921.5,1475.2 L922.5,1475.2" stroke-width="2.8"/>
<path d="M293.5,1475.2 L294.5,1475.2 L295.5,1475.2 L296.5,1475.2 L297.5,1475.2 L298.5,1475.2 L299.5,1475.2 L300.5,1475.2 L301.5,1475.2 L302.5,1475.2 L303.5,1475.2 L304.5,1475.2 L305.5,1475.2 L306.5,1475.2 L307.5,1475.2 L308.5,1475.2 L309.5,1475.2 L310.5,1475.2 L311.5,1475.2 L312.5,1475.2 L313.5,1475.2 L314.5,1475.2 L315.5,1475.2 L316.5,1475.2 L317.5,1475.2 L318.5,1475.2 L319.5,1475.2 L320.5,1475.2 L321.5,1475.2 L322.5,1475.1 L323.5,1475.1 L324.5,1475.1 L325.5,1475.1 L326.5,1475.1 L327.5,1475.1 L328.5,1475.1 L329.5,1475.1 L330.5,1475.1 L331.5,1475.1 L332.5,1475.1 L333.5,1475.1 L334.5,1475.1 L335.5,1475.1 L336.5,1475.1 L337.5,1475.1 L338.5,1475.1 L339.5,1475.1 L340.5,1475.1 L341.5,1475.1 L342.5,1475.1 L343.5,1475.1 L344.5,1475.1 L345.5,1475.1 L346.5,1475.1 L347.5,1475.1 L348.5,1475.1 L349.5,1475.1 L350.5,1475.1 L351.5,1475.1 L352.5,1475.1 L353.5,1475.1 L354.5,1475.1 L355.5,1475.1 L356.5,1475.1 L357.5,1475.1 L358.5,1475.1 L359.5,1475.1 L360.5,1475.1 L361.5,1475.1 L362.5,1475.1 L363.5,1475.1 L364.5,1475.1 L365.5,1475.1 L366.5,1475.1 L367.5,1475.1 L368.5,1475.1 L369.5,1475.1 L370.5,1475.1 L371.5,1475.1 L372.5,1475.1 L373.5,1475.1 L374.5,1475.1 L375.5,1475.1 L376.5,1475.0 L377.5,1475.0 L378.5,1475.0 L379.5,1475.0 L380.5,1475.0 L381.5,1475.0 L382.5,1475.0 L383.5,1475.0 L384.5,1475.0 L385.5,1475.0 L386.5,1475.0 L387.5,1475.0 L388.5,1475.0 L389.5,1475.0 L390.5,1475.0 L391.5,1475.0 L392.5,1475.0 L393.5,1475.0 L394.5,1475.0 L395.5,1475.0 L396.5,1475.0 L397.5,1475.0 L398.5,1475.0 L399.5,1475.0 L400.5,1475.0 L401.5,1475.0 L402.5,1475.0 L403.5,1475.0 L404.5,1475.0 L405.5,1474.9 L406.5,1474.9 L407.5,1474.9 L408.5,1474.9 L409.5,1474.9 L410.5,1474.9 L411.5,1474.9 L412.5,1474.9 L413.5,1474.9 L414.5,1474.9 L415.5,1474.9 L416.5,1474.9 L417.5,1474.9 L418.5,1474.9 L419.5,1474.9 L420.5,1474.9 L421.5,1474.9 L422.5,1474.9 L423.5,1474.8 L424.5,1474.8 L425.5,1474.8 L426.5,1474.8 L427.5,1474.8 L428.5,1474.8 L429.5,1474.8 L430.5,1474.8 L431.5,1474.8 L432.5,1474.8 L433.5,1474.8 L434.5,1474.8 L435.5,1474.7 L436.5,1474.7 L437.5,1474.7 L438.5,1474.7 L439.5,1474.7 L440.5,1474.7 L441.5,1474.7 L442.5,1474.7 L443.5,1474.6 L444.5,1474.6 L445.5,1474.6 L446.5,1474.6 L447.5,1474.6 L448.5,1474.6 L449.5,1474.5 L450.5,1474.5 L451.5,1474.5 L452.5,1474.5 L453.5,1474.4 L454.5,1474.4 L455.5,1474.4 L456.5,1474.3 L457.5,1474.3 L458.5,1474.2 L459.5,1474.2 L460.5,1474.1 L461.5,1474.1 L462.5,1474.0 L463.5,1474.0 L464.5,1473.9 L465.5,1473.8 L466.5,1473.7 L467.5,1473.7 L468.5,1473.6 L469.5,1473.5 L470.5,1473.3 L471.5,1473.2 L472.5,1473.1 L473.5,1472.9 L474.5,1472.8 L475.5,1472.6 L476.5,1472.5 L477.5,1472.3 L478.5,1472.1 L479.5,1471.8 L480.5,1471.6 L481.5,1471.3 L482.5,1471.1 L483.5,1470.8 L484.5,1470.5 L485.5,1470.1 L486.5,1469.8 L487.5,1469.4 L488.5,1469.0 L489.5,1468.6 L490.5,1468.1 L491.5,1467.7 L492.5,1467.1 L493.5,1466.6 L494.5,1466.0 L495.5,1465.4 L496.5,1464.8 L497.5,1464.1 L498.5,1463.4 L499.5,1462.7 L500.5,1462.0 L501.5,1461.1 L502.5,1460.3 L503.5,1459.4 L504.5,1458.5 L505.5,1457.6 L506.5,1456.6 L507.5,1455.6 L508.5,1454.5 L509.5,1453.4 L510.5,1452.3 L511.5,1451.1 L512.5,1450.0 L513.5,1448.7 L514.5,1447.5 L515.5,1446.2 L516.5,1444.9 L517.5,1443.5 L518.5,1442.2 L519.5,1440.8 L520.5,1439.4 L521.5,1437.9 L522.5,1436.5 L523.5,1435.1 L524.5,1433.6 L525.5,1432.1 L526.5,1430.7 L527.5,1429.2 L528.5,1427.7 L529.5,1426.3 L530.5,1424.8 L531.5,1423.4 L532.5,1422.0 L533.5,1420.6 L534.5,1419.2 L535.5,1417.9 L536.5,1416.6 L537.5,1415.4 L538.5,1414.2 L539.5,1413.0 L540.5,1411.9 L541.5,1410.9 L542.5,1409.9 L543.5,1409.0 L544.5,1408.1 L545.5,1407.4 L546.5,1406.7 L547.5,1406.0 L548.5,1405.5 L549.5,1405.0 L550.5,1404.6 L551.5,1404.3 L552.5,1404.1 L553.5,1404.0 L554.5,1404.0 L555.5,1404.1 L556.5,1404.2 L557.5,1404.5 L558.5,1404.8 L559.5,1405.2 L560.5,1405.7 L561.5,1406.3 L562.5,1406.9 L563.5,1407.7 L564.5,1408.5 L565.5,1409.3 L566.5,1410.3 L567.5,1411.3 L568.5,1412.4 L569.5,1413.5 L570.5,1414.7 L571.5,1415.9 L572.5,1417.1 L573.5,1418.4 L574.5,1419.8 L575.5,1421.2 L576.5,1422.5 L577.5,1424.0 L578.5,1425.4 L579.5,1426.8 L580.5,1428.3 L581.5,1429.8 L582.5,1431.2 L583.5,1432.7 L584.5,1434.2 L585.5,1435.6 L586.5,1437.1 L587.5,1438.5 L588.5,1439.9 L589.5,1441.3 L590.5,1442.7 L591.5,1444.1 L592.5,1445.4 L593.5,1446.7 L594.5,1448.0 L595.5,1449.2 L596.5,1450.4 L597.5,1451.6 L598.5,1452.8 L599.5,1453.9 L600.5,1455.0 L601.5,1456.0 L602.5,1457.0 L603.5,1458.0 L604.5,1458.9 L605.5,1459.8 L606.5,1460.7 L607.5,1461.5 L608.5,1462.3 L609.5,1463.0 L610.5,1463.7 L611.5,1464.4 L612.5,1465.1 L613.5,1465.7 L614.5,1466.3 L615.5,1466.8 L616.5,1467.4 L617.5,1467.8 L618.5,1468.3 L619.5,1468.8 L620.5,1469.2 L621.5,1469.6 L622.5,1469.9 L623.5,1470.3 L624.5,1470.6 L625.5,1470.9 L626.5,1471.2 L627.5,1471.5 L628.5,1471.7 L629.5,1471.9 L630.5,1472.1 L631.5,1472.3 L632.5,1472.5 L633.5,1472.7 L634.5,1472.9 L635.5,1473.0 L636.5,1473.1 L637.5,1473.3 L638.5,1473.4 L639.5,1473.5 L640.5,1473.6 L641.5,1473.7 L642.5,1473.8 L643.5,1473.9 L644.5,1473.9 L645.5,1474.0 L646.5,1474.1 L647.5,1474.1 L648.5,1474.2 L649.5,1474.2 L650.5,1474.3 L651.5,1474.3 L652.5,1474.3 L653.5,1474.4 L654.5,1474.4 L655.5,1474.4 L656.5,1474.5 L657.5,1474.5 L658.5,1474.5 L659.5,1474.5 L660.5,1474.6 L661.5,1474.6 L662.5,1474.6 L663.5,1474.6 L664.5,1474.6 L665.5,1474.7 L666.5,1474.7 L667.5,1474.7 L668.5,1474.7 L669.5,1474.7 L670.5,1474.7 L671.5,1474.7 L672.5,1474.7 L673.5,1474.8 L674.5,1474.8 L675.5,1474.8 L676.5,1474.8 L677.5,1474.8 L678.5,1474.8 L679.5,1474.8 L680.5,1474.8 L681.5,1474.8 L682.5,1474.8 L683.5,1474.8 L684.5,1474.8 L685.5,1474.8 L686.5,1474.9 L687.5,1474.9 L688.5,1474.9 L689.5,1474.9 L690.5,1474.9 L691.5,1474.9 L692.5,1474.9 L693.5,1474.9 L694.5,1474.9 L695.5,1474.9 L696.5,1474.9 L697.5,1474.9 L698.5,1474.9 L699.5,1474.9 L700.5,1474.9 L701.5,1474.9 L702.5,1474.9 L703.5,1474.9 L704.5,1475.0 L705.5,1475.0 L706.5,1475.0 L707.5,1475.0 L708.5,1475.0 L709.5,1475.0 L710.5,1475.0 L711.5,1475.0 L712.5,1475.0 L713.5,1475.0 L714.5,1475.0 L715.5,1475.0 L716.5,1475.0 L717.5,1475.0 L718.5,1475.0 L719.5,1475.0 L720.5,1475.0 L721.5,1475.0 L722.5,1475.0 L723.5,1475.0 L724.5,1475.0 L725.5,1475.0 L726.5,1475.0 L727.5,1475.0 L728.5,1475.0 L729.5,1475.0 L730.5,1475.0 L731.5,1475.0 L732.5,1475.0 L733.5,1475.1 L734.5,1475.1 L735.5,1475.1 L736.5,1475.1 L737.5,1475.1 L738.5,1475.1 L739.5,1475.1 L740.5,1475.1 L741.5,1475.1 L742.5,1475.1 L743.5,1475.1 L744.5,1475.1 L745.5,1475.1 L746.5,1475.1 L747.5,1475.1 L748.5,1475.1 L749.5,1475.1 L750.5,1475.1 L751.5,1475.1 L752.5,1475.1 L753.5,1475.1 L754.5,1475.1 L755.5,1475.1 L756.5,1475.1 L757.5,1475.1 L758.5,1475.1 L759.5,1475.1 L760.5,1475.1 L761.5,1475.1 L762.5,1475.1 L763.5,1475.1 L764.5,1475.1 L765.5,1475.1 L766.5,1475.1 L767.5,1475.1 L768.5,1475.1 L769.5,1475.1 L770.5,1475.1 L771.5,1475.1 L772.5,1475.1 L773.5,1475.1 L774.5,1475.1 L775.5,1475.1 L776.5,1475.1 L777.5,1475.1 L778.5,1475.1 L779.5,1475.1 L780.5,1475.1 L781.5,1475.1 L782.5,1475.1 L783.5,1475.1 L784.5,1475.1 L785.5,1475.1 L786.5,1475.2 L787.5,1475.2 L788.5,1475.2 L789.5,1475.2 L790.5,1475.2 L791.5,1475.2 L792.5,1475.2 L793.5,1475.2 L794.5,1475.2 L795.5,1475.2 L796.5,1475.2 L797.5,1475.2 L798.5,1475.2 L799.5,1475.2 L800.5,1475.2 L801.5,1475.2 L802.5,1475.2 L803.5,1475.2 L804.5,1475.2 L805.5,1475.2 L806.5,1475.2 L807.5,1475.2 L808.5,1475.2 L809.5,1475.2 L810.5,1475.2 L811.5,1475.2 L812.5,1475.2 L813.5,1475.2 L814.5,1475.2" stroke-width="2.8"/>
<path d="M399.5,1475.2 L400.5,1475.2 L401.5,1475.2 L402.5,1475.2 L403.5,1475.2 L404.5,1475.2 L405.5,1475.2 L406.5,1475.2 L407.5,1475.2 L408.5,1475.2 L409.5,1475.2 L410.5,1475.2 L411.5,1475.2 L412.5,1475.2 L413.5,1475.2 L414.5,1475.2 L415.5,1475.2 L416.5,1475.2 L417.5,1475.2 L418.5,1475.2 L419.5,1475.2 L420.5,1475.2 L421.5,1475.2 L422.5,1475.2 L423.5,1475.2 L424.5,1475.2 L425.5,1475.2 L426.5,1475.1 L427.5,1475.1 L428.5,1475.1 L429.5,1475.1 L430.5,1475.1 L431.5,1475.1 L432.5,1475.1 L433.5,1475.1 L434.5,1475.1 L435.5,1475.1 L436.5,1475.1 L437.5,1475.1 L438.5,1475.1 L439.5,1475.1 L440.5,1475.1 L441.5,1475.1 L442.5,1475.1 L443.5,1475.1 L444.5,1475.1 L445.5,1475.1 L446.5,1475.1 L447.5,1475.1 L448.5,1475.1 L449.5,1475.1 L450.5,1475.1 L451.5,1475.1 L452.5,1475.1 L453.5,1475.1 L454.5,1475.1 L455.5,1475.1 L456.5,1475.1 L457.5,1475.1 L458.5,1475.1 L459.5,1475.1 L460.5,1475.1 L461.5,1475.1 L462.5,1475.1 L463.5,1475.1 L464.5,1475.1 L465.5,1475.1 L466.5,1475.1 L467.5,1475.1 L468.5,1475.1 L469.5,1475.1 L470.5,1475.1 L471.5,1475.1 L472.5,1475.1 L473.5,1475.1 L474.5,1475.1 L475.5,1475.0 L476.5,1475.0 L477.5,1475.0 L478.5,1475.0 L479.5,1475.0 L480.5,1475.0 L481.5,1475.0 L482.5,1475.0 L483.5,1475.0 L484.5,1475.0 L485.5,1475.0 L486.5,1475.0 L487.5,1475.0 L488.5,1475.0 L489.5,1475.0 L490.5,1475.0 L491.5,1475.0 L492.5,1475.0 L493.5,1475.0 L494.5,1475.0 L495.5,1475.0 L496.5,1475.0 L497.5,1475.0 L498.5,1475.0 L499.5,1475.0 L500.5,1475.0 L501.5,1474.9 L502.5,1474.9 L503.5,1474.9 L504.5,1474.9 L505.5,1474.9 L506.5,1474.9 L507.5,1474.9 L508.5,1474.9 L509.5,1474.9 L510.5,1474.9 L511.5,1474.9 L512.5,1474.9 L513.5,1474.9 L514.5,1474.9 L515.5,1474.9 L516.5,1474.9 L517.5,1474.8 L518.5,1474.8 L519.5,1474.8 L520.5,1474.8 L521.5,1474.8 L522.5,1474.8 L523.5,1474.8 L524.5,1474.8 L525.5,1474.7 L526.5,1474.7 L527.5,1474.7 L528.5,1474.7 L529.5,1474.7 L530.5,1474.7 L531.5,1474.6 L532.5,1474.6 L533.5,1474.6 L534.5,1474.6 L535.5,1474.5 L536.5,1474.5 L537.5,1474.5 L538.5,1474.4 L539.5,1474.4 L540.5,1474.4 L541.5,1474.3 L542.5,1474.3 L543.5,1474.2 L544.5,1474.2 L545.5,1474.1 L546.5,1474.0 L547.5,1474.0 L548.5,1473.9 L549.5,1473.8 L550.5,1473.7 L551.5,1473.6 L552.5,1473.5 L553.5,1473.4 L554.5,1473.3 L555.5,1473.2 L556.5,1473.0 L557.5,1472.9 L558.5,1472.8 L559.5,1472.6 L560.5,1472.4 L561.5,1472.2 L562.5,1472.0 L563.5,1471.8 L564.5,1471.6 L565.5,1471.3 L566.5,1471.1 L567.5,1470.8 L568.5,1470.5 L569.5,1470.2 L570.5,1469.9 L571.5,1469.6 L572.5,1469.2 L573.5,1468.8 L574.5,1468.4 L575.5,1468.0 L576.5,1467.6 L577.5,1467.1 L578.5,1466.6 L579.5,1466.1 L580.5,1465.6 L581.5,1465.0 L582.5,1464.4 L583.5,1463.8 L584.5,1463.2 L585.5,1462.6 L586.5,1461.9 L587.5,1461.2 L588.5,1460.5 L589.5,1459.7 L590.5,1458.9 L591.5,1458.1 L592.5,1457.3 L593.5,1456.5 L594.5,1455.6 L595.5,1454.7 L596.5,1453.8 L597.5,1452.9 L598.5,1452.0 L599.5,1451.0 L600.5,1450.0 L601.5,1449.0 L602.5,1448.0 L603.5,1447.0 L604.5,1446.0 L605.5,1445.0 L606.5,1443.9 L607.5,1442.9 L608.5,1441.9 L609.5,1440.8 L610.5,1439.8 L611.5,1438.8 L612.5,1437.7 L613.5,1436.7 L614.5,1435.7 L615.5,1434.7 L616.5,1433.8 L617.5,1432.8 L618.5,1431.9 L619.5,1431.0 L620.5,1430.1 L621.5,1429.3 L622.5,1428.4 L623.5,1427.7 L624.5,1426.9 L625.5,1426.2 L626.5,1425.6 L627.5,1425.0 L628.5,1424.4 L629.5,1423.9 L630.5,1423.4 L631.5,1423.0 L632.5,1422.7 L633.5,1422.4 L634.5,1422.2 L635.5,1422.0 L636.5,1421.9 L637.5,1421.8 L638.5,1421.8 L639.5,1421.9 L640.5,1422.0 L641.5,1422.2 L642.5,1422.4 L643.5,1422.7 L644.5,1423.0 L645.5,1423.4 L646.5,1423.9 L647.5,1424.4 L648.5,1425.0 L649.5,1425.6 L650.5,1426.2 L651.5,1426.9 L652.5,1427.7 L653.5,1428.4 L654.5,1429.3 L655.5,1430.1 L656.5,1431.0 L657.5,1431.9 L658.5,1432.8 L659.5,1433.8 L660.5,1434.7 L661.5,1435.7 L662.5,1436.7 L663.5,1437.7 L664.5,1438.8 L665.5,1439.8 L666.5,1440.8 L667.5,1441.9 L668.5,1442.9 L669.5,1443.9 L670.5,1445.0 L671.5,1446.0 L672.5,1447.0 L673.5,1448.0 L674.5,1449.0 L675.5,1450.0 L676.5,1451.0 L677.5,1452.0 L678.5,1452.9 L679.5,1453.8 L680.5,1454.7 L681.5,1455.6 L682.5,1456.5 L683.5,1457.3 L684.5,1458.1 L685.5,1458.9 L686.5,1459.7 L687.5,1460.5 L688.5,1461.2 L689.5,1461.9 L690.5,1462.6 L691.5,1463.2 L692.5,1463.8 L693.5,1464.4 L694.5,1465.0 L695.5,1465.6 L696.5,1466.1 L697.5,1466.6 L698.5,1467.1 L699.5,1467.6 L700.5,1468.0 L701.5,1468.4 L702.5,1468.8 L703.5,1469.2 L704.5,1469.6 L705.5,1469.9 L706.5,1470.2 L707.5,1470.5 L708.5,1470.8 L709.5,1471.1 L710.5,1471.3 L711.5,1471.6 L712.5,1471.8 L713.5,1472.0 L714.5,1472.2 L715.5,1472.4 L716.5,1472.6 L717.5,1472.8 L718.5,1472.9 L719.5,1473.0 L720.5,1473.2 L721.5,1473.3 L722.5,1473.4 L723.5,1473.5 L724.5,1473.6 L725.5,1473.7 L726.5,1473.8 L727.5,1473.9 L728.5,1474.0 L729.5,1474.0 L730.5,1474.1 L731.5,1474.2 L732.5,1474.2 L733.5,1474.3 L734.5,1474.3 L735.5,1474.4 L736.5,1474.4 L737.5,1474.4 L738.5,1474.5 L739.5,1474.5 L740.5,1474.5 L741.5,1474.6 L742.5,1474.6 L743.5,1474.6 L744.5,1474.6 L745.5,1474.7 L746.5,1474.7 L747.5,1474.7 L748.5,1474.7 L749.5,1474.7 L750.5,1474.7 L751.5,1474.8 L752.5,1474.8 L753.5,1474.8 L754.5,1474.8 L755.5,1474.8 L756.5,1474.8 L757.5,1474.8 L758.5,1474.8 L759.5,1474.9 L760.5,1474.9 L761.5,1474.9 L762.5,1474.9 L763.5,1474.9 L764.5,1474.9 L765.5,1474.9 L766.5,1474.9 L767.5,1474.9 L768.5,1474.9 L769.5,1474.9 L770.5,1474.9 L771.5,1474.9 L772.5,1474.9 L773.5,1474.9 L774.5,1474.9 L775.5,1475.0 L776.5,1475.0 L777.5,1475.0 L778.5,1475.0 L779.5,1475.0 L780.5,1475.0 L781.5,1475.0 L782.5,1475.0 L783.5,1475.0 L784.5,1475.0 L785.5,1475.0 L786.5,1475.0 L787.5,1475.0 L788.5,1475.0 L789.5,1475.0 L790.5,1475.0 L791.5,1475.0 L792.5,1475.0 L793.5,1475.0 L794.5,1475.0 L795.5,1475.0 L796.5,1475.0 L797.5,1475.0 L798.5,1475.0 L799.5,1475.0 L800.5,1475.0 L801.5,1475.1 L802.5,1475.1 L803.5,1475.1 L804.5,1475.1 L805.5,1475.1 L806.5,1475.1 L807.5,1475.1 L808.5,1475.1 L809.5,1475.1 L810.5,1475.1 L811.5,1475.1 L812.5,1475.1 L813.5,1475.1 L814.5,1475.1 L815.5,1475.1 L816.5,1475.1 L817.5,1475.1 L818.5,1475.1 L819.5,1475.1 L820.5,1475.1 L821.5,1475.1 L822.5,1475.1 L823.5,1475.1 L824.5,1475.1 L825.5,1475.1 L826.5,1475.1 L827.5,1475.1 L828.5,1475.1 L829.5,1475.1 L830.5,1475.1 L831.5,1475.1 L832.5,1475.1 L833.5,1475.1 L834.5,1475.1 L835.5,1475.1 L836.5,1475.1 L837.5,1475.1 L838.5,1475.1 L839.5,1475.1 L840.5,1475.1 L841.5,1475.1 L842.5,1475.1 L843.5,1475.1 L844.5,1475.1 L845.5,1475.1 L846.5,1475.1 L847.5,1475.1 L848.5,1475.1 L849.5,1475.1 L850.5,1475.2 L851.5,1475.2 L852.5,1475.2 L853.5,1475.2 L854.5,1475.2 L855.5,1475.2 L856.5,1475.2 L857.5,1475.2 L858.5,1475.2 L859.5,1475.2 L860.5,1475.2 L861.5,1475.2 L862.5,1475.2 L863.5,1475.2 L864.5,1475.2 L865.5,1475.2 L866.5,1475.2 L867.5,1475.2 L868.5,1475.2 L869.5,1475.2 L870.5,1475.2 L871.5,1475.2 L872.5,1475.2 L873.5,1475.2 L874.5,1475.2 L875.5,1475.2 L876.5,1475.2" stroke-width="2.8"/>
<path d="M271.5,1475.2 L272.5,1475.2 L273.5,1475.2 L274.5,1475.2 L275.5,1475.2 L276.5,1475.2 L277.5,1475.2 L278.5,1475.2 L279.5,1475.2 L280.5,1475.2 L281.5,1475.2 L282.5,1475.2 L283.5,1475.2 L284.5,1475.2 L285.5,1475.2 L286.5,1475.2 L287.5,1475.2 L288.5,1475.2 L289.5,1475.2 L290.5,1475.2 L291.5,1475.2 L292.5,1475.2 L293.5,1475.2 L294.5,1475.2 L295.5,1475.2 L296.5,1475.2 L297.5,1475.2 L298.5,1475.2 L299.5,1475.2 L300.5,1475.2 L301.5,1475.2 L302.5,1475.2 L303.5,1475.2 L304.5,1475.2 L305.5,1475.2 L306.5,1475.2 L307.5,1475.2 L308.5,1475.2 L309.5,1475.2 L310.5,1475.2 L311.5,1475.2 L312.5,1475.2 L313.5,1475.2 L314.5,1475.2 L315.5,1475.2 L316.5,1475.2 L317.5,1475.2 L318.5,1475.2 L319.5,1475.2 L320.5,1475.1 L321.5,1475.1 L322.5,1475.1 L323.5,1475.1 L324.5,1475.1 L325.5,1475.1 L326.5,1475.1 L327.5,1475.1 L328.5,1475.1 L329.5,1475.1 L330.5,1475.1 L331.5,1475.1 L332.5,1475.1 L333.5,1475.1 L334.5,1475.1 L335.5,1475.1 L336.5,1475.1 L337.5,1475.1 L338.5,1475.1 L339.5,1475.1 L340.5,1475.1 L341.5,1475.1 L342.5,1475.1 L343.5,1475.1 L344.5,1475.1 L345.5,1475.1 L346.5,1475.1 L347.5,1475.1 L348.5,1475.1 L349.5,1475.1 L350.5,1475.1 L351.5,1475.1 L352.5,1475.1 L353.5,1475.1 L354.5,1475.1 L355.5,1475.1 L356.5,1475.1 L357.5,1475.1 L358.5,1475.1 L359.5,1475.1 L360.5,1475.1 L361.5,1475.1 L362.5,1475.1 L363.5,1475.1 L364.5,1475.1 L365.5,1475.1 L366.5,1475.1 L367.5,1475.1 L368.5,1475.1 L369.5,1475.1 L370.5,1475.1 L371.5,1475.1 L372.5,1475.1 L373.5,1475.1 L374.5,1475.1 L375.5,1475.1 L376.5,1475.1 L377.5,1475.1 L378.5,1475.1 L379.5,1475.1 L380.5,1475.1 L381.5,1475.1 L382.5,1475.1 L383.5,1475.1 L384.5,1475.1 L385.5,1475.1 L386.5,1475.1 L387.5,1475.1 L388.5,1475.1 L389.5,1475.1 L390.5,1475.1 L391.5,1475.1 L392.5,1475.1 L393.5,1475.1 L394.5,1475.1 L395.5,1475.1 L396.5,1475.1 L397.5,1475.1 L398.5,1475.1 L399.5,1475.1 L400.5,1475.1 L401.5,1475.1 L402.5,1475.1 L403.5,1475.1 L404.5,1475.1 L405.5,1475.1 L406.5,1475.1 L407.5,1475.1 L408.5,1475.1 L409.5,1475.1 L410.5,1475.1 L411.5,1475.1 L412.5,1475.0 L413.5,1475.0 L414.5,1475.0 L415.5,1475.0 L416.5,1475.0 L417.5,1475.0 L418.5,1475.0 L419.5,1475.0 L420.5,1475.0 L421.5,1475.0 L422.5,1475.0 L423.5,1475.0 L424.5,1475.0 L425.5,1475.0 L426.5,1475.0 L427.5,1475.0 L428.5,1475.0 L429.5,1475.0 L430.5,1475.0 L431.5,1475.0 L432.5,1475.0 L433.5,1475.0 L434.5,1475.0 L435.5,1475.0 L436.5,1475.0 L437.5,1475.0 L438.5,1475.0 L439.5,1475.0 L440.5,1475.0 L441.5,1475.0 L442.5,1475.0 L443.5,1475.0 L444.5,1475.0 L445.5,1475.0 L446.5,1475.0 L447.5,1475.0 L448.5,1475.0 L449.5,1475.0 L450.5,1475.0 L451.5,1475.0 L452.5,1475.0 L453.5,1475.0 L454.5,1475.0 L455.5,1475.0 L456.5,1475.0 L457.5,1475.0 L458.5,1475.0 L459.5,1475.0 L460.5,1475.0 L461.5,1474.9 L462.5,1474.9 L463.5,1474.9 L464.5,1474.9 L465.5,1474.9 L466.5,1474.9 L467.5,1474.9 L468.5,1474.9 L469.5,1474.9 L470.5,1474.9 L471.5,1474.9 L472.5,1474.9 L473.5,1474.9 L474.5,1474.9 L475.5,1474.9 L476.5,1474.9 L477.5,1474.9 L478.5,1474.9 L479.5,1474.9 L480.5,1474.9 L481.5,1474.9 L482.5,1474.9 L483.5,1474.9 L484.5,1474.9 L485.5,1474.9 L486.5,1474.9 L487.5,1474.9 L488.5,1474.9 L489.5,1474.9 L490.5,1474.9 L491.5,1474.9 L492.5,1474.9 L493.5,1474.8 L494.5,1474.8 L495.5,1474.8 L496.5,1474.8 L497.5,1474.8 L498.5,1474.8 L499.5,1474.8 L500.5,1474.8 L501.5,1474.8 L502.5,1474.8 L503.5,1474.8 L504.5,1474.8 L505.5,1474.8 L506.5,1474.8 L507.5,1474.8 L508.5,1474.8 L509.5,1474.8 L510.5,1474.8 L511.5,1474.8 L512.5,1474.8 L513.5,1474.7 L514.5,1474.7 L515.5,1474.7 L516.5,1474.7 L517.5,1474.7 L518.5,1474.7 L519.5,1474.7 L520.5,1474.7 L521.5,1474.7 L522.5,1474.7 L523.5,1474.7 L524.5,1474.7 L525.5,1474.7 L526.5,1474.7 L527.5,1474.6 L528.5,1474.6 L529.5,1474.6 L530.5,1474.6 L531.5,1474.6 L532.5,1474.6 L533.5,1474.6 L534.5,1474.6 L535.5,1474.6 L536.5,1474.5 L537.5,1474.5 L538.5,1474.5 L539.5,1474.5 L540.5,1474.5 L541.5,1474.5 L542.5,1474.5 L543.5,1474.4 L544.5,1474.4 L545.5,1474.4 L546.5,1474.4 L547.5,1474.4 L548.5,1474.3 L549.5,1474.3 L550.5,1474.3 L551.5,1474.3 L552.5,1474.2 L553.5,1474.2 L554.5,1474.2 L555.5,1474.2 L556.5,1474.1 L557.5,1474.1 L558.5,1474.1 L559.5,1474.0 L560.5,1474.0 L561.5,1474.0 L562.5,1473.9 L563.5,1473.9 L564.5,1473.8 L565.5,1473.8 L566.5,1473.7 L567.5,1473.7 L568.5,1473.6 L569.5,1473.6 L570.5,1473.5 L571.5,1473.5 L572.5,1473.4 L573.5,1473.3 L574.5,1473.3 L575.5,1473.2 L576.5,1473.1 L577.5,1473.0 L578.5,1472.9 L579.5,1472.8 L580.5,1472.8 L581.5,1472.7 L582.5,1472.6 L583.5,1472.5 L584.5,1472.4 L585.5,1472.2 L586.5,1472.1 L587.5,1472.0 L588.5,1471.9 L589.5,1471.7 L590.5,1471.6 L591.5,1471.5 L592.5,1471.3 L593.5,1471.2 L594.5,1471.0 L595.5,1470.8 L596.5,1470.6 L597.5,1470.5 L598.5,1470.3 L599.5,1470.1 L600.5,1469.9 L601.5,1469.7 L602.5,1469.4 L603.5,1469.2 L604.5,1469.0 L605.5,1468.7 L606.5,1468.5 L607.5,1468.2 L608.5,1468.0 L609.5,1467.7 L610.5,1467.4 L611.5,1467.1 L612.5,1466.8 L613.5,1466.5 L614.5,1466.1 L615.5,1465.8 L616.5,1465.5 L617.5,1465.1 L618.5,1464.7 L619.5,1464.4 L620.5,1464.0 L621.5,1463.6 L622.5,1463.2 L623.5,1462.7 L624.5,1462.3 L625.5,1461.8 L626.5,1461.4 L627.5,1460.9 L628.5,1460.4 L629.5,1459.9 L630.5,1459.4 L631.5,1458.9 L632.5,1458.4 L633.5,1457.9 L634.5,1457.3 L635.5,1456.7 L636.5,1456.2 L637.5,1455.6 L638.5,1455.0 L639.5,1454.4 L640.5,1453.7 L641.5,1453.1 L642.5,1452.5 L643.5,1451.8 L644.5,1451.1 L645.5,1450.5 L646.5,1449.8 L647.5,1449.1 L648.5,1448.4 L649.5,1447.6 L650.5,1446.9 L651.5,1446.2 L652.5,1445.4 L653.5,1444.7 L654.5,1443.9 L655.5,1443.2 L656.5,1442.4 L657.5,1441.6 L658.5,1440.8 L659.5,1440.0 L660.5,1439.2 L661.5,1438.4 L662.5,1437.6 L663.5,1436.8 L664.5,1435.9 L665.5,1435.1 L666.5,1434.3 L667.5,1433.5 L668.5,1432.6 L669.5,1431.8 L670.5,1431.0 L671.5,1430.2 L672.5,1429.3 L673.5,1428.5 L674.5,1427.7 L675.5,1426.9 L676.5,1426.0 L677.5,1425.2 L678.5,1424.4 L679.5,1423.6 L680.5,1422.9 L681.5,1422.1 L682.5,1421.3 L683.5,1420.5 L684.5,1419.8 L685.5,1419.0 L686.5,1418.3 L687.5,1417.6 L688.5,1416.9 L689.5,1416.2 L690.5,1415.5 L691.5,1414.9 L692.5,1414.2 L693.5,1413.6 L694.5,1413.0 L695.5,1412.4 L696.5,1411.8 L697.5,1411.3 L698.5,1410.8 L699.5,1410.3 L700.5,1409.8 L701.5,1409.3 L702.5,1408.9 L703.5,1408.5 L704.5,1408.1 L705.5,1407.7 L706.5,1407.4 L707.5,1407.1 L708.5,1406.8 L709.5,1406.5 L710.5,1406.3 L711.5,1406.1 L712.5,1405.9 L713.5,1405.8 L714.5,1405.7 L715.5,1405.6 L716.5,1405.5 L717.5,1405.5 L718.5,1405.5 L719.5,1405.5 L720.5,1405.6 L721.5,1405.6 L722.5,1405.7 L723.5,1405.9 L724.5,1406.0 L725.5,1406.1 L726.5,1406.3 L727.5,1406.5 L728.5,1406.8 L729.5,1407.0 L730.5,1407.3 L731.5,1407.6 L732.5,1407.9 L733.5,1408.2 L734.5,1408.6 L735.5,1408.9 L736.5,1409.3 L737.5,1409.7 L738.5,1410.1 L739.5,1410.6 L740.5,1411.0 L741.5,1411.5 L742.5,1412.0 L743.5,1412.5 L744.5,1413.0 L745.5,1413.5 L746.5,1414.0 L747.5,1414.6 L748.5,1415.1 L749.5,1415.7 L750.5,1416.3 L751.5,1416.9 L752.5,1417.4 L753.5,1418.1 L754.5,1418.7 L755.5,1419.3 L756.5,1419.9 L757.5,1420.5 L758.5,1421.2 L759.5,1421.8 L760.5,1422.5 L761.5,1423.1 L762.5,1423.8 L763.5,1424.4 L764.5,1425.1 L765.5,1425.7 L766.5,1426.4 L767.5,1427.1 L768.5,1427.7 L769.5,1428.4 L770.5,1429.1 L771.5,1429.7 L772.5,1430.4 L773.5,1431.1 L774.5,1431.7 L775.5,1432.4 L776.5,1433.1 L777.5,1433.7 L778.5,1434.4 L779.5,1435.0 L780.5,1435.7 L781.5,1436.3 L782.5,1437.0 L783.5,1437.6 L784.5,1438.2 L785.5,1438.8 L786.5,1439.5 L787.5,1440.1 L788.5,1440.7 L789.5,1441.3 L790.5,1441.9 L791.5,1442.5 L792.5,1443.1 L793.5,1443.7 L794.5,1444.3 L795.5,1444.8 L796.5,1445.4 L797.5,1446.0 L798.5,1446.5 L799.5,1447.1 L800.5,1447.6 L801.5,1448.2 L802.5,1448.7 L803.5,1449.2 L804.5,1449.7 L805.5,1450.2 L806.5,1450.7 L807.5,1451.2 L808.5,1451.7 L809.5,1452.2 L810.5,1452.6 L811.5,1453.1 L812.5,1453.6 L813.5,1454.0 L814.5,1454.5 L815.5,1454.9 L816.5,1455.3 L817.5,1455.7 L818.5,1456.1 L819.5,1456.5 L820.5,1456.9 L821.5,1457.3 L822.5,1457.7 L823.5,1458.1 L824.5,1458.5 L825.5,1458.8 L826.5,1459.2 L827.5,1459.5 L828.5,1459.9 L829.5,1460.2 L830.5,1460.5 L831.5,1460.8 L832.5,1461.1 L833.5,1461.5 L834.5,1461.8 L835.5,1462.0 L836.5,1462.3 L837.5,1462.6 L838.5,1462.9 L839.5,1463.2 L840.5,1463.4 L841.5,1463.7 L842.5,1463.9 L843.5,1464.2 L844.5,1464.4 L845.5,1464.6 L846.5,1464.9 L847.5,1465.1 L848.5,1465.3 L849.5,1465.5 L850.5,1465.7 L851.5,1465.9 L852.5,1466.1 L853.5,1466.3 L854.5,1466.5 L855.5,1466.7 L856.5,1466.8 L857.5,1467.0 L858.5,1467.2 L859.5,1467.3 L860.5,1467.5 L861.5,1467.7 L862.5,1467.8 L863.5,1468.0 L864.5,1468.1 L865.5,1468.2 L866.5,1468.4 L867.5,1468.5 L868.5,1468.6 L869.5,1468.8 L870.5,1468.9 L871.5,1469.0 L872.5,1469.1 L873.5,1469.2 L874.5,1469.3 L875.5,1469.4 L876.5,1469.5 L877.5,1469.6 L878.5,1469.7 L879.5,1469.8 L880.5,1469.9 L881.5,1470.0 L882.5,1470.1 L883.5,1470.2 L884.5,1470.3 L885.5,1470.4 L886.5,1470.4 L887.5,1470.5 L888.5,1470.6 L889.5,1470.7 L890.5,1470.7 L891.5,1470.8 L892.5,1470.9 L893.5,1470.9 L894.5,1471.0 L895.5,1471.1 L896.5,1471.1 L897.5,1471.2 L898.5,1471.2 L899.5,1471.3 L900.5,1471.3 L901.5,1471.4 L902.5,1471.4 L903.5,1471.5 L904.5,1471.5 L905.5,1471.6 L906.5,1471.6 L907.5,1471.7 L908.5,1471.7 L909.5,1471.8 L910.5,1471.8 L911.5,1471.9 L912.5,1471.9 L913.5,1471.9 L914.5,1472.0 L915.5,1472.0 L916.5,1472.1 L917.5,1472.1 L918.5,1472.1 L919.5,1472.2 L920.5,1472.2 L921.5,1472.2 L922.5,1472.3 L923.5,1472.3 L924.5,1472.3 L925.5,1472.4 L926.5,1472.4 L927.5,1472.4 L928.5,1472.4 L929.5,1472.5 L930.5,1472.5 L931.5,1472.5 L932.5,1472.6 L933.5,1472.6 L934.5,1472.6 L935.5,1472.6 L936.5,1472.7 L937.5,1472.7 L938.5,1472.7 L939.5,1472.7 L940.5,1472.7 L941.5,1472.8 L942.5,1472.8 L943.5,1472.8 L944.5,1472.8 L945.5,1472.9 L946.5,1472.9 L947.5,1472.9 L948.5,1472.9 L949.5,1472.9 L950.5,1473.0 L951.5,1473.0 L952.5,1473.0 L953.5,1473.0 L954.5,1473.0 L955.5,1473.1 L956.5,1473.1 L957.5,1473.1 L958.5,1473.1 L959.5,1473.1 L960.5,1473.1 L961.5,1473.2 L962.5,1473.2 L963.5,1473.2 L964.5,1473.2 L965.5,1473.2 L966.5,1473.2 L967.5,1473.3 L968.5,1473.3 L969.5,1473.3 L970.5,1473.3 L971.5,1473.3 L972.5,1473.3 L973.5,1473.3 L974.5,1473.4 L975.5,1473.4 L976.5,1473.4 L977.5,1473.4 L978.5,1473.4 L979.5,1473.4 L980.5,1473.4 L981.5,1473.5 L982.5,1473.5 L983.5,1473.5 L984.5,1473.5 L985.5,1473.5 L986.5,1473.5 L987.5,1473.5 L988.5,1473.5 L989.5,1473.6 L990.5,1473.6 L991.5,1473.6 L992.5,1473.6" stroke-width="2.8"/>
<path d="M16.5,1472.3 L17.5,1472.3 L18.5,1472.3 L19.5,1472.2 L20.5,1472.2 L21.5,1472.2 L22.5,1472.1 L23.5,1472.1 L24.5,1472.1 L25.5,1472.0 L26.5,1472.0 L27.5,1472.0 L28.5,1471.9 L29.5,1471.9 L30.5,1471.9 L31.5,1471.8 L32.5,1471.8 L33.5,1471.8 L34.5,1471.7 L35.5,1471.7 L36.5,1471.6 L37.5,1471.6 L38.5,1471.6 L39.5,1471.5 L40.5,1471.5 L41.5,1471.4 L42.5,1471.4 L43.5,1471.3 L44.5,1471.3 L45.5,1471.2 L46.5,1471.2 L47.5,1471.1 L48.5,1471.1 L49.5,1471.0 L50.5,1471.0 L51.5,1470.9 L52.5,1470.9 L53.5,1470.8 L54.5,1470.8 L55.5,1470.7 L56.5,1470.7 L57.5,1470.6 L58.5,1470.6 L59.5,1470.5 L60.5,1470.5 L61.5,1470.4 L62.5,1470.4 L63.5,1470.3 L64.5,1470.2 L65.5,1470.2 L66.5,1470.1 L67.5,1470.0 L68.5,1470.0 L69.5,1469.9 L70.5,1469.8 L71.5,1469.8 L72.5,1469.7 L73.5,1469.6 L74.5,1469.5 L75.5,1469.4 L76.5,1469.4 L77.5,1469.3 L78.5,1469.2 L79.5,1469.1 L80.5,1469.0 L81.5,1469.0 L82.5,1468.9 L83.5,1468.8 L84.5,1468.7 L85.5,1468.6 L86.5,1468.5 L87.5,1468.4 L88.5,1468.4 L89.5,1468.3 L90.5,1468.2 L91.5,1468.1 L92.5,1468.0 L93.5,1467.9 L94.5,1467.8 L95.5,1467.8 L96.5,1467.7 L97.5,1467.6 L98.5,1467.5 L99.5,1467.4 L100.5,1467.3 L101.5,1467.3 L102.5,1467.2 L103.5,1467.1 L104.5,1467.0 L105.5,1466.9 L106.5,1466.8 L107.5,1466.7 L108.5,1466.5 L109.5,1466.4 L110.5,1466.3 L111.5,1466.2 L112.5,1466.0 L113.5,1465.9 L114.5,1465.7 L115.5,1465.6 L116.5,1465.4 L117.5,1465.3 L118.5,1465.1 L119.5,1465.0 L120.5,1464.8 L121.5,1464.6 L122.5,1464.5 L123.5,1464.3 L124.5,1464.1 L125.5,1463.9 L126.5,1463.8 L127.5,1463.6 L128.5,1463.4 L129.5,1463.2 L130.5,1463.0 L131.5,1462.8 L132.5,1462.6 L133.5,1462.4 L134.5,1462.2 L135.5,1462.0 L136.5,1461.4 L137.5,1460.7 L138.5,1459.7 L139.5,1458.4 L140.5,1457.0 L141.5,1455.4 L142.5,1453.6 L143.5,1451.6 L144.5,1449.5 L145.5,1447.1 L146.5,1444.5 L147.5,1441.7 L148.5,1438.6 L149.5,1435.3 L150.5,1431.8 L151.5,1428.2 L152.5,1424.5 L153.5,1420.6 L154.5,1416.5 L155.5,1412.1 L156.5,1407.4 L157.5,1402.7 L158.5,1398.0 L159.5,1393.5 L160.5,1389.2 L161.5,1385.2 L162.5,1381.6 L163.5,1378.4 L164.5,1375.6 L165.5,1373.2 L166.5,1371.1 L167.5,1369.3 L168.5,1367.8 L169.5,1366.9 L170.5,1366.3 L171.5,1366.3 L172.5,1366.6 L173.5,1367.2 L174.5,1368.1 L175.5,1369.3 L176.5,1370.8 L177.5,1372.6 L178.5,1374.8 L179.5,1377.2 L180.5,1379.7 L181.5,1382.2 L182.5,1384.5 L183.5,1386.5 L184.5,1388.3 L185.5,1390.1 L186.5,1391.7 L187.5,1393.2 L188.5,1394.4 L189.5,1395.3 L190.5,1395.8 L191.5,1395.8 L192.5,1395.3 L193.5,1394.6 L194.5,1393.8 L195.5,1392.9 L196.5,1391.8 L197.5,1390.7 L198.5,1389.5 L199.5,1388.2 L200.5,1386.9 L201.5,1385.5 L202.5,1384.1 L203.5,1382.7 L204.5,1381.3 L205.5,1380.0 L206.5,1378.6 L207.5,1377.2 L208.5,1375.8 L209.5,1374.3 L210.5,1372.8 L211.5,1371.3 L212.5,1369.7 L213.5,1368.1 L214.5,1366.4 L215.5,1364.6 L216.5,1362.7 L217.5,1360.7 L218.5,1358.7 L219.5,1356.6 L220.5,1354.4 L221.5,1352.1 L222.5,1349.8 L223.5,1347.5 L224.5,1345.2 L225.5,1342.9 L226.5,1340.5 L227.5,1338.0 L228.5,1335.3 L229.5,1332.5 L230.5,1329.8 L231.5,1327.0 L232.5,1324.4 L233.5,1322.0 L234.5,1319.7 L235.5,1317.8 L236.5,1316.1 L237.5,1314.8 L238.5,1313.7 L239.5,1313.0 L240.5,1312.5 L241.5,1312.3 L242.5,1312.3 L243.5,1312.6 L244.5,1312.9 L245.5,1313.4 L246.5,1313.9 L247.5,1314.6 L248.5,1315.3 L249.5,1316.1 L250.5,1317.0 L251.5,1318.0 L252.5,1319.0 L253.5,1320.1 L254.5,1321.3 L255.5,1322.6 L256.5,1323.9 L257.5,1325.2 L258.5,1326.6 L259.5,1327.9 L260.5,1329.3 L261.5,1330.6 L262.5,1331.9 L263.5,1333.2 L264.5,1334.4 L265.5,1335.5 L266.5,1336.5 L267.5,1337.5 L268.5,1338.3 L269.5,1339.1 L270.5,1339.7 L271.5,1340.3 L272.5,1340.7 L273.5,1340.9 L274.5,1341.0 L275.5,1340.9 L276.5,1340.6 L277.5,1340.2 L278.5,1339.7 L279.5,1339.0 L280.5,1338.3 L281.5,1337.4 L282.5,1336.5 L283.5,1335.4 L284.5,1334.3 L285.5,1333.1 L286.5,1331.9 L287.5,1330.6 L288.5,1329.3 L289.5,1327.8 L290.5,1326.1 L291.5,1324.4 L292.5,1322.9 L293.5,1321.6 L294.5,1320.5 L295.5,1319.6 L296.5,1318.9 L297.5,1318.4 L298.5,1318.3 L299.5,1318.4 L300.5,1318.6 L301.5,1318.9 L302.5,1319.3 L303.5,1319.8 L304.5,1320.4 L305.5,1321.1 L306.5,1321.8 L307.5,1322.7 L308.5,1323.6 L309.5,1324.6 L310.5,1325.6 L311.5,1326.6 L312.5,1327.6 L313.5,1328.7 L314.5,1329.7 L315.5,1330.8 L316.5,1331.9 L317.5,1333.0 L318.5,1334.1 L319.5,1335.3 L320.5,1336.5 L321.5,1337.7 L322.5,1338.9 L323.5,1340.1 L324.5,1341.3 L325.5,1342.5 L326.5,1343.7 L327.5,1344.9 L328.5,1346.2 L329.5,1347.4 L330.5,1348.6 L331.5,1349.9 L332.5,1351.1 L333.5,1352.3 L334.5,1353.6 L335.5,1354.8 L336.5,1356.1 L337.5,1357.3 L338.5,1358.6 L339.5,1359.8 L340.5,1361.1 L341.5,1362.4 L342.5,1363.6 L343.5,1364.9 L344.5,1366.2 L345.5,1367.5 L346.5,1368.8 L347.5,1370.1 L348.5,1371.4 L349.5,1372.8 L350.5,1374.1 L351.5,1375.4 L352.5,1376.7 L353.5,1378.0 L354.5,1379.3 L355.5,1380.6 L356.5,1382.0 L357.5,1383.3 L358.5,1384.6 L359.5,1386.0 L360.5,1387.3 L361.5,1388.7 L362.5,1390.0 L363.5,1391.4 L364.5,1392.7 L365.5,1394.1 L366.5,1395.4 L367.5,1396.8 L368.5,1398.1 L369.5,1399.5 L370.5,1400.8 L371.5,1402.1 L372.5,1403.4 L373.5,1404.7 L374.5,1406.0 L375.5,1407.3 L376.5,1408.5 L377.5,1409.7 L378.5,1410.9 L379.5,1412.0 L380.5,1413.1 L381.5,1414.1 L382.5,1415.2 L383.5,1416.2 L384.5,1417.2 L385.5,1418.2 L386.5,1419.2 L387.5,1420.1 L388.5,1421.0 L389.5,1422.0 L390.5,1422.9 L391.5,1423.8 L392.5,1424.7 L393.5,1425.5 L394.5,1426.4 L395.5,1427.3 L396.5,1428.2 L397.5,1429.0 L398.5,1429.9 L399.5,1430.7 L400.5,1431.6 L401.5,1432.4 L402.5,1433.2 L403.5,1434.0 L404.5,1434.8 L405.5,1435.6 L406.5,1436.3 L407.5,1437.0 L408.5,1437.7 L409.5,1438.4 L410.5,1439.1 L411.5,1439.7 L412.5,1440.4 L413.5,1441.0 L414.5,1441.5 L415.5,1442.1 L416.5,1442.6 L417.5,1443.2 L418.5,1443.7 L419.5,1444.3 L420.5,1444.8 L421.5,1445.4 L422.5,1445.9 L423.5,1446.4 L424.5,1447.0 L425.5,1447.5 L426.5,1448.0 L427.5,1448.5 L428.5,1449.0 L429.5,1449.6 L430.5,1450.1 L431.5,1450.6 L432.5,1451.1 L433.5,1451.6 L434.5,1452.1 L435.5,1452.6 L436.5,1453.1 L437.5,1453.6 L438.5,1454.1 L439.5,1454.6 L440.5,1455.1 L441.5,1455.6 L442.5,1456.1 L443.5,1456.6 L444.5,1457.0 L445.5,1457.5 L446.5,1458.0 L447.5,1458.5 L448.5,1458.9 L449.5,1459.4 L450.5,1459.8 L451.5,1460.3 L452.5,1460.7 L453.5,1461.1 L454.5,1461.5 L455.5,1461.8 L456.5,1462.1 L457.5,1462.3 L458.5,1462.6 L459.5,1462.8 L460.5,1462.9 L461.5,1463.1 L462.5,1463.2 L463.5,1463.4 L464.5,1463.5 L465.5,1463.6 L466.5,1463.7 L467.5,1463.8 L468.5,1463.9 L469.5,1464.0 L470.5,1464.0 L471.5,1464.0 L472.5,1464.1 L473.5,1464.0 L474.5,1464.0 L475.5,1463.9 L476.5,1463.8 L477.5,1463.7 L478.5,1463.6 L479.5,1463.5 L480.5,1463.3 L481.5,1463.1 L482.5,1462.9 L483.5,1462.7 L484.5,1462.5 L485.5,1462.2 L486.5,1462.0 L487.5,1461.7 L488.5,1461.4 L489.5,1461.1 L490.5,1460.7 L491.5,1460.3 L492.5,1459.9 L493.5,1459.4 L494.5,1458.8 L495.5,1458.2 L496.5,1457.6 L497.5,1456.8 L498.5,1456.0 L499.5,1455.1 L500.5,1454.2 L501.5,1453.1 L502.5,1452.0 L503.5,1450.8 L504.5,1449.6 L505.5,1448.3 L506.5,1447.0 L507.5,1445.7 L508.5,1444.3 L509.5,1443.0 L510.5,1441.6 L511.5,1440.2 L512.5,1438.7 L513.5,1437.3 L514.5,1435.8 L515.5,1434.3 L516.5,1432.9 L517.5,1431.4 L518.5,1429.9 L519.5,1428.3 L520.5,1426.8 L521.5,1425.3 L522.5,1423.7 L523.5,1422.1 L524.5,1420.5 L525.5,1418.9 L526.5,1417.3 L527.5,1415.6 L528.5,1414.0 L529.5,1412.4 L530.5,1410.8 L531.5,1409.2 L532.5,1407.6 L533.5,1406.1 L534.5,1404.5 L535.5,1403.0 L536.5,1401.6 L537.5,1400.1 L538.5,1398.8 L539.5,1397.4 L540.5,1396.2 L541.5,1394.9 L542.5,1393.7 L543.5,1392.6 L544.5,1391.5 L545.5,1390.4 L546.5,1389.4 L547.5,1388.4 L548.5,1387.4 L549.5,1386.5 L550.5,1385.6 L551.5,1384.7 L552.5,1383.9 L553.5,1383.1 L554.5,1382.3 L555.5,1381.6 L556.5,1380.8 L557.5,1380.1 L558.5,1379.5 L559.5,1378.8 L560.5,1378.2 L561.5,1377.7 L562.5,1377.2 L563.5,1376.7 L564.5,1376.3 L565.5,1375.9 L566.5,1375.6 L567.5,1375.4 L568.5,1375.2 L569.5,1375.0 L570.5,1375.0 L571.5,1374.9 L572.5,1374.8 L573.5,1374.8 L574.5,1374.7 L575.5,1374.7 L576.5,1374.6 L577.5,1374.6 L578.5,1374.6 L579.5,1374.6 L580.5,1374.6 L581.5,1374.6 L582.5,1374.6 L583.5,1374.7 L584.5,1374.7 L585.5,1374.8 L586.5,1374.8 L587.5,1374.9 L588.5,1374.9 L589.5,1375.0 L590.5,1375.0 L591.5,1375.1 L592.5,1375.1 L593.5,1375.1 L594.5,1375.2 L595.5,1375.2 L596.5,1375.3 L597.5,1375.3 L598.5,1375.4 L599.5,1375.4 L600.5,1375.5 L601.5,1375.5 L602.5,1375.6 L603.5,1375.6 L604.5,1375.7 L605.5,1375.7 L606.5,1375.8 L607.5,1375.9 L608.5,1375.9 L609.5,1376.0 L610.5,1376.0 L611.5,1376.1 L612.5,1376.1 L613.5,1376.2 L614.5,1376.2 L615.5,1376.3 L616.5,1376.3 L617.5,1376.4 L618.5,1376.4 L619.5,1376.5 L620.5,1376.6 L621.5,1376.6 L622.5,1376.7 L623.5,1376.7 L624.5,1376.8 L625.5,1376.8 L626.5,1376.9 L627.5,1377.0 L628.5,1377.0 L629.5,1377.1 L630.5,1377.1 L631.5,1377.2 L632.5,1377.3 L633.5,1377.3 L634.5,1377.4 L635.5,1377.5 L636.5,1377.5 L637.5,1377.6 L638.5,1377.7 L639.5,1377.8 L640.5,1377.8 L641.5,1377.9 L642.5,1378.0 L643.5,1378.1 L644.5,1378.1 L645.5,1378.2 L646.5,1378.3 L647.5,1378.4 L648.5,1378.4 L649.5,1378.5 L650.5,1378.6 L651.5,1378.7 L652.5,1378.8 L653.5,1378.9 L654.5,1379.0 L655.5,1379.2 L656.5,1379.3 L657.5,1379.5 L658.5,1379.7 L659.5,1379.9 L660.5,1380.1 L661.5,1380.3 L662.5,1380.5 L663.5,1380.7 L664.5,1381.0 L665.5,1381.3 L666.5,1381.5 L667.5,1381.8 L668.5,1382.1 L669.5,1382.4 L670.5,1382.7 L671.5,1383.0 L672.5,1383.3 L673.5,1383.7 L674.5,1384.0 L675.5,1384.4 L676.5,1384.7 L677.5,1385.1 L678.5,1385.4 L679.5,1385.8 L680.5,1386.2 L681.5,1386.6 L682.5,1386.9 L683.5,1387.3 L684.5,1387.7 L685.5,1388.1 L686.5,1388.5 L687.5,1389.0 L688.5,1389.4 L689.5,1389.9 L690.5,1390.3 L691.5,1390.8 L692.5,1391.3 L693.5,1391.8 L694.5,1392.3 L695.5,1392.8 L696.5,1393.3 L697.5,1393.8 L698.5,1394.3 L699.5,1394.7 L700.5,1395.2 L701.5,1395.7 L702.5,1396.1 L703.5,1396.5 L704.5,1396.9 L705.5,1397.3 L706.5,1397.6 L707.5,1397.9 L708.5,1398.3 L709.5,1398.6 L710.5,1398.9 L711.5,1399.1 L712.5,1399.4 L713.5,1399.8 L714.5,1400.1 L715.5,1400.4 L716.5,1400.8 L717.5,1401.2 L718.5,1401.6 L719.5,1402.1 L720.5,1402.6 L721.5,1403.1 L722.5,1403.6 L723.5,1404.2 L724.5,1404.7 L725.5,1405.3 L726.5,1405.9 L727.5,1406.5 L728.5,1407.0 L729.5,1407.6 L730.5,1408.2 L731.5,1408.8 L732.5,1409.4 L733.5,1409.9 L734.5,1410.5 L735.5,1411.0 L736.5,1411.5 L737.5,1412.0 L738.5,1412.5 L739.5,1412.9 L740.5,1413.4 L741.5,1413.9 L742.5,1414.3 L743.5,1414.8 L744.5,1415.2 L745.5,1415.7 L746.5,1416.1 L747.5,1416.6 L748.5,1417.1 L749.5,1417.5 L750.5,1418.0 L751.5,1418.5 L752.5,1419.0 L753.5,1419.5 L754.5,1420.0 L755.5,1420.5 L756.5,1421.0 L757.5,1421.5 L758.5,1422.1 L759.5,1422.6 L760.5,1423.1 L761.5,1423.6 L762.5,1424.1 L763.5,1424.6 L764.5,1425.1 L765.5,1425.7 L766.5,1426.2 L767.5,1426.7 L768.5,1427.2 L769.5,1427.7 L770.5,1428.2 L771.5,1428.8 L772.5,1429.3 L773.5,1429.8 L774.5,1430.3 L775.5,1430.9 L776.5,1431.4 L777.5,1431.9 L778.5,1432.5 L779.5,1433.0 L780.5,1433.5 L781.5,1434.0 L782.5,1434.6 L783.5,1435.1 L784.5,1435.6 L785.5,1436.1 L786.5,1436.7 L787.5,1437.2 L788.5,1437.7 L789.5,1438.2 L790.5,1438.7 L791.5,1439.2 L792.5,1439.6 L793.5,1440.1 L794.5,1440.6 L795.5,1441.1 L796.5,1441.5 L797.5,1442.0 L798.5,1442.5 L799.5,1443.0 L800.5,1443.4 L801.5,1443.9 L802.5,1444.4 L803.5,1444.8 L804.5,1445.3 L805.5,1445.8 L806.5,1446.3 L807.5,1446.7 L808.5,1447.2 L809.5,1447.7 L810.5,1448.2 L811.5,1448.7 L812.5,1449.1 L813.5,1449.6 L814.5,1450.0 L815.5,1450.5 L816.5,1450.8 L817.5,1451.2 L818.5,1451.6 L819.5,1451.9 L820.5,1452.2 L821.5,1452.4 L822.5,1452.7 L823.5,1453.0 L824.5,1453.2 L825.5,1453.5 L826.5,1453.7 L827.5,1453.9 L828.5,1454.2 L829.5,1454.4 L830.5,1454.6 L831.5,1454.8 L832.5,1455.1 L833.5,1455.3 L834.5,1455.5 L835.5,1455.7 L836.5,1455.9 L837.5,1456.2 L838.5,1456.4 L839.5,1456.6 L840.5,1456.9 L841.5,1457.1 L842.5,1457.4 L843.5,1457.6 L844.5,1457.9 L845.5,1458.1 L846.5,1458.4 L847.5,1458.6 L848.5,1458.9 L849.5,1459.1 L850.5,1459.4 L851.5,1459.7 L852.5,1459.9 L853.5,1460.2 L854.5,1460.4 L855.5,1460.7 L856.5,1460.9 L857.5,1461.2 L858.5,1461.4 L859.5,1461.7 L860.5,1461.9 L861.5,1462.2 L862.5,1462.5 L863.5,1462.7 L864.5,1463.0 L865.5,1463.2 L866.5,1463.5 L867.5,1463.7 L868.5,1464.0 L869.5,1464.2 L870.5,1464.5 L871.5,1464.7 L872.5,1465.0 L873.5,1465.2 L874.5,1465.5 L875.5,1465.7 L876.5,1466.0 L877.5,1466.2 L878.5,1466.4 L879.5,1466.7 L880.5,1466.9 L881.5,1467.1 L882.5,1467.4 L883.5,1467.6 L884.5,1467.8 L885.5,1468.0 L886.5,1468.2 L887.5,1468.4 L888.5,1468.6 L889.5,1468.8 L890.5,1469.0 L891.5,1469.2 L892.5,1469.4 L893.5,1469.6 L894.5,1469.8 L895.5,1470.0 L896.5,1470.2 L897.5,1470.3 L898.5,1470.5 L899.5,1470.7 L900.5,1470.9 L901.5,1471.1 L902.5,1471.2 L903.5,1471.4 L904.5,1471.6 L905.5,1471.7 L906.5,1471.9 L907.5,1472.1 L908.5,1472.2 L909.5,1472.4 L910.5,1472.5 L911.5,1472.7 L912.5,1472.8 L913.5,1472.9 L914.5,1473.1 L915.5,1473.2 L916.5,1473.3 L917.5,1473.4 L918.5,1473.5 L919.5,1473.6 L920.5,1473.6 L921.5,1473.7 L922.5,1473.8 L923.5,1473.8 L924.5,1473.9 L925.5,1474.0 L926.5,1474.0 L927.5,1474.0 L928.5,1474.1 L929.5,1474.1 L930.5,1474.2 L931.5,1474.2 L932.5,1474.2 L933.5,1474.2 L934.5,1474.3 L935.5,1474.3 L936.5,1474.3 L937.5,1474.3 L938.5,1474.3 L939.5,1474.3 L940.5,1474.3 L941.5,1474.3 L942.5,1474.3 L943.5,1474.3 L944.5,1474.2 L945.5,1474.2 L946.5,1474.2 L947.5,1474.1 L948.5,1474.1 L949.5,1474.0 L950.5,1473.9 L951.5,1473.8 L952.5,1473.7 L953.5,1473.6 L954.5,1473.5 L955.5,1473.4 L956.5,1473.3 L957.5,1473.2 L958.5,1473.0 L959.5,1472.9 L960.5,1472.7 L961.5,1472.5 L962.5,1472.4 L963.5,1472.2 L964.5,1472.0 L965.5,1471.8 L966.5,1471.5 L967.5,1471.3 L968.5,1471.1 L969.5,1470.8 L970.5,1470.6 L971.5,1470.3 L972.5,1470.0 L973.5,1469.7 L974.5,1469.4 L975.5,1469.2 L976.5,1468.8 L977.5,1468.5 L978.5,1468.2 L979.5,1467.9 L980.5,1467.6 L981.5,1467.2 L982.5,1466.9 L983.5,1466.6 L984.5,1466.2 L985.5,1465.9 L986.5,1465.5 L987.5,1465.1 L988.5,1464.8 L989.5,1464.4 L990.5,1464.0 L991.5,1463.6 L992.5,1463.2" stroke-width="6.3"/>
</g>
<g clip-path="url(#cpd)" fill="none" stroke="#000" stroke-linejoin="round" stroke-linecap="round">
<path d="M123.5,1961.7 L124.5,1961.7 L125.5,1961.6 L126.5,1961.6 L127.5,1961.5 L128.5,1961.5 L129.5,1961.4 L130.5,1961.3 L131.5,1961.1 L132.5,1961.0 L133.5,1960.8 L134.5,1960.5 L135.5,1960.2 L136.5,1959.9 L137.5,1959.4 L138.5,1958.9 L139.5,1958.3 L140.5,1957.6 L141.5,1956.8 L142.5,1955.8 L143.5,1954.6 L144.5,1953.3 L145.5,1951.7 L146.5,1949.9 L147.5,1947.8 L148.5,1945.5 L149.5,1942.8 L150.5,1939.8 L151.5,1936.5 L152.5,1932.7 L153.5,1928.5 L154.5,1923.9 L155.5,1918.8 L156.5,1913.2 L157.5,1907.1 L158.5,1900.6 L159.5,1893.5 L160.5,1885.9 L161.5,1877.8 L162.5,1869.3 L163.5,1860.3 L164.5,1850.8 L165.5,1841.1 L166.5,1831.0 L167.5,1820.6 L168.5,1810.1 L169.5,1799.4 L170.5,1788.7 L171.5,1778.1 L172.5,1767.7 L173.5,1757.5 L174.5,1747.6 L175.5,1738.3 L176.5,1729.4 L177.5,1721.3 L178.5,1713.8 L179.5,1707.3 L180.5,1701.6 L181.5,1696.9 L182.5,1693.2 L183.5,1690.6 L184.5,1689.2 L185.5,1688.8 L186.5,1689.9 L187.5,1692.4 L188.5,1696.5 L189.5,1701.8 L190.5,1708.5 L191.5,1716.4 L192.5,1725.4 L193.5,1735.3 L194.5,1746.0 L195.5,1757.3 L196.5,1769.1 L197.5,1781.2 L198.5,1793.5 L199.5,1805.8 L200.5,1818.1 L201.5,1830.1 L202.5,1841.7 L203.5,1853.0 L204.5,1863.7 L205.5,1873.9 L206.5,1883.4 L207.5,1892.3 L208.5,1900.5 L209.5,1908.1 L210.5,1915.0 L211.5,1921.2 L212.5,1926.8 L213.5,1931.8 L214.5,1936.2 L215.5,1940.1 L216.5,1943.5 L217.5,1946.5 L218.5,1949.0 L219.5,1951.2 L220.5,1953.0 L221.5,1954.6 L222.5,1955.9 L223.5,1957.1 L224.5,1958.0 L225.5,1958.7 L226.5,1959.3 L227.5,1959.9 L228.5,1960.3 L229.5,1960.6 L230.5,1960.9 L231.5,1961.1 L232.5,1961.2 L233.5,1961.4 L234.5,1961.5 L235.5,1961.6 L236.5,1961.6 L237.5,1961.7 L238.5,1961.7" stroke-width="2.8"/>
<path d="M16.5,1961.1 L17.5,1961.1 L18.5,1961.1 L19.5,1961.1 L20.5,1961.1 L21.5,1961.1 L22.5,1961.1 L23.5,1961.1 L24.5,1961.1 L25.5,1961.1 L26.5,1961.1 L27.5,1961.1 L28.5,1961.0 L29.5,1961.0 L30.5,1961.0 L31.5,1961.0 L32.5,1961.0 L33.5,1961.0 L34.5,1961.0 L35.5,1961.0 L36.5,1961.0 L37.5,1961.0 L38.5,1961.0 L39.5,1961.0 L40.5,1961.0 L41.5,1961.0 L42.5,1960.9 L43.5,1960.9 L44.5,1960.9 L45.5,1960.9 L46.5,1960.9 L47.5,1960.9 L48.5,1960.9 L49.5,1960.9 L50.5,1960.9 L51.5,1960.9 L52.5,1960.9 L53.5,1960.8 L54.5,1960.8 L55.5,1960.8 L56.5,1960.8 L57.5,1960.8 L58.5,1960.8 L59.5,1960.8 L60.5,1960.8 L61.5,1960.8 L62.5,1960.8 L63.5,1960.7 L64.5,1960.7 L65.5,1960.7 L66.5,1960.7 L67.5,1960.7 L68.5,1960.7 L69.5,1960.7 L70.5,1960.7 L71.5,1960.7 L72.5,1960.6 L73.5,1960.6 L74.5,1960.6 L75.5,1960.6 L76.5,1960.6 L77.5,1960.6 L78.5,1960.6 L79.5,1960.5 L80.5,1960.5 L81.5,1960.5 L82.5,1960.5 L83.5,1960.5 L84.5,1960.5 L85.5,1960.5 L86.5,1960.4 L87.5,1960.4 L88.5,1960.4 L89.5,1960.4 L90.5,1960.4 L91.5,1960.4 L92.5,1960.3 L93.5,1960.3 L94.5,1960.3 L95.5,1960.3 L96.5,1960.3 L97.5,1960.2 L98.5,1960.2 L99.5,1960.2 L100.5,1960.2 L101.5,1960.2 L102.5,1960.1 L103.5,1960.1 L104.5,1960.1 L105.5,1960.1 L106.5,1960.0 L107.5,1960.0 L108.5,1960.0 L109.5,1960.0 L110.5,1959.9 L111.5,1959.9 L112.5,1959.9 L113.5,1959.8 L114.5,1959.8 L115.5,1959.8 L116.5,1959.7 L117.5,1959.7 L118.5,1959.7 L119.5,1959.6 L120.5,1959.6 L121.5,1959.5 L122.5,1959.5 L123.5,1959.4 L124.5,1959.4 L125.5,1959.3 L126.5,1959.3 L127.5,1959.2 L128.5,1959.2 L129.5,1959.1 L130.5,1959.0 L131.5,1958.9 L132.5,1958.9 L133.5,1958.8 L134.5,1958.7 L135.5,1958.6 L136.5,1958.5 L137.5,1958.4 L138.5,1958.3 L139.5,1958.2 L140.5,1958.0 L141.5,1957.9 L142.5,1957.8 L143.5,1957.6 L144.5,1957.4 L145.5,1957.3 L146.5,1957.1 L147.5,1956.9 L148.5,1956.7 L149.5,1956.4 L150.5,1956.2 L151.5,1956.0 L152.5,1955.7 L153.5,1955.4 L154.5,1955.1 L155.5,1954.8 L156.5,1954.4 L157.5,1954.0 L158.5,1953.7 L159.5,1953.2 L160.5,1952.8 L161.5,1952.3 L162.5,1951.8 L163.5,1951.3 L164.5,1950.8 L165.5,1950.2 L166.5,1949.5 L167.5,1948.9 L168.5,1948.2 L169.5,1947.5 L170.5,1946.7 L171.5,1945.9 L172.5,1945.0 L173.5,1944.1 L174.5,1943.2 L175.5,1942.2 L176.5,1941.2 L177.5,1940.1 L178.5,1939.0 L179.5,1937.8 L180.5,1936.6 L181.5,1935.3 L182.5,1933.9 L183.5,1932.5 L184.5,1931.1 L185.5,1929.6 L186.5,1928.0 L187.5,1926.4 L188.5,1924.7 L189.5,1923.0 L190.5,1921.2 L191.5,1919.3 L192.5,1917.4 L193.5,1915.4 L194.5,1913.4 L195.5,1911.3 L196.5,1909.1 L197.5,1906.9 L198.5,1904.7 L199.5,1902.4 L200.5,1900.0 L201.5,1897.6 L202.5,1895.1 L203.5,1892.6 L204.5,1890.1 L205.5,1887.5 L206.5,1884.9 L207.5,1882.2 L208.5,1879.5 L209.5,1876.8 L210.5,1874.1 L211.5,1871.3 L212.5,1868.6 L213.5,1865.8 L214.5,1863.0 L215.5,1860.2 L216.5,1857.4 L217.5,1854.7 L218.5,1851.9 L219.5,1849.2 L220.5,1846.4 L221.5,1843.8 L222.5,1841.1 L223.5,1838.5 L224.5,1835.9 L225.5,1833.4 L226.5,1831.0 L227.5,1828.6 L228.5,1826.3 L229.5,1824.0 L230.5,1821.9 L231.5,1819.8 L232.5,1817.9 L233.5,1816.0 L234.5,1814.2 L235.5,1812.6 L236.5,1811.1 L237.5,1809.7 L238.5,1808.4 L239.5,1807.2 L240.5,1806.2 L241.5,1805.4 L242.5,1804.6 L243.5,1804.1 L244.5,1803.6 L245.5,1803.3 L246.5,1803.2 L247.5,1803.2 L248.5,1803.4 L249.5,1803.7 L250.5,1804.2 L251.5,1804.8 L252.5,1805.5 L253.5,1806.4 L254.5,1807.4 L255.5,1808.6 L256.5,1809.9 L257.5,1811.3 L258.5,1812.9 L259.5,1814.5 L260.5,1816.3 L261.5,1818.2 L262.5,1820.3 L263.5,1822.4 L264.5,1824.6 L265.5,1826.9 L266.5,1829.3 L267.5,1831.7 L268.5,1834.3 L269.5,1836.9 L270.5,1839.6 L271.5,1842.3 L272.5,1845.1 L273.5,1847.9 L274.5,1850.7 L275.5,1853.6 L276.5,1856.5 L277.5,1859.4 L278.5,1862.4 L279.5,1865.3 L280.5,1868.3 L281.5,1871.2 L282.5,1874.1 L283.5,1877.0 L284.5,1879.9 L285.5,1882.8 L286.5,1885.6 L287.5,1888.4 L288.5,1891.2 L289.5,1893.9 L290.5,1896.6 L291.5,1899.2 L292.5,1901.8 L293.5,1904.4 L294.5,1906.8 L295.5,1909.2 L296.5,1911.6 L297.5,1913.9 L298.5,1916.1 L299.5,1918.3 L300.5,1920.4 L301.5,1922.5 L302.5,1924.4 L303.5,1926.3 L304.5,1928.2 L305.5,1930.0 L306.5,1931.7 L307.5,1933.3 L308.5,1934.9 L309.5,1936.4 L310.5,1937.9 L311.5,1939.3 L312.5,1940.6 L313.5,1941.9 L314.5,1943.1 L315.5,1944.2 L316.5,1945.3 L317.5,1946.4 L318.5,1947.4 L319.5,1948.3 L320.5,1949.2 L321.5,1950.0 L322.5,1950.8 L323.5,1951.6 L324.5,1952.3 L325.5,1953.0 L326.5,1953.6 L327.5,1954.2 L328.5,1954.8 L329.5,1955.3 L330.5,1955.8 L331.5,1956.2 L332.5,1956.6 L333.5,1957.0 L334.5,1957.4 L335.5,1957.8 L336.5,1958.1 L337.5,1958.4 L338.5,1958.7 L339.5,1958.9 L340.5,1959.2 L341.5,1959.4 L342.5,1959.6 L343.5,1959.8 L344.5,1960.0 L345.5,1960.1 L346.5,1960.3 L347.5,1960.4 L348.5,1960.5 L349.5,1960.6 L350.5,1960.8 L351.5,1960.8 L352.5,1960.9 L353.5,1961.0 L354.5,1961.1 L355.5,1961.2 L356.5,1961.2 L357.5,1961.3 L358.5,1961.3 L359.5,1961.4 L360.5,1961.4 L361.5,1961.5 L362.5,1961.5 L363.5,1961.5 L364.5,1961.6 L365.5,1961.6 L366.5,1961.6 L367.5,1961.6 L368.5,1961.6 L369.5,1961.7 L370.5,1961.7 L371.5,1961.7" stroke-width="2.8"/>
<path d="M16.5,1960.2 L17.5,1960.2 L18.5,1960.2 L19.5,1960.2 L20.5,1960.1 L21.5,1960.1 L22.5,1960.1 L23.5,1960.1 L24.5,1960.1 L25.5,1960.1 L26.5,1960.1 L27.5,1960.1 L28.5,1960.0 L29.5,1960.0 L30.5,1960.0 L31.5,1960.0 L32.5,1960.0 L33.5,1960.0 L34.5,1960.0 L35.5,1959.9 L36.5,1959.9 L37.5,1959.9 L38.5,1959.9 L39.5,1959.9 L40.5,1959.9 L41.5,1959.9 L42.5,1959.8 L43.5,1959.8 L44.5,1959.8 L45.5,1959.8 L46.5,1959.8 L47.5,1959.8 L48.5,1959.8 L49.5,1959.7 L50.5,1959.7 L51.5,1959.7 L52.5,1959.7 L53.5,1959.7 L54.5,1959.6 L55.5,1959.6 L56.5,1959.6 L57.5,1959.6 L58.5,1959.6 L59.5,1959.6 L60.5,1959.5 L61.5,1959.5 L62.5,1959.5 L63.5,1959.5 L64.5,1959.5 L65.5,1959.4 L66.5,1959.4 L67.5,1959.4 L68.5,1959.4 L69.5,1959.4 L70.5,1959.3 L71.5,1959.3 L72.5,1959.3 L73.5,1959.3 L74.5,1959.3 L75.5,1959.2 L76.5,1959.2 L77.5,1959.2 L78.5,1959.2 L79.5,1959.1 L80.5,1959.1 L81.5,1959.1 L82.5,1959.1 L83.5,1959.0 L84.5,1959.0 L85.5,1959.0 L86.5,1959.0 L87.5,1958.9 L88.5,1958.9 L89.5,1958.9 L90.5,1958.9 L91.5,1958.8 L92.5,1958.8 L93.5,1958.8 L94.5,1958.7 L95.5,1958.7 L96.5,1958.7 L97.5,1958.6 L98.5,1958.6 L99.5,1958.6 L100.5,1958.6 L101.5,1958.5 L102.5,1958.5 L103.5,1958.5 L104.5,1958.4 L105.5,1958.4 L106.5,1958.3 L107.5,1958.3 L108.5,1958.3 L109.5,1958.2 L110.5,1958.2 L111.5,1958.2 L112.5,1958.1 L113.5,1958.1 L114.5,1958.0 L115.5,1958.0 L116.5,1958.0 L117.5,1957.9 L118.5,1957.9 L119.5,1957.8 L120.5,1957.8 L121.5,1957.8 L122.5,1957.7 L123.5,1957.7 L124.5,1957.6 L125.5,1957.6 L126.5,1957.5 L127.5,1957.5 L128.5,1957.4 L129.5,1957.4 L130.5,1957.3 L131.5,1957.3 L132.5,1957.2 L133.5,1957.2 L134.5,1957.1 L135.5,1957.0 L136.5,1957.0 L137.5,1956.9 L138.5,1956.9 L139.5,1956.8 L140.5,1956.8 L141.5,1956.7 L142.5,1956.6 L143.5,1956.6 L144.5,1956.5 L145.5,1956.4 L146.5,1956.4 L147.5,1956.3 L148.5,1956.2 L149.5,1956.1 L150.5,1956.1 L151.5,1956.0 L152.5,1955.9 L153.5,1955.8 L154.5,1955.7 L155.5,1955.7 L156.5,1955.6 L157.5,1955.5 L158.5,1955.4 L159.5,1955.3 L160.5,1955.2 L161.5,1955.1 L162.5,1955.0 L163.5,1954.9 L164.5,1954.8 L165.5,1954.7 L166.5,1954.6 L167.5,1954.5 L168.5,1954.4 L169.5,1954.2 L170.5,1954.1 L171.5,1954.0 L172.5,1953.9 L173.5,1953.7 L174.5,1953.6 L175.5,1953.4 L176.5,1953.3 L177.5,1953.1 L178.5,1953.0 L179.5,1952.8 L180.5,1952.6 L181.5,1952.5 L182.5,1952.3 L183.5,1952.1 L184.5,1951.9 L185.5,1951.7 L186.5,1951.5 L187.5,1951.3 L188.5,1951.0 L189.5,1950.8 L190.5,1950.5 L191.5,1950.3 L192.5,1950.0 L193.5,1949.7 L194.5,1949.4 L195.5,1949.1 L196.5,1948.8 L197.5,1948.5 L198.5,1948.1 L199.5,1947.8 L200.5,1947.4 L201.5,1947.0 L202.5,1946.6 L203.5,1946.1 L204.5,1945.7 L205.5,1945.2 L206.5,1944.7 L207.5,1944.2 L208.5,1943.7 L209.5,1943.1 L210.5,1942.6 L211.5,1942.0 L212.5,1941.3 L213.5,1940.7 L214.5,1940.0 L215.5,1939.3 L216.5,1938.5 L217.5,1937.8 L218.5,1937.0 L219.5,1936.1 L220.5,1935.3 L221.5,1934.4 L222.5,1933.4 L223.5,1932.5 L224.5,1931.5 L225.5,1930.4 L226.5,1929.3 L227.5,1928.2 L228.5,1927.0 L229.5,1925.8 L230.5,1924.6 L231.5,1923.3 L232.5,1922.0 L233.5,1920.6 L234.5,1919.2 L235.5,1917.7 L236.5,1916.2 L237.5,1914.7 L238.5,1913.1 L239.5,1911.4 L240.5,1909.8 L241.5,1908.0 L242.5,1906.3 L243.5,1904.5 L244.5,1902.6 L245.5,1900.7 L246.5,1898.8 L247.5,1896.8 L248.5,1894.7 L249.5,1892.7 L250.5,1890.6 L251.5,1888.4 L252.5,1886.3 L253.5,1884.1 L254.5,1881.8 L255.5,1879.5 L256.5,1877.2 L257.5,1874.9 L258.5,1872.6 L259.5,1870.2 L260.5,1867.8 L261.5,1865.4 L262.5,1863.0 L263.5,1860.6 L264.5,1858.2 L265.5,1855.7 L266.5,1853.3 L267.5,1850.9 L268.5,1848.5 L269.5,1846.2 L270.5,1843.8 L271.5,1841.5 L272.5,1839.2 L273.5,1837.0 L274.5,1834.8 L275.5,1832.7 L276.5,1830.6 L277.5,1828.7 L278.5,1826.7 L279.5,1824.9 L280.5,1823.2 L281.5,1821.5 L282.5,1820.0 L283.5,1818.6 L284.5,1817.3 L285.5,1816.1 L286.5,1815.0 L287.5,1814.1 L288.5,1813.3 L289.5,1812.7 L290.5,1812.2 L291.5,1811.8 L292.5,1811.6 L293.5,1811.6 L294.5,1811.7 L295.5,1812.0 L296.5,1812.4 L297.5,1812.9 L298.5,1813.6 L299.5,1814.4 L300.5,1815.3 L301.5,1816.4 L302.5,1817.6 L303.5,1819.0 L304.5,1820.4 L305.5,1822.0 L306.5,1823.7 L307.5,1825.4 L308.5,1827.3 L309.5,1829.2 L310.5,1831.3 L311.5,1833.4 L312.5,1835.6 L313.5,1837.8 L314.5,1840.1 L315.5,1842.4 L316.5,1844.8 L317.5,1847.2 L318.5,1849.7 L319.5,1852.2 L320.5,1854.7 L321.5,1857.2 L322.5,1859.7 L323.5,1862.3 L324.5,1864.8 L325.5,1867.4 L326.5,1869.9 L327.5,1872.4 L328.5,1874.9 L329.5,1877.4 L330.5,1879.9 L331.5,1882.4 L332.5,1884.8 L333.5,1887.2 L334.5,1889.5 L335.5,1891.9 L336.5,1894.2 L337.5,1896.4 L338.5,1898.6 L339.5,1900.8 L340.5,1902.9 L341.5,1905.0 L342.5,1907.0 L343.5,1909.0 L344.5,1910.9 L345.5,1912.8 L346.5,1914.7 L347.5,1916.5 L348.5,1918.2 L349.5,1919.9 L350.5,1921.5 L351.5,1923.1 L352.5,1924.6 L353.5,1926.1 L354.5,1927.6 L355.5,1928.9 L356.5,1930.3 L357.5,1931.6 L358.5,1932.8 L359.5,1934.0 L360.5,1935.1 L361.5,1936.2 L362.5,1937.3 L363.5,1938.3 L364.5,1939.3 L365.5,1940.2 L366.5,1941.1 L367.5,1942.0 L368.5,1942.8 L369.5,1943.6 L370.5,1944.3 L371.5,1945.0 L372.5,1945.7 L373.5,1946.3 L374.5,1947.0 L375.5,1947.5 L376.5,1948.1 L377.5,1948.6 L378.5,1949.1 L379.5,1949.6 L380.5,1950.1 L381.5,1950.5 L382.5,1950.9 L383.5,1951.3 L384.5,1951.7 L385.5,1952.0 L386.5,1952.4 L387.5,1952.7 L388.5,1953.0 L389.5,1953.2 L390.5,1953.5 L391.5,1953.8 L392.5,1954.0 L393.5,1954.2 L394.5,1954.5 L395.5,1954.7 L396.5,1954.9 L397.5,1955.1 L398.5,1955.2 L399.5,1955.4 L400.5,1955.6 L401.5,1955.7 L402.5,1955.9 L403.5,1956.0 L404.5,1956.1 L405.5,1956.3 L406.5,1956.4 L407.5,1956.5 L408.5,1956.6 L409.5,1956.7 L410.5,1956.8 L411.5,1956.9 L412.5,1957.0 L413.5,1957.1 L414.5,1957.2 L415.5,1957.3 L416.5,1957.4 L417.5,1957.4 L418.5,1957.5 L419.5,1957.6 L420.5,1957.7 L421.5,1957.7 L422.5,1957.8 L423.5,1957.8 L424.5,1957.9 L425.5,1958.0 L426.5,1958.0 L427.5,1958.1 L428.5,1958.1 L429.5,1958.2 L430.5,1958.2 L431.5,1958.3 L432.5,1958.3 L433.5,1958.4 L434.5,1958.4 L435.5,1958.5 L436.5,1958.5 L437.5,1958.6 L438.5,1958.6 L439.5,1958.7 L440.5,1958.7 L441.5,1958.7 L442.5,1958.8 L443.5,1958.8 L444.5,1958.8 L445.5,1958.9 L446.5,1958.9 L447.5,1959.0 L448.5,1959.0 L449.5,1959.0 L450.5,1959.1 L451.5,1959.1 L452.5,1959.1 L453.5,1959.2 L454.5,1959.2 L455.5,1959.2 L456.5,1959.2 L457.5,1959.3 L458.5,1959.3 L459.5,1959.3 L460.5,1959.4 L461.5,1959.4 L462.5,1959.4 L463.5,1959.4 L464.5,1959.5 L465.5,1959.5 L466.5,1959.5 L467.5,1959.5 L468.5,1959.6 L469.5,1959.6 L470.5,1959.6 L471.5,1959.6 L472.5,1959.7 L473.5,1959.7 L474.5,1959.7 L475.5,1959.7 L476.5,1959.7 L477.5,1959.8 L478.5,1959.8 L479.5,1959.8 L480.5,1959.8 L481.5,1959.9 L482.5,1959.9 L483.5,1959.9 L484.5,1959.9 L485.5,1959.9 L486.5,1959.9 L487.5,1960.0 L488.5,1960.0 L489.5,1960.0 L490.5,1960.0 L491.5,1960.0 L492.5,1960.1 L493.5,1960.1 L494.5,1960.1 L495.5,1960.1 L496.5,1960.1 L497.5,1960.1 L498.5,1960.2 L499.5,1960.2 L500.5,1960.2 L501.5,1960.2 L502.5,1960.2 L503.5,1960.2 L504.5,1960.2 L505.5,1960.3 L506.5,1960.3 L507.5,1960.3 L508.5,1960.3 L509.5,1960.3 L510.5,1960.3 L511.5,1960.3 L512.5,1960.3 L513.5,1960.4 L514.5,1960.4 L515.5,1960.4 L516.5,1960.4 L517.5,1960.4 L518.5,1960.4 L519.5,1960.4 L520.5,1960.4 L521.5,1960.5 L522.5,1960.5 L523.5,1960.5 L524.5,1960.5 L525.5,1960.5 L526.5,1960.5 L527.5,1960.5 L528.5,1960.5 L529.5,1960.5 L530.5,1960.6 L531.5,1960.6 L532.5,1960.6 L533.5,1960.6 L534.5,1960.6 L535.5,1960.6 L536.5,1960.6 L537.5,1960.6 L538.5,1960.6 L539.5,1960.6 L540.5,1960.7 L541.5,1960.7 L542.5,1960.7 L543.5,1960.7 L544.5,1960.7 L545.5,1960.7 L546.5,1960.7 L547.5,1960.7 L548.5,1960.7 L549.5,1960.7 L550.5,1960.7 L551.5,1960.7 L552.5,1960.8 L553.5,1960.8 L554.5,1960.8 L555.5,1960.8 L556.5,1960.8 L557.5,1960.8 L558.5,1960.8 L559.5,1960.8 L560.5,1960.8 L561.5,1960.8 L562.5,1960.8 L563.5,1960.8 L564.5,1960.8 L565.5,1960.8 L566.5,1960.9 L567.5,1960.9 L568.5,1960.9 L569.5,1960.9 L570.5,1960.9 L571.5,1960.9 L572.5,1960.9 L573.5,1960.9 L574.5,1960.9 L575.5,1960.9 L576.5,1960.9 L577.5,1960.9 L578.5,1960.9 L579.5,1960.9 L580.5,1960.9 L581.5,1960.9 L582.5,1961.0 L583.5,1961.0 L584.5,1961.0 L585.5,1961.0 L586.5,1961.0 L587.5,1961.0 L588.5,1961.0 L589.5,1961.0 L590.5,1961.0 L591.5,1961.0 L592.5,1961.0 L593.5,1961.0 L594.5,1961.0 L595.5,1961.0 L596.5,1961.0 L597.5,1961.0 L598.5,1961.0 L599.5,1961.0 L600.5,1961.0 L601.5,1961.1 L602.5,1961.1 L603.5,1961.1 L604.5,1961.1 L605.5,1961.1 L606.5,1961.1 L607.5,1961.1 L608.5,1961.1 L609.5,1961.1 L610.5,1961.1 L611.5,1961.1 L612.5,1961.1 L613.5,1961.1 L614.5,1961.1 L615.5,1961.1 L616.5,1961.1 L617.5,1961.1 L618.5,1961.1 L619.5,1961.1 L620.5,1961.1 L621.5,1961.1 L622.5,1961.1 L623.5,1961.1 L624.5,1961.2 L625.5,1961.2 L626.5,1961.2 L627.5,1961.2 L628.5,1961.2 L629.5,1961.2 L630.5,1961.2 L631.5,1961.2 L632.5,1961.2 L633.5,1961.2 L634.5,1961.2 L635.5,1961.2 L636.5,1961.2 L637.5,1961.2 L638.5,1961.2 L639.5,1961.2 L640.5,1961.2 L641.5,1961.2 L642.5,1961.2 L643.5,1961.2 L644.5,1961.2 L645.5,1961.2 L646.5,1961.2 L647.5,1961.2 L648.5,1961.2 L649.5,1961.2 L650.5,1961.2 L651.5,1961.2 L652.5,1961.2 L653.5,1961.3 L654.5,1961.3 L655.5,1961.3 L656.5,1961.3 L657.5,1961.3 L658.5,1961.3 L659.5,1961.3 L660.5,1961.3 L661.5,1961.3 L662.5,1961.3 L663.5,1961.3 L664.5,1961.3 L665.5,1961.3 L666.5,1961.3 L667.5,1961.3 L668.5,1961.3 L669.5,1961.3 L670.5,1961.3 L671.5,1961.3 L672.5,1961.3 L673.5,1961.3 L674.5,1961.3 L675.5,1961.3 L676.5,1961.3 L677.5,1961.3 L678.5,1961.3 L679.5,1961.3 L680.5,1961.3 L681.5,1961.3 L682.5,1961.3 L683.5,1961.3 L684.5,1961.3 L685.5,1961.3 L686.5,1961.3 L687.5,1961.3 L688.5,1961.3 L689.5,1961.3 L690.5,1961.3 L691.5,1961.3 L692.5,1961.4 L693.5,1961.4 L694.5,1961.4 L695.5,1961.4 L696.5,1961.4 L697.5,1961.4 L698.5,1961.4 L699.5,1961.4 L700.5,1961.4 L701.5,1961.4 L702.5,1961.4 L703.5,1961.4 L704.5,1961.4 L705.5,1961.4 L706.5,1961.4 L707.5,1961.4 L708.5,1961.4 L709.5,1961.4 L710.5,1961.4 L711.5,1961.4 L712.5,1961.4 L713.5,1961.4 L714.5,1961.4 L715.5,1961.4 L716.5,1961.4 L717.5,1961.4 L718.5,1961.4 L719.5,1961.4 L720.5,1961.4 L721.5,1961.4 L722.5,1961.4 L723.5,1961.4 L724.5,1961.4 L725.5,1961.4 L726.5,1961.4 L727.5,1961.4 L728.5,1961.4 L729.5,1961.4 L730.5,1961.4 L731.5,1961.4 L732.5,1961.4 L733.5,1961.4 L734.5,1961.4 L735.5,1961.4 L736.5,1961.4 L737.5,1961.4 L738.5,1961.4 L739.5,1961.4 L740.5,1961.4 L741.5,1961.4 L742.5,1961.4 L743.5,1961.4 L744.5,1961.4 L745.5,1961.5 L746.5,1961.5 L747.5,1961.5 L748.5,1961.5 L749.5,1961.5 L750.5,1961.5 L751.5,1961.5 L752.5,1961.5 L753.5,1961.5 L754.5,1961.5 L755.5,1961.5 L756.5,1961.5 L757.5,1961.5 L758.5,1961.5 L759.5,1961.5 L760.5,1961.5 L761.5,1961.5 L762.5,1961.5 L763.5,1961.5 L764.5,1961.5 L765.5,1961.5 L766.5,1961.5 L767.5,1961.5 L768.5,1961.5 L769.5,1961.5 L770.5,1961.5 L771.5,1961.5 L772.5,1961.5 L773.5,1961.5 L774.5,1961.5 L775.5,1961.5 L776.5,1961.5 L777.5,1961.5 L778.5,1961.5 L779.5,1961.5 L780.5,1961.5 L781.5,1961.5 L782.5,1961.5 L783.5,1961.5 L784.5,1961.5 L785.5,1961.5 L786.5,1961.5 L787.5,1961.5 L788.5,1961.5 L789.5,1961.5 L790.5,1961.5 L791.5,1961.5 L792.5,1961.5 L793.5,1961.5 L794.5,1961.5 L795.5,1961.5 L796.5,1961.5 L797.5,1961.5 L798.5,1961.5 L799.5,1961.5 L800.5,1961.5 L801.5,1961.5 L802.5,1961.5 L803.5,1961.5 L804.5,1961.5 L805.5,1961.5 L806.5,1961.5 L807.5,1961.5 L808.5,1961.5 L809.5,1961.5 L810.5,1961.5 L811.5,1961.5 L812.5,1961.5 L813.5,1961.5 L814.5,1961.5 L815.5,1961.5 L816.5,1961.5 L817.5,1961.5 L818.5,1961.5 L819.5,1961.5 L820.5,1961.5 L821.5,1961.5 L822.5,1961.5 L823.5,1961.5 L824.5,1961.5 L825.5,1961.5 L826.5,1961.5 L827.5,1961.5 L828.5,1961.5 L829.5,1961.6 L830.5,1961.6 L831.5,1961.6 L832.5,1961.6 L833.5,1961.6 L834.5,1961.6 L835.5,1961.6 L836.5,1961.6 L837.5,1961.6 L838.5,1961.6 L839.5,1961.6 L840.5,1961.6 L841.5,1961.6 L842.5,1961.6 L843.5,1961.6 L844.5,1961.6 L845.5,1961.6 L846.5,1961.6 L847.5,1961.6 L848.5,1961.6 L849.5,1961.6 L850.5,1961.6 L851.5,1961.6 L852.5,1961.6 L853.5,1961.6 L854.5,1961.6 L855.5,1961.6 L856.5,1961.6 L857.5,1961.6 L858.5,1961.6 L859.5,1961.6 L860.5,1961.6 L861.5,1961.6 L862.5,1961.6 L863.5,1961.6 L864.5,1961.6 L865.5,1961.6 L866.5,1961.6 L867.5,1961.6 L868.5,1961.6 L869.5,1961.6 L870.5,1961.6 L871.5,1961.6 L872.5,1961.6 L873.5,1961.6 L874.5,1961.6 L875.5,1961.6 L876.5,1961.6 L877.5,1961.6 L878.5,1961.6 L879.5,1961.6 L880.5,1961.6 L881.5,1961.6 L882.5,1961.6 L883.5,1961.6 L884.5,1961.6 L885.5,1961.6 L886.5,1961.6 L887.5,1961.6 L888.5,1961.6 L889.5,1961.6 L890.5,1961.6 L891.5,1961.6 L892.5,1961.6 L893.5,1961.6 L894.5,1961.6 L895.5,1961.6 L896.5,1961.6 L897.5,1961.6 L898.5,1961.6 L899.5,1961.6 L900.5,1961.6 L901.5,1961.6 L902.5,1961.6 L903.5,1961.6 L904.5,1961.6 L905.5,1961.6 L906.5,1961.6 L907.5,1961.6 L908.5,1961.6 L909.5,1961.6 L910.5,1961.6 L911.5,1961.6 L912.5,1961.6 L913.5,1961.6 L914.5,1961.6 L915.5,1961.6 L916.5,1961.6 L917.5,1961.6 L918.5,1961.6 L919.5,1961.6 L920.5,1961.6 L921.5,1961.6 L922.5,1961.6 L923.5,1961.6 L924.5,1961.6 L925.5,1961.6 L926.5,1961.6 L927.5,1961.6 L928.5,1961.6 L929.5,1961.6 L930.5,1961.6 L931.5,1961.6 L932.5,1961.6 L933.5,1961.6 L934.5,1961.6 L935.5,1961.6 L936.5,1961.6 L937.5,1961.6 L938.5,1961.6 L939.5,1961.6 L940.5,1961.6 L941.5,1961.6 L942.5,1961.6 L943.5,1961.6 L944.5,1961.6 L945.5,1961.6 L946.5,1961.6 L947.5,1961.6 L948.5,1961.6 L949.5,1961.6 L950.5,1961.6 L951.5,1961.6 L952.5,1961.6 L953.5,1961.6 L954.5,1961.6 L955.5,1961.6 L956.5,1961.6 L957.5,1961.6 L958.5,1961.6 L959.5,1961.6 L960.5,1961.6 L961.5,1961.6 L962.5,1961.6 L963.5,1961.6 L964.5,1961.6 L965.5,1961.6 L966.5,1961.6 L967.5,1961.6 L968.5,1961.6 L969.5,1961.6 L970.5,1961.6 L971.5,1961.6 L972.5,1961.6 L973.5,1961.6 L974.5,1961.6 L975.5,1961.6 L976.5,1961.6 L977.5,1961.6 L978.5,1961.6 L979.5,1961.6 L980.5,1961.6 L981.5,1961.6 L982.5,1961.6 L983.5,1961.6 L984.5,1961.6 L985.5,1961.7 L986.5,1961.7 L987.5,1961.7 L988.5,1961.7 L989.5,1961.7 L990.5,1961.7 L991.5,1961.7 L992.5,1961.7" stroke-width="2.8"/>
<path d="M456.5,1961.7 L457.5,1961.7 L458.5,1961.6 L459.5,1961.5 L460.5,1961.5 L461.5,1961.4 L462.5,1961.3 L463.5,1961.1 L464.5,1960.9 L465.5,1960.7 L466.5,1960.5 L467.5,1960.2 L468.5,1959.9 L469.5,1959.5 L470.5,1959.1 L471.5,1958.6 L472.5,1958.0 L473.5,1957.4 L474.5,1956.8 L475.5,1956.1 L476.5,1955.4 L477.5,1954.7 L478.5,1953.9 L479.5,1953.1 L480.5,1952.4 L481.5,1951.6 L482.5,1951.0 L483.5,1950.3 L484.5,1949.8 L485.5,1949.3 L486.5,1948.9 L487.5,1948.6 L488.5,1948.4 L489.5,1948.4 L490.5,1948.5 L491.5,1948.7 L492.5,1949.0 L493.5,1949.4 L494.5,1949.9 L495.5,1950.4 L496.5,1951.1 L497.5,1951.8 L498.5,1952.5 L499.5,1953.3 L500.5,1954.0 L501.5,1954.8 L502.5,1955.5 L503.5,1956.3 L504.5,1956.9 L505.5,1957.6 L506.5,1958.1 L507.5,1958.7 L508.5,1959.1 L509.5,1959.6 L510.5,1959.9 L511.5,1960.3 L512.5,1960.5 L513.5,1960.8 L514.5,1961.0 L515.5,1961.1 L516.5,1961.3 L517.5,1961.4 L518.5,1961.5 L519.5,1961.6 L520.5,1961.6 L521.5,1961.7 L522.5,1961.7" stroke-width="2.8"/>
<path d="M486.5,1961.7 L487.5,1961.7 L488.5,1961.7 L489.5,1961.6 L490.5,1961.6 L491.5,1961.6 L492.5,1961.6 L493.5,1961.6 L494.5,1961.5 L495.5,1961.5 L496.5,1961.5 L497.5,1961.4 L498.5,1961.4 L499.5,1961.4 L500.5,1961.3 L501.5,1961.3 L502.5,1961.2 L503.5,1961.1 L504.5,1961.1 L505.5,1961.0 L506.5,1960.9 L507.5,1960.8 L508.5,1960.7 L509.5,1960.6 L510.5,1960.5 L511.5,1960.4 L512.5,1960.3 L513.5,1960.2 L514.5,1960.0 L515.5,1959.8 L516.5,1959.7 L517.5,1959.5 L518.5,1959.3 L519.5,1959.1 L520.5,1958.8 L521.5,1958.6 L522.5,1958.3 L523.5,1958.1 L524.5,1957.8 L525.5,1957.4 L526.5,1957.1 L527.5,1956.7 L528.5,1956.4 L529.5,1955.9 L530.5,1955.5 L531.5,1955.1 L532.5,1954.6 L533.5,1954.1 L534.5,1953.5 L535.5,1953.0 L536.5,1952.4 L537.5,1951.8 L538.5,1951.1 L539.5,1950.4 L540.5,1949.7 L541.5,1948.9 L542.5,1948.2 L543.5,1947.3 L544.5,1946.5 L545.5,1945.6 L546.5,1944.7 L547.5,1943.7 L548.5,1942.7 L549.5,1941.7 L550.5,1940.7 L551.5,1939.6 L552.5,1938.5 L553.5,1937.3 L554.5,1936.1 L555.5,1934.9 L556.5,1933.6 L557.5,1932.4 L558.5,1931.1 L559.5,1929.7 L560.5,1928.4 L561.5,1927.0 L562.5,1925.6 L563.5,1924.2 L564.5,1922.8 L565.5,1921.3 L566.5,1919.8 L567.5,1918.4 L568.5,1916.9 L569.5,1915.4 L570.5,1913.9 L571.5,1912.4 L572.5,1910.9 L573.5,1909.5 L574.5,1908.0 L575.5,1906.6 L576.5,1905.1 L577.5,1903.7 L578.5,1902.3 L579.5,1900.9 L580.5,1899.6 L581.5,1898.3 L582.5,1897.0 L583.5,1895.8 L584.5,1894.6 L585.5,1893.5 L586.5,1892.4 L587.5,1891.4 L588.5,1890.4 L589.5,1889.5 L590.5,1888.6 L591.5,1887.8 L592.5,1887.1 L593.5,1886.4 L594.5,1885.8 L595.5,1885.3 L596.5,1884.9 L597.5,1884.5 L598.5,1884.2 L599.5,1883.9 L600.5,1883.8 L601.5,1883.7 L602.5,1883.7 L603.5,1883.8 L604.5,1883.9 L605.5,1884.2 L606.5,1884.5 L607.5,1884.9 L608.5,1885.3 L609.5,1885.8 L610.5,1886.4 L611.5,1887.1 L612.5,1887.8 L613.5,1888.6 L614.5,1889.5 L615.5,1890.4 L616.5,1891.4 L617.5,1892.4 L618.5,1893.5 L619.5,1894.6 L620.5,1895.8 L621.5,1897.0 L622.5,1898.3 L623.5,1899.6 L624.5,1900.9 L625.5,1902.3 L626.5,1903.7 L627.5,1905.1 L628.5,1906.6 L629.5,1908.0 L630.5,1909.5 L631.5,1910.9 L632.5,1912.4 L633.5,1913.9 L634.5,1915.4 L635.5,1916.9 L636.5,1918.4 L637.5,1919.8 L638.5,1921.3 L639.5,1922.8 L640.5,1924.2 L641.5,1925.6 L642.5,1927.0 L643.5,1928.4 L644.5,1929.7 L645.5,1931.1 L646.5,1932.4 L647.5,1933.6 L648.5,1934.9 L649.5,1936.1 L650.5,1937.3 L651.5,1938.5 L652.5,1939.6 L653.5,1940.7 L654.5,1941.7 L655.5,1942.7 L656.5,1943.7 L657.5,1944.7 L658.5,1945.6 L659.5,1946.5 L660.5,1947.3 L661.5,1948.2 L662.5,1948.9 L663.5,1949.7 L664.5,1950.4 L665.5,1951.1 L666.5,1951.8 L667.5,1952.4 L668.5,1953.0 L669.5,1953.5 L670.5,1954.1 L671.5,1954.6 L672.5,1955.1 L673.5,1955.5 L674.5,1955.9 L675.5,1956.4 L676.5,1956.7 L677.5,1957.1 L678.5,1957.4 L679.5,1957.8 L680.5,1958.1 L681.5,1958.3 L682.5,1958.6 L683.5,1958.8 L684.5,1959.1 L685.5,1959.3 L686.5,1959.5 L687.5,1959.7 L688.5,1959.8 L689.5,1960.0 L690.5,1960.2 L691.5,1960.3 L692.5,1960.4 L693.5,1960.5 L694.5,1960.6 L695.5,1960.7 L696.5,1960.8 L697.5,1960.9 L698.5,1961.0 L699.5,1961.1 L700.5,1961.1 L701.5,1961.2 L702.5,1961.3 L703.5,1961.3 L704.5,1961.4 L705.5,1961.4 L706.5,1961.4 L707.5,1961.5 L708.5,1961.5 L709.5,1961.5 L710.5,1961.6 L711.5,1961.6 L712.5,1961.6 L713.5,1961.6 L714.5,1961.6 L715.5,1961.7 L716.5,1961.7 L717.5,1961.7" stroke-width="2.8"/>
<path d="M539.5,1961.7 L540.5,1961.7 L541.5,1961.7 L542.5,1961.7 L543.5,1961.7 L544.5,1961.6 L545.5,1961.6 L546.5,1961.6 L547.5,1961.6 L548.5,1961.6 L549.5,1961.6 L550.5,1961.6 L551.5,1961.6 L552.5,1961.5 L553.5,1961.5 L554.5,1961.5 L555.5,1961.5 L556.5,1961.5 L557.5,1961.4 L558.5,1961.4 L559.5,1961.4 L560.5,1961.4 L561.5,1961.3 L562.5,1961.3 L563.5,1961.3 L564.5,1961.3 L565.5,1961.2 L566.5,1961.2 L567.5,1961.1 L568.5,1961.1 L569.5,1961.1 L570.5,1961.0 L571.5,1961.0 L572.5,1960.9 L573.5,1960.9 L574.5,1960.8 L575.5,1960.8 L576.5,1960.7 L577.5,1960.7 L578.5,1960.6 L579.5,1960.5 L580.5,1960.5 L581.5,1960.4 L582.5,1960.3 L583.5,1960.2 L584.5,1960.2 L585.5,1960.1 L586.5,1960.0 L587.5,1959.9 L588.5,1959.8 L589.5,1959.7 L590.5,1959.6 L591.5,1959.5 L592.5,1959.3 L593.5,1959.2 L594.5,1959.1 L595.5,1959.0 L596.5,1958.8 L597.5,1958.7 L598.5,1958.5 L599.5,1958.4 L600.5,1958.2 L601.5,1958.0 L602.5,1957.9 L603.5,1957.7 L604.5,1957.5 L605.5,1957.3 L606.5,1957.1 L607.5,1956.9 L608.5,1956.7 L609.5,1956.4 L610.5,1956.2 L611.5,1956.0 L612.5,1955.7 L613.5,1955.4 L614.5,1955.2 L615.5,1954.9 L616.5,1954.6 L617.5,1954.3 L618.5,1954.0 L619.5,1953.7 L620.5,1953.4 L621.5,1953.0 L622.5,1952.7 L623.5,1952.3 L624.5,1952.0 L625.5,1951.6 L626.5,1951.2 L627.5,1950.8 L628.5,1950.4 L629.5,1950.0 L630.5,1949.6 L631.5,1949.1 L632.5,1948.7 L633.5,1948.2 L634.5,1947.7 L635.5,1947.2 L636.5,1946.7 L637.5,1946.2 L638.5,1945.7 L639.5,1945.2 L640.5,1944.6 L641.5,1944.1 L642.5,1943.5 L643.5,1942.9 L644.5,1942.3 L645.5,1941.7 L646.5,1941.1 L647.5,1940.5 L648.5,1939.9 L649.5,1939.2 L650.5,1938.6 L651.5,1937.9 L652.5,1937.2 L653.5,1936.5 L654.5,1935.8 L655.5,1935.1 L656.5,1934.4 L657.5,1933.6 L658.5,1932.9 L659.5,1932.2 L660.5,1931.4 L661.5,1930.6 L662.5,1929.9 L663.5,1929.1 L664.5,1928.3 L665.5,1927.5 L666.5,1926.7 L667.5,1925.9 L668.5,1925.1 L669.5,1924.2 L670.5,1923.4 L671.5,1922.6 L672.5,1921.7 L673.5,1920.9 L674.5,1920.1 L675.5,1919.2 L676.5,1918.4 L677.5,1917.5 L678.5,1916.7 L679.5,1915.8 L680.5,1915.0 L681.5,1914.1 L682.5,1913.3 L683.5,1912.5 L684.5,1911.6 L685.5,1910.8 L686.5,1909.9 L687.5,1909.1 L688.5,1908.3 L689.5,1907.5 L690.5,1906.7 L691.5,1905.9 L692.5,1905.1 L693.5,1904.3 L694.5,1903.5 L695.5,1902.8 L696.5,1902.0 L697.5,1901.3 L698.5,1900.5 L699.5,1899.8 L700.5,1899.1 L701.5,1898.4 L702.5,1897.7 L703.5,1897.1 L704.5,1896.4 L705.5,1895.8 L706.5,1895.2 L707.5,1894.6 L708.5,1894.0 L709.5,1893.5 L710.5,1893.0 L711.5,1892.4 L712.5,1891.9 L713.5,1891.5 L714.5,1891.0 L715.5,1890.6 L716.5,1890.2 L717.5,1889.8 L718.5,1889.4 L719.5,1889.1 L720.5,1888.8 L721.5,1888.5 L722.5,1888.2 L723.5,1888.0 L724.5,1887.8 L725.5,1887.6 L726.5,1887.4 L727.5,1887.3 L728.5,1887.2 L729.5,1887.1 L730.5,1887.0 L731.5,1887.0 L732.5,1887.0 L733.5,1887.0 L734.5,1887.1 L735.5,1887.1 L736.5,1887.2 L737.5,1887.4 L738.5,1887.5 L739.5,1887.7 L740.5,1887.9 L741.5,1888.1 L742.5,1888.3 L743.5,1888.6 L744.5,1888.9 L745.5,1889.2 L746.5,1889.6 L747.5,1890.0 L748.5,1890.4 L749.5,1890.8 L750.5,1891.2 L751.5,1891.7 L752.5,1892.1 L753.5,1892.6 L754.5,1893.2 L755.5,1893.7 L756.5,1894.3 L757.5,1894.9 L758.5,1895.5 L759.5,1896.1 L760.5,1896.7 L761.5,1897.3 L762.5,1898.0 L763.5,1898.7 L764.5,1899.4 L765.5,1900.1 L766.5,1900.8 L767.5,1901.6 L768.5,1902.3 L769.5,1903.1 L770.5,1903.8 L771.5,1904.6 L772.5,1905.4 L773.5,1906.2 L774.5,1907.0 L775.5,1907.8 L776.5,1908.6 L777.5,1909.4 L778.5,1910.3 L779.5,1911.1 L780.5,1911.9 L781.5,1912.8 L782.5,1913.6 L783.5,1914.5 L784.5,1915.3 L785.5,1916.2 L786.5,1917.0 L787.5,1917.9 L788.5,1918.7 L789.5,1919.6 L790.5,1920.4 L791.5,1921.2 L792.5,1922.1 L793.5,1922.9 L794.5,1923.7 L795.5,1924.6 L796.5,1925.4 L797.5,1926.2 L798.5,1927.0 L799.5,1927.8 L800.5,1928.6 L801.5,1929.4 L802.5,1930.2 L803.5,1930.9 L804.5,1931.7 L805.5,1932.5 L806.5,1933.2 L807.5,1933.9 L808.5,1934.7 L809.5,1935.4 L810.5,1936.1 L811.5,1936.8 L812.5,1937.5 L813.5,1938.2 L814.5,1938.8 L815.5,1939.5 L816.5,1940.1 L817.5,1940.7 L818.5,1941.4 L819.5,1942.0 L820.5,1942.6 L821.5,1943.2 L822.5,1943.7 L823.5,1944.3 L824.5,1944.9 L825.5,1945.4 L826.5,1945.9 L827.5,1946.4 L828.5,1946.9 L829.5,1947.4 L830.5,1947.9 L831.5,1948.4 L832.5,1948.8 L833.5,1949.3 L834.5,1949.7 L835.5,1950.2 L836.5,1950.6 L837.5,1951.0 L838.5,1951.4 L839.5,1951.7 L840.5,1952.1 L841.5,1952.5 L842.5,1952.8 L843.5,1953.2 L844.5,1953.5 L845.5,1953.8 L846.5,1954.1 L847.5,1954.4 L848.5,1954.7 L849.5,1955.0 L850.5,1955.3 L851.5,1955.5 L852.5,1955.8 L853.5,1956.0 L854.5,1956.3 L855.5,1956.5 L856.5,1956.7 L857.5,1957.0 L858.5,1957.2 L859.5,1957.4 L860.5,1957.6 L861.5,1957.7 L862.5,1957.9 L863.5,1958.1 L864.5,1958.3 L865.5,1958.4 L866.5,1958.6 L867.5,1958.7 L868.5,1958.9 L869.5,1959.0 L870.5,1959.1 L871.5,1959.3 L872.5,1959.4 L873.5,1959.5 L874.5,1959.6 L875.5,1959.7 L876.5,1959.8 L877.5,1959.9 L878.5,1960.0 L879.5,1960.1 L880.5,1960.2 L881.5,1960.3 L882.5,1960.3 L883.5,1960.4 L884.5,1960.5 L885.5,1960.6 L886.5,1960.6 L887.5,1960.7 L888.5,1960.7 L889.5,1960.8 L890.5,1960.9 L891.5,1960.9 L892.5,1961.0 L893.5,1961.0 L894.5,1961.0 L895.5,1961.1 L896.5,1961.1 L897.5,1961.2 L898.5,1961.2 L899.5,1961.2 L900.5,1961.3 L901.5,1961.3 L902.5,1961.3 L903.5,1961.4 L904.5,1961.4 L905.5,1961.4 L906.5,1961.4 L907.5,1961.4 L908.5,1961.5 L909.5,1961.5 L910.5,1961.5 L911.5,1961.5 L912.5,1961.5 L913.5,1961.6 L914.5,1961.6 L915.5,1961.6 L916.5,1961.6 L917.5,1961.6 L918.5,1961.6 L919.5,1961.6 L920.5,1961.6 L921.5,1961.7 L922.5,1961.7 L923.5,1961.7 L924.5,1961.7" stroke-width="2.8"/>
<path d="M775.5,1961.7 L776.5,1961.7 L777.5,1961.7 L778.5,1961.6 L779.5,1961.6 L780.5,1961.6 L781.5,1961.6 L782.5,1961.5 L783.5,1961.5 L784.5,1961.5 L785.5,1961.4 L786.5,1961.4 L787.5,1961.3 L788.5,1961.3 L789.5,1961.2 L790.5,1961.2 L791.5,1961.1 L792.5,1961.0 L793.5,1961.0 L794.5,1960.9 L795.5,1960.8 L796.5,1960.7 L797.5,1960.6 L798.5,1960.5 L799.5,1960.4 L800.5,1960.3 L801.5,1960.1 L802.5,1960.0 L803.5,1959.9 L804.5,1959.7 L805.5,1959.6 L806.5,1959.4 L807.5,1959.2 L808.5,1959.0 L809.5,1958.8 L810.5,1958.6 L811.5,1958.4 L812.5,1958.2 L813.5,1958.0 L814.5,1957.8 L815.5,1957.6 L816.5,1957.3 L817.5,1957.1 L818.5,1956.9 L819.5,1956.6 L820.5,1956.4 L821.5,1956.1 L822.5,1955.9 L823.5,1955.6 L824.5,1955.4 L825.5,1955.2 L826.5,1954.9 L827.5,1954.7 L828.5,1954.5 L829.5,1954.3 L830.5,1954.0 L831.5,1953.8 L832.5,1953.7 L833.5,1953.5 L834.5,1953.3 L835.5,1953.1 L836.5,1953.0 L837.5,1952.9 L838.5,1952.8 L839.5,1952.7 L840.5,1952.6 L841.5,1952.5 L842.5,1952.5 L843.5,1952.4 L844.5,1952.4 L845.5,1952.4 L846.5,1952.4 L847.5,1952.5 L848.5,1952.5 L849.5,1952.6 L850.5,1952.7 L851.5,1952.8 L852.5,1952.9 L853.5,1953.0 L854.5,1953.1 L855.5,1953.3 L856.5,1953.5 L857.5,1953.7 L858.5,1953.8 L859.5,1954.0 L860.5,1954.3 L861.5,1954.5 L862.5,1954.7 L863.5,1954.9 L864.5,1955.2 L865.5,1955.4 L866.5,1955.6 L867.5,1955.9 L868.5,1956.1 L869.5,1956.4 L870.5,1956.6 L871.5,1956.9 L872.5,1957.1 L873.5,1957.3 L874.5,1957.6 L875.5,1957.8 L876.5,1958.0 L877.5,1958.2 L878.5,1958.4 L879.5,1958.6 L880.5,1958.8 L881.5,1959.0 L882.5,1959.2 L883.5,1959.4 L884.5,1959.6 L885.5,1959.7 L886.5,1959.9 L887.5,1960.0 L888.5,1960.1 L889.5,1960.3 L890.5,1960.4 L891.5,1960.5 L892.5,1960.6 L893.5,1960.7 L894.5,1960.8 L895.5,1960.9 L896.5,1961.0 L897.5,1961.0 L898.5,1961.1 L899.5,1961.2 L900.5,1961.2 L901.5,1961.3 L902.5,1961.3 L903.5,1961.4 L904.5,1961.4 L905.5,1961.5 L906.5,1961.5 L907.5,1961.5 L908.5,1961.6 L909.5,1961.6 L910.5,1961.6 L911.5,1961.6 L912.5,1961.7 L913.5,1961.7 L914.5,1961.7" stroke-width="2.8"/>
<path d="M16.5,1961.5 L17.5,1961.5 L18.5,1961.6 L19.5,1961.6 L20.5,1961.6 L21.5,1961.6 L22.5,1961.6 L23.5,1961.6 L24.5,1961.7 L25.5,1961.7 L26.5,1961.7 L27.5,1961.7 L28.5,1961.7 L29.5,1961.7 L30.5,1961.7 L31.5,1961.7 L32.5,1961.7 L33.5,1961.7 L34.5,1961.7 L35.5,1961.7 L36.5,1961.7 L37.5,1961.7 L38.5,1961.7 L39.5,1961.7 L40.5,1961.7 L41.5,1961.7 L42.5,1961.7 L43.5,1961.7 L44.5,1961.7 L45.5,1961.7 L46.5,1961.7 L47.5,1961.7 L48.5,1961.7 L49.5,1961.7 L50.5,1961.6 L51.5,1961.6 L52.5,1961.6 L53.5,1961.6 L54.5,1961.6 L55.5,1961.6 L56.5,1961.6 L57.5,1961.5 L58.5,1961.5 L59.5,1961.5 L60.5,1961.5 L61.5,1961.5 L62.5,1961.5 L63.5,1961.4 L64.5,1961.4 L65.5,1961.4 L66.5,1961.3 L67.5,1961.3 L68.5,1961.3 L69.5,1961.2 L70.5,1961.2 L71.5,1961.2 L72.5,1961.1 L73.5,1961.1 L74.5,1961.0 L75.5,1961.0 L76.5,1960.9 L77.5,1960.9 L78.5,1960.8 L79.5,1960.8 L80.5,1960.7 L81.5,1960.6 L82.5,1960.6 L83.5,1960.5 L84.5,1960.5 L85.5,1960.4 L86.5,1960.3 L87.5,1960.3 L88.5,1960.2 L89.5,1960.2 L90.5,1960.1 L91.5,1960.0 L92.5,1960.0 L93.5,1959.9 L94.5,1959.8 L95.5,1959.8 L96.5,1959.7 L97.5,1959.6 L98.5,1959.6 L99.5,1959.5 L100.5,1959.4 L101.5,1959.4 L102.5,1959.3 L103.5,1959.2 L104.5,1959.2 L105.5,1959.1 L106.5,1959.0 L107.5,1959.0 L108.5,1958.9 L109.5,1958.9 L110.5,1958.8 L111.5,1958.7 L112.5,1958.7 L113.5,1958.6 L114.5,1958.4 L115.5,1958.3 L116.5,1958.2 L117.5,1958.0 L118.5,1957.9 L119.5,1957.7 L120.5,1957.6 L121.5,1957.4 L122.5,1957.2 L123.5,1957.0 L124.5,1956.8 L125.5,1956.6 L126.5,1956.4 L127.5,1956.2 L128.5,1955.9 L129.5,1955.7 L130.5,1955.5 L131.5,1955.3 L132.5,1955.0 L133.5,1954.8 L134.5,1954.6 L135.5,1954.0 L136.5,1953.3 L137.5,1952.3 L138.5,1951.0 L139.5,1949.6 L140.5,1948.1 L141.5,1946.4 L142.5,1944.6 L143.5,1942.7 L144.5,1940.7 L145.5,1938.2 L146.5,1935.2 L147.5,1931.7 L148.5,1927.7 L149.5,1923.3 L150.5,1918.6 L151.5,1913.5 L152.5,1908.1 L153.5,1902.5 L154.5,1896.5 L155.5,1890.1 L156.5,1883.1 L157.5,1875.6 L158.5,1867.4 L159.5,1858.5 L160.5,1848.8 L161.5,1838.3 L162.5,1827.4 L163.5,1816.1 L164.5,1804.6 L165.5,1792.8 L166.5,1780.7 L167.5,1768.5 L168.5,1756.0 L169.5,1743.1 L170.5,1730.2 L171.5,1717.1 L172.5,1704.1 L173.5,1691.3 L174.5,1678.7 L175.5,1666.7 L176.5,1655.3 L177.5,1644.6 L178.5,1634.4 L179.5,1624.8 L180.5,1616.5 L181.5,1610.1 L182.5,1604.9 L183.5,1600.4 L184.5,1597.2 L185.5,1595.6 L186.5,1596.3 L187.5,1598.3 L188.5,1601.2 L189.5,1605.0 L190.5,1609.9 L191.5,1616.0 L192.5,1622.5 L193.5,1629.0 L194.5,1635.6 L195.5,1642.2 L196.5,1648.8 L197.5,1655.3 L198.5,1661.7 L199.5,1668.1 L200.5,1674.6 L201.5,1681.0 L202.5,1687.3 L203.5,1693.6 L204.5,1699.8 L205.5,1706.0 L206.5,1712.0 L207.5,1717.4 L208.5,1721.9 L209.5,1725.6 L210.5,1728.6 L211.5,1731.1 L212.5,1733.2 L213.5,1735.0 L214.5,1736.7 L215.5,1738.5 L216.5,1740.1 L217.5,1741.5 L218.5,1742.7 L219.5,1743.7 L220.5,1744.3 L221.5,1744.6 L222.5,1744.5 L223.5,1744.0 L224.5,1743.2 L225.5,1742.2 L226.5,1740.8 L227.5,1739.2 L228.5,1737.2 L229.5,1734.9 L230.5,1732.2 L231.5,1729.2 L232.5,1725.8 L233.5,1722.3 L234.5,1718.7 L235.5,1715.1 L236.5,1711.7 L237.5,1708.5 L238.5,1705.6 L239.5,1703.0 L240.5,1700.4 L241.5,1697.8 L242.5,1695.3 L243.5,1692.9 L244.5,1690.5 L245.5,1688.3 L246.5,1686.0 L247.5,1683.9 L248.5,1681.9 L249.5,1680.0 L250.5,1678.2 L251.5,1676.5 L252.5,1674.8 L253.5,1673.3 L254.5,1671.8 L255.5,1670.5 L256.5,1669.1 L257.5,1667.9 L258.5,1666.7 L259.5,1665.6 L260.5,1664.5 L261.5,1663.5 L262.5,1662.7 L263.5,1662.0 L264.5,1661.5 L265.5,1661.2 L266.5,1661.0 L267.5,1661.0 L268.5,1661.3 L269.5,1661.8 L270.5,1662.5 L271.5,1663.5 L272.5,1664.7 L273.5,1666.1 L274.5,1667.7 L275.5,1669.5 L276.5,1671.4 L277.5,1673.4 L278.5,1675.4 L279.5,1677.5 L280.5,1679.8 L281.5,1682.1 L282.5,1684.6 L283.5,1687.3 L284.5,1690.1 L285.5,1693.2 L286.5,1696.4 L287.5,1699.9 L288.5,1703.6 L289.5,1707.6 L290.5,1711.6 L291.5,1715.6 L292.5,1719.6 L293.5,1723.7 L294.5,1727.7 L295.5,1731.7 L296.5,1735.8 L297.5,1739.8 L298.5,1743.8 L299.5,1747.9 L300.5,1751.9 L301.5,1755.9 L302.5,1759.9 L303.5,1763.9 L304.5,1767.9 L305.5,1771.9 L306.5,1775.9 L307.5,1779.9 L308.5,1783.9 L309.5,1787.8 L310.5,1791.8 L311.5,1795.8 L312.5,1799.8 L313.5,1803.8 L314.5,1807.7 L315.5,1811.7 L316.5,1815.7 L317.5,1819.5 L318.5,1823.3 L319.5,1827.1 L320.5,1830.7 L321.5,1834.3 L322.5,1837.8 L323.5,1841.3 L324.5,1844.7 L325.5,1848.0 L326.5,1851.3 L327.5,1854.5 L328.5,1857.7 L329.5,1860.8 L330.5,1863.8 L331.5,1866.8 L332.5,1869.6 L333.5,1872.3 L334.5,1875.0 L335.5,1877.5 L336.5,1880.0 L337.5,1882.4 L338.5,1884.7 L339.5,1887.0 L340.5,1889.2 L341.5,1891.3 L342.5,1893.4 L343.5,1895.4 L344.5,1897.4 L345.5,1899.4 L346.5,1901.3 L347.5,1903.2 L348.5,1905.1 L349.5,1906.9 L350.5,1908.6 L351.5,1910.3 L352.5,1912.0 L353.5,1913.6 L354.5,1915.1 L355.5,1916.6 L356.5,1918.0 L357.5,1919.3 L358.5,1920.7 L359.5,1922.0 L360.5,1923.3 L361.5,1924.6 L362.5,1925.8 L363.5,1926.9 L364.5,1928.0 L365.5,1929.1 L366.5,1930.1 L367.5,1931.0 L368.5,1931.9 L369.5,1932.7 L370.5,1933.4 L371.5,1934.1 L372.5,1934.8 L373.5,1935.5 L374.5,1936.2 L375.5,1936.8 L376.5,1937.5 L377.5,1938.1 L378.5,1938.7 L379.5,1939.2 L380.5,1939.7 L381.5,1940.2 L382.5,1940.7 L383.5,1941.1 L384.5,1941.6 L385.5,1942.0 L386.5,1942.4 L387.5,1942.8 L388.5,1943.2 L389.5,1943.6 L390.5,1944.1 L391.5,1944.5 L392.5,1944.9 L393.5,1945.2 L394.5,1945.6 L395.5,1946.0 L396.5,1946.4 L397.5,1946.8 L398.5,1947.1 L399.5,1947.5 L400.5,1947.8 L401.5,1948.2 L402.5,1948.6 L403.5,1948.9 L404.5,1949.3 L405.5,1949.6 L406.5,1950.0 L407.5,1950.3 L408.5,1950.7 L409.5,1951.0 L410.5,1951.3 L411.5,1951.7 L412.5,1952.0 L413.5,1952.3 L414.5,1952.7 L415.5,1953.0 L416.5,1953.3 L417.5,1953.6 L418.5,1953.8 L419.5,1954.1 L420.5,1954.4 L421.5,1954.6 L422.5,1954.9 L423.5,1955.1 L424.5,1955.4 L425.5,1955.6 L426.5,1955.9 L427.5,1956.1 L428.5,1956.3 L429.5,1956.6 L430.5,1956.8 L431.5,1957.0 L432.5,1957.2 L433.5,1957.4 L434.5,1957.6 L435.5,1957.7 L436.5,1957.9 L437.5,1958.0 L438.5,1958.1 L439.5,1958.2 L440.5,1958.3 L441.5,1958.3 L442.5,1958.4 L443.5,1958.4 L444.5,1958.5 L445.5,1958.5 L446.5,1958.5 L447.5,1958.5 L448.5,1958.5 L449.5,1958.4 L450.5,1958.3 L451.5,1958.1 L452.5,1957.9 L453.5,1957.7 L454.5,1957.4 L455.5,1957.1 L456.5,1956.8 L457.5,1956.4 L458.5,1956.0 L459.5,1955.6 L460.5,1955.2 L461.5,1954.7 L462.5,1954.2 L463.5,1953.8 L464.5,1953.2 L465.5,1952.7 L466.5,1952.0 L467.5,1951.2 L468.5,1950.5 L469.5,1949.6 L470.5,1948.8 L471.5,1947.9 L472.5,1947.0 L473.5,1946.2 L474.5,1945.4 L475.5,1944.6 L476.5,1944.0 L477.5,1943.4 L478.5,1942.8 L479.5,1942.3 L480.5,1941.8 L481.5,1941.4 L482.5,1941.0 L483.5,1940.6 L484.5,1940.3 L485.5,1940.1 L486.5,1940.0 L487.5,1939.9 L488.5,1939.9 L489.5,1940.0 L490.5,1940.2 L491.5,1940.4 L492.5,1940.7 L493.5,1941.1 L494.5,1941.4 L495.5,1941.8 L496.5,1942.2 L497.5,1942.6 L498.5,1943.0 L499.5,1943.4 L500.5,1943.8 L501.5,1944.1 L502.5,1944.5 L503.5,1944.7 L504.5,1945.0 L505.5,1945.2 L506.5,1945.4 L507.5,1945.6 L508.5,1945.8 L509.5,1946.0 L510.5,1946.1 L511.5,1946.3 L512.5,1946.4 L513.5,1946.6 L514.5,1946.7 L515.5,1946.8 L516.5,1947.0 L517.5,1947.1 L518.5,1947.1 L519.5,1947.2 L520.5,1947.3 L521.5,1947.3 L522.5,1947.3 L523.5,1947.3 L524.5,1947.2 L525.5,1947.1 L526.5,1946.9 L527.5,1946.7 L528.5,1946.5 L529.5,1946.3 L530.5,1946.0 L531.5,1945.7 L532.5,1945.4 L533.5,1945.1 L534.5,1944.7 L535.5,1944.3 L536.5,1944.0 L537.5,1943.6 L538.5,1943.2 L539.5,1942.8 L540.5,1942.3 L541.5,1941.8 L542.5,1941.3 L543.5,1940.7 L544.5,1940.0 L545.5,1939.3 L546.5,1938.5 L547.5,1937.7 L548.5,1936.7 L549.5,1935.7 L550.5,1934.6 L551.5,1933.4 L552.5,1932.2 L553.5,1930.8 L554.5,1929.4 L555.5,1927.9 L556.5,1926.4 L557.5,1924.8 L558.5,1923.1 L559.5,1921.4 L560.5,1919.7 L561.5,1918.0 L562.5,1916.2 L563.5,1914.4 L564.5,1912.6 L565.5,1910.7 L566.5,1908.9 L567.5,1906.9 L568.5,1904.9 L569.5,1902.9 L570.5,1900.8 L571.5,1898.7 L572.5,1896.6 L573.5,1894.5 L574.5,1892.5 L575.5,1890.5 L576.5,1888.5 L577.5,1886.6 L578.5,1884.8 L579.5,1883.0 L580.5,1881.4 L581.5,1879.9 L582.5,1878.4 L583.5,1877.1 L584.5,1875.9 L585.5,1874.7 L586.5,1873.7 L587.5,1872.7 L588.5,1871.8 L589.5,1871.0 L590.5,1870.3 L591.5,1869.7 L592.5,1869.1 L593.5,1868.6 L594.5,1868.2 L595.5,1867.9 L596.5,1867.7 L597.5,1867.5 L598.5,1867.5 L599.5,1867.5 L600.5,1867.6 L601.5,1867.7 L602.5,1867.8 L603.5,1867.9 L604.5,1868.1 L605.5,1868.3 L606.5,1868.5 L607.5,1868.8 L608.5,1869.1 L609.5,1869.5 L610.5,1870.0 L611.5,1870.5 L612.5,1871.1 L613.5,1871.8 L614.5,1872.4 L615.5,1873.1 L616.5,1873.8 L617.5,1874.5 L618.5,1875.3 L619.5,1876.0 L620.5,1876.7 L621.5,1877.5 L622.5,1878.2 L623.5,1879.0 L624.5,1879.7 L625.5,1880.4 L626.5,1881.1 L627.5,1881.7 L628.5,1882.4 L629.5,1883.0 L630.5,1883.6 L631.5,1884.2 L632.5,1884.8 L633.5,1885.4 L634.5,1886.0 L635.5,1886.6 L636.5,1887.2 L637.5,1887.8 L638.5,1888.3 L639.5,1888.9 L640.5,1889.4 L641.5,1890.0 L642.5,1890.5 L643.5,1891.0 L644.5,1891.5 L645.5,1892.0 L646.5,1892.5 L647.5,1893.0 L648.5,1893.4 L649.5,1893.8 L650.5,1894.2 L651.5,1894.6 L652.5,1895.0 L653.5,1895.3 L654.5,1895.5 L655.5,1895.8 L656.5,1896.0 L657.5,1896.1 L658.5,1896.3 L659.5,1896.4 L660.5,1896.5 L661.5,1896.6 L662.5,1896.7 L663.5,1896.7 L664.5,1896.8 L665.5,1896.8 L666.5,1896.8 L667.5,1896.8 L668.5,1896.8 L669.5,1896.8 L670.5,1896.7 L671.5,1896.7 L672.5,1896.6 L673.5,1896.5 L674.5,1896.4 L675.5,1896.3 L676.5,1896.1 L677.5,1895.9 L678.5,1895.6 L679.5,1895.3 L680.5,1895.0 L681.5,1894.6 L682.5,1894.2 L683.5,1893.8 L684.5,1893.3 L685.5,1892.8 L686.5,1892.3 L687.5,1891.7 L688.5,1891.2 L689.5,1890.6 L690.5,1890.1 L691.5,1889.5 L692.5,1889.0 L693.5,1888.4 L694.5,1887.8 L695.5,1887.3 L696.5,1886.8 L697.5,1886.2 L698.5,1885.7 L699.5,1885.2 L700.5,1884.7 L701.5,1884.2 L702.5,1883.7 L703.5,1883.2 L704.5,1882.8 L705.5,1882.3 L706.5,1881.8 L707.5,1881.3 L708.5,1880.9 L709.5,1880.4 L710.5,1879.9 L711.5,1879.5 L712.5,1879.0 L713.5,1878.6 L714.5,1878.1 L715.5,1877.7 L716.5,1877.2 L717.5,1876.8 L718.5,1876.4 L719.5,1875.9 L720.5,1875.5 L721.5,1875.1 L722.5,1874.7 L723.5,1874.4 L724.5,1874.2 L725.5,1873.9 L726.5,1873.8 L727.5,1873.6 L728.5,1873.5 L729.5,1873.4 L730.5,1873.3 L731.5,1873.3 L732.5,1873.3 L733.5,1873.3 L734.5,1873.4 L735.5,1873.5 L736.5,1873.6 L737.5,1873.7 L738.5,1873.9 L739.5,1874.2 L740.5,1874.4 L741.5,1874.8 L742.5,1875.1 L743.5,1875.5 L744.5,1876.0 L745.5,1876.5 L746.5,1877.1 L747.5,1877.7 L748.5,1878.3 L749.5,1878.9 L750.5,1879.6 L751.5,1880.3 L752.5,1880.9 L753.5,1881.6 L754.5,1882.3 L755.5,1883.0 L756.5,1883.7 L757.5,1884.4 L758.5,1885.1 L759.5,1885.8 L760.5,1886.5 L761.5,1887.3 L762.5,1888.0 L763.5,1888.8 L764.5,1889.6 L765.5,1890.3 L766.5,1891.1 L767.5,1891.9 L768.5,1892.7 L769.5,1893.5 L770.5,1894.3 L771.5,1895.1 L772.5,1895.9 L773.5,1896.7 L774.5,1897.6 L775.5,1898.4 L776.5,1899.2 L777.5,1900.0 L778.5,1900.8 L779.5,1901.6 L780.5,1902.4 L781.5,1903.2 L782.5,1904.0 L783.5,1904.8 L784.5,1905.5 L785.5,1906.3 L786.5,1907.0 L787.5,1907.8 L788.5,1908.5 L789.5,1909.2 L790.5,1909.9 L791.5,1910.6 L792.5,1911.3 L793.5,1912.0 L794.5,1912.7 L795.5,1913.3 L796.5,1914.0 L797.5,1914.6 L798.5,1915.3 L799.5,1915.9 L800.5,1916.5 L801.5,1917.2 L802.5,1917.8 L803.5,1918.4 L804.5,1919.0 L805.5,1919.6 L806.5,1920.2 L807.5,1920.8 L808.5,1921.3 L809.5,1921.9 L810.5,1922.5 L811.5,1923.1 L812.5,1923.6 L813.5,1924.2 L814.5,1924.7 L815.5,1925.3 L816.5,1925.8 L817.5,1926.4 L818.5,1926.9 L819.5,1927.4 L820.5,1928.0 L821.5,1928.5 L822.5,1929.0 L823.5,1929.5 L824.5,1930.0 L825.5,1930.5 L826.5,1931.0 L827.5,1931.5 L828.5,1932.0 L829.5,1932.5 L830.5,1933.0 L831.5,1933.5 L832.5,1933.9 L833.5,1934.4 L834.5,1934.9 L835.5,1935.3 L836.5,1935.8 L837.5,1936.2 L838.5,1936.6 L839.5,1937.1 L840.5,1937.5 L841.5,1937.9 L842.5,1938.4 L843.5,1938.8 L844.5,1939.2 L845.5,1939.6 L846.5,1940.0 L847.5,1940.4 L848.5,1940.8 L849.5,1941.2 L850.5,1941.6 L851.5,1942.0 L852.5,1942.4 L853.5,1942.7 L854.5,1943.1 L855.5,1943.5 L856.5,1943.8 L857.5,1944.2 L858.5,1944.5 L859.5,1944.9 L860.5,1945.2 L861.5,1945.5 L862.5,1945.8 L863.5,1946.1 L864.5,1946.5 L865.5,1946.8 L866.5,1947.1 L867.5,1947.4 L868.5,1947.7 L869.5,1947.9 L870.5,1948.2 L871.5,1948.5 L872.5,1948.8 L873.5,1949.1 L874.5,1949.4 L875.5,1949.6 L876.5,1949.9 L877.5,1950.2 L878.5,1950.4 L879.5,1950.7 L880.5,1951.0 L881.5,1951.2 L882.5,1951.4 L883.5,1951.7 L884.5,1951.9 L885.5,1952.1 L886.5,1952.3 L887.5,1952.5 L888.5,1952.7 L889.5,1952.9 L890.5,1953.1 L891.5,1953.3 L892.5,1953.4 L893.5,1953.6 L894.5,1953.8 L895.5,1953.9 L896.5,1954.1 L897.5,1954.3 L898.5,1954.4 L899.5,1954.6 L900.5,1954.8 L901.5,1954.9 L902.5,1955.1 L903.5,1955.2 L904.5,1955.4 L905.5,1955.6 L906.5,1955.7 L907.5,1955.9 L908.5,1956.1 L909.5,1956.2 L910.5,1956.4 L911.5,1956.5 L912.5,1956.7 L913.5,1956.9 L914.5,1957.0 L915.5,1957.2 L916.5,1957.4 L917.5,1957.5 L918.5,1957.7 L919.5,1957.8 L920.5,1958.0 L921.5,1958.2 L922.5,1958.3 L923.5,1958.5 L924.5,1958.7 L925.5,1958.8 L926.5,1959.0 L927.5,1959.2 L928.5,1959.3 L929.5,1959.5 L930.5,1959.6 L931.5,1959.8 L932.5,1960.0 L933.5,1960.1 L934.5,1960.3 L935.5,1960.5 L936.5,1960.6 L937.5,1960.8 L938.5,1960.9 L939.5,1961.1 L940.5,1961.3 L941.5,1961.4 L942.5,1961.6 L943.5,1961.8 L944.5,1961.9 L945.5,1962.1 L946.5,1962.3 L947.5,1962.4 L948.5,1962.6 L949.5,1962.8 L950.5,1963.1 L951.5,1963.3 L952.5,1963.5" stroke-width="6.3"/>
</g>
<g stroke="#000" fill="none">
<line x1="16.4" y1="15.5" x2="16.4" y2="1969.5" stroke-width="4.2"/>
<line x1="14.2" y1="17.1" x2="993.4" y2="17.1" stroke-width="3.2"/>
<line x1="995.2" y1="17" x2="995.2" y2="1964" stroke-width="2.6" stroke="#f4f4f4"/>
<line x1="992.1" y1="15.5" x2="992.1" y2="1964.5" stroke-width="2.4" stroke="#2a2a2a"/>
<line x1="16" y1="503.6" x2="993" y2="503.6" stroke-width="2.7"/>
<line x1="16" y1="990.0" x2="993" y2="990.0" stroke-width="2.7"/>
<line x1="16" y1="1476.8" x2="993" y2="1476.8" stroke-width="3.5"/>
<line x1="14.3" y1="1963.1" x2="993.4" y2="1963.1" stroke-width="2.8"/>
<line x1="112.1" y1="1962" x2="112.1" y2="1974.5" stroke-width="2.6"/>
<line x1="303.6" y1="1962" x2="303.6" y2="1974.5" stroke-width="2.6"/>
<line x1="495.1" y1="1962" x2="495.1" y2="1974.5" stroke-width="2.6"/>
<line x1="686.6" y1="1962" x2="686.6" y2="1974.5" stroke-width="2.6"/>
<line x1="878.1" y1="1962" x2="878.1" y2="1974.5" stroke-width="2.6"/>
<line x1="207.8" y1="1962" x2="207.8" y2="1969.5" stroke-width="2.4"/>
<line x1="399.4" y1="1962" x2="399.4" y2="1969.5" stroke-width="2.4"/>
<line x1="590.9" y1="1962" x2="590.9" y2="1969.5" stroke-width="2.4"/>
<line x1="782.4" y1="1962" x2="782.4" y2="1969.5" stroke-width="2.4"/>
<line x1="973.9" y1="1962" x2="973.9" y2="1969.5" stroke-width="2.4"/>
<line x1="830.6" y1="75" x2="830.6" y2="273.6" stroke-width="3"/>
<line x1="819.2" y1="574" x2="819.2" y2="773" stroke-width="3"/>
<line x1="814.9" y1="1053" x2="814.9" y2="1250.6" stroke-width="3"/>
<line x1="810.3" y1="1524.7" x2="810.3" y2="1722.4" stroke-width="3"/>
</g>
<g font-family="'Liberation Sans', Arial, Helvetica, sans-serif" fill="#111" stroke="#111" stroke-width="0.35" style="font-kerning:none">
<text x="144.3" y="186" font-size="36.7" text-anchor="start" font-weight="normal">2158</text>
<text x="253.5" y="215.4" font-size="36.3" text-anchor="start" font-weight="normal">2108</text>
<text x="448" y="454.5" font-size="35.6" text-anchor="start" font-weight="normal">1999</text>
<text x="563.6" y="304.5" font-size="34" text-anchor="start" font-weight="normal">1941</text>
<text x="696.3" y="260.6" font-size="36" text-anchor="start" font-weight="normal">1880</text>
<text x="873.5" y="386" font-size="36" text-anchor="start" font-weight="normal">1809</text>
<text x="152.3" y="753.3" font-size="36.6" text-anchor="start" font-weight="normal">2160</text>
<text x="234.6" y="844" font-size="36" text-anchor="start" font-weight="normal">2134</text>
<text x="315" y="919" font-size="36" text-anchor="start" font-weight="normal">2104</text>
<text x="438" y="958" font-size="36" text-anchor="start" font-weight="normal">1985</text>
<text x="572.1" y="922.4" font-size="34.5" text-anchor="start" font-weight="normal">1941</text>
<text x="702" y="931.6" font-size="36" text-anchor="start" font-weight="normal">1879</text>
<text x="99.6" y="1336.6" font-size="36.7" text-anchor="start" font-weight="normal">2169</text>
<text x="193.4" y="1279.3" font-size="35.6" text-anchor="start" font-weight="normal">2131</text>
<text x="288.5" y="1293" font-size="35" text-anchor="start" font-weight="normal">2101</text>
<text x="373" y="1356.4" font-size="36" text-anchor="start" font-weight="normal">2085</text>
<text x="528.3" y="1348.4" font-size="35.2" text-anchor="start" font-weight="normal">1966</text>
<text x="634" y="1344.4" font-size="35.5" text-anchor="start" font-weight="normal">1926</text>
<text x="730.4" y="1370.4" font-size="34.7" text-anchor="start" font-weight="normal">1881</text>
<text x="144.9" y="1568.2" font-size="35.5" text-anchor="start" font-weight="normal">2161</text>
<text x="242.1" y="1629.9" font-size="36" text-anchor="start" font-weight="normal">2110</text>
<text x="447.8" y="1913.2" font-size="36" text-anchor="start" font-weight="normal">2001</text>
<text x="542" y="1844.7" font-size="35.6" text-anchor="start" font-weight="normal">1944</text>
<text x="707.5" y="1854.7" font-size="36" text-anchor="start" font-weight="normal">1878</text>
<text x="847" y="170.5" font-size="48.6" text-anchor="start" font-weight="normal">.05 A</text>
<text x="835.2" y="669.5" font-size="48.6" text-anchor="start" font-weight="normal">.05 A</text>
<text x="831.8" y="1147" font-size="48.6" text-anchor="start" font-weight="normal">.05 A</text>
<text x="826.7" y="1619.2" font-size="48.6" text-anchor="start" font-weight="normal">.05 A</text>
<text x="920.5" y="75.5" font-size="60" text-anchor="start" font-weight="bold">a</text>
<text x="922" y="579" font-size="60" text-anchor="start" font-weight="bold">b</text>
<text x="925" y="1055.5" font-size="60" text-anchor="start" font-weight="bold">c</text>
<text x="921" y="1536" font-size="60" text-anchor="start" font-weight="bold">d</text>
<text x="115.65" y="2016.7" font-size="35.2" text-anchor="middle" font-weight="normal">2200</text>
<text x="307.7" y="2016.7" font-size="35.2" text-anchor="middle" font-weight="normal">2100</text>
<text x="500.7" y="2016.7" font-size="35.2" text-anchor="middle" font-weight="normal">2000</text>
<text x="692.75" y="2016.7" font-size="35.2" text-anchor="middle" font-weight="normal">1900</text>
<text x="885.4" y="2016.7" font-size="35.2" text-anchor="middle" font-weight="normal">1800</text>
<text x="324.1" y="2071.9" font-size="40">Wavenumber [cm<tspan font-size="25.5" dy="-13.9" dx="3">-1</tspan><tspan dy="13.9" dx="2.8">]</tspan></text>
</g>
</svg>
</body></html>
